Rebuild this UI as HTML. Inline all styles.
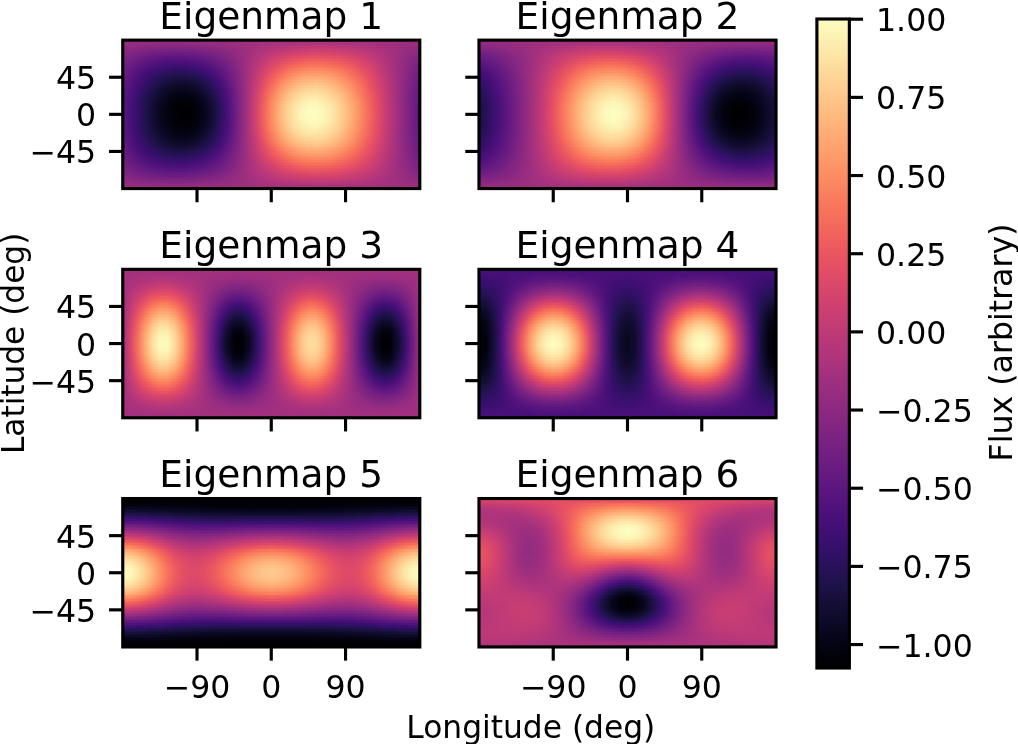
<!DOCTYPE html>
<html><head><meta charset="utf-8"><title>Eigenmaps</title>
<style>
html,body{margin:0;padding:0;background:#fff}
#fig{position:relative;width:1018px;height:744px;overflow:hidden;background:#fff}
.m{position:absolute;background-repeat:no-repeat}
#cb{position:absolute;left:816.9px;top:19px;width:32.45px;height:649px;background:linear-gradient(180deg,#fcfdbf 0.00%,#fcf7b9 1.56%,#fcf0b2 3.12%,#fde9aa 4.69%,#fde2a3 6.25%,#fdda9c 7.81%,#fed395 9.38%,#fecc8f 10.94%,#fec488 12.50%,#febd82 14.06%,#feb67c 15.62%,#feae77 17.19%,#fea772 18.75%,#fe9f6d 20.31%,#fd9869 21.88%,#fc9065 23.44%,#fc8961 25.00%,#fa815f 26.56%,#f9795d 28.12%,#f7725c 29.69%,#f56b5c 31.25%,#f2645c 32.81%,#ef5d5e 34.38%,#eb5760 35.94%,#e75263 37.50%,#e24d66 39.06%,#dc4869 40.62%,#d6456c 42.19%,#d0416f 43.75%,#ca3e72 45.31%,#c43c75 46.88%,#bd3977 48.44%,#b73779 50.00%,#b0357b 51.56%,#aa337d 53.12%,#a3307e 54.69%,#9c2e7f 56.25%,#962c80 57.81%,#902a81 59.38%,#892881 60.94%,#832681 62.50%,#7c2382 64.06%,#762181 65.62%,#701f81 67.19%,#6a1c81 68.75%,#641a80 70.31%,#5d177f 71.88%,#57157e 73.44%,#51127c 75.00%,#4a1079 76.56%,#440f76 78.12%,#3d0f71 79.69%,#36106b 81.25%,#2f1163 82.81%,#29115a 84.38%,#221150 85.94%,#1d1147 87.50%,#180f3d 89.06%,#130d34 90.62%,#0e0b2b 92.19%,#0a0822 93.75%,#06051a 95.31%,#030312 96.88%,#020109 98.44%,#000004 100.00%)}
svg{position:absolute;left:0;top:0}
svg text{font-family:"DejaVu Sans","Liberation Sans",sans-serif;font-size:31.6px;fill:#000}
svg line,svg rect{stroke:#000;stroke-width:3.14}
svg rect{stroke-linejoin:miter;stroke-linecap:square}
#m1{left:122.75px;top:40.15px;width:297.05px;height:148.40px;background-image:linear-gradient(90deg,#9e2f7f,#9c2e7f,#9c2e7f,#9c2e7f,#9c2e7f,#9c2e7f,#9c2e7f,#9c2e7f,#9c2e7f,#9c2e7f,#9c2e7f,#9c2e7f,#9c2e7f,#9e2f7f,#9e2f7f,#9e2f7f,#9e2f7f,#a02f7f,#a02f7f,#a02f7f,#a1307e,#a1307e,#a1307e,#a1307e,#a1307e,#a3307e,#a3307e,#a3307e,#a3307e,#a3307e,#a1307e,#a1307e,#a1307e,#a1307e,#a1307e,#a02f7f,#a02f7f,#a02f7f,#9e2f7f,#9e2f7f,#9e2f7f),
linear-gradient(90deg,#9b2e7f,#992d80,#982d80,#982d80,#962c80,#962c80,#962c80,#962c80,#962c80,#962c80,#982d80,#982d80,#992d80,#992d80,#9b2e7f,#9c2e7f,#9e2f7f,#a02f7f,#a1307e,#a3307e,#a5317e,#a5317e,#a6317d,#a8327d,#a8327d,#a8327d,#aa337d,#aa337d,#a8327d,#a8327d,#a8327d,#a6317d,#a6317d,#a5317e,#a3307e,#a1307e,#a02f7f,#9e2f7f,#9e2f7f,#9c2e7f,#9b2e7f),
linear-gradient(90deg,#982d80,#962c80,#942c80,#932b80,#912b81,#902a81,#902a81,#902a81,#902a81,#912b81,#912b81,#932b80,#942c80,#962c80,#992d80,#9b2e7f,#9e2f7f,#a02f7f,#a3307e,#a5317e,#a8327d,#aa337d,#ab337c,#ad347c,#ae347b,#ae347b,#b0357b,#b0357b,#ae347b,#ae347b,#ad347c,#ab337c,#aa337d,#a8327d,#a6317d,#a3307e,#a1307e,#9e2f7f,#9c2e7f,#992d80,#982d80),
linear-gradient(90deg,#942c80,#912b81,#902a81,#8e2a81,#8c2981,#8b2981,#892881,#892881,#892881,#8b2981,#8c2981,#8e2a81,#902a81,#932b80,#962c80,#992d80,#9c2e7f,#a02f7f,#a5317e,#a8327d,#ab337c,#ad347c,#b0357b,#b2357b,#b3367a,#b5367a,#b73779,#b73779,#b5367a,#b5367a,#b3367a,#b0357b,#ae347b,#ab337c,#a8327d,#a5317e,#a1307e,#9e2f7f,#9b2e7f,#982d80,#942c80),
linear-gradient(90deg,#912b81,#8e2a81,#8b2981,#892881,#862781,#842681,#842681,#832681,#842681,#842681,#862781,#892881,#8c2981,#902a81,#932b80,#982d80,#9c2e7f,#a1307e,#a5317e,#aa337d,#ae347b,#b2357b,#b5367a,#b83779,#ba3878,#bc3978,#bd3977,#bd3977,#bc3978,#ba3878,#b83779,#b5367a,#b2357b,#ae347b,#ab337c,#a6317d,#a3307e,#9e2f7f,#992d80,#962c80,#912b81),
linear-gradient(90deg,#902a81,#8b2981,#882781,#842681,#812581,#802582,#7e2482,#7e2482,#7e2482,#802582,#812581,#842681,#882781,#8c2981,#912b81,#962c80,#9b2e7f,#a1307e,#a6317d,#ad347c,#b2357b,#b73779,#ba3878,#bd3977,#c03a76,#c23b75,#c43c75,#c43c75,#c23b75,#c03a76,#bd3977,#ba3878,#b73779,#b2357b,#ad347c,#a8327d,#a3307e,#9e2f7f,#992d80,#942c80,#902a81),
linear-gradient(90deg,#8c2981,#882781,#832681,#802582,#7c2382,#792282,#782281,#782281,#782281,#792282,#7c2382,#802582,#832681,#882781,#8e2a81,#942c80,#9b2e7f,#a1307e,#a8327d,#ae347b,#b5367a,#ba3878,#bf3a77,#c43c75,#c73d73,#c83e73,#ca3e72,#ca3e72,#c83e73,#c73d73,#c43c75,#bf3a77,#bc3978,#b5367a,#b0357b,#aa337d,#a5317e,#9e2f7f,#982d80,#912b81,#8c2981),
linear-gradient(90deg,#892881,#842681,#802582,#7b2382,#762181,#752181,#732081,#721f81,#732081,#752181,#762181,#7b2382,#802582,#842681,#8b2981,#932b80,#992d80,#a1307e,#aa337d,#b2357b,#b83779,#bf3a77,#c43c75,#c83e73,#cc3f71,#cf4070,#d0416f,#d0416f,#cf4070,#cc3f71,#c83e73,#c43c75,#bf3a77,#ba3878,#b3367a,#ab337c,#a5317e,#9e2f7f,#962c80,#902a81,#892881),
linear-gradient(90deg,#882781,#812581,#7b2382,#762181,#721f81,#6e1e81,#6d1d81,#6d1d81,#6d1d81,#6e1e81,#721f81,#762181,#7b2382,#812581,#892881,#912b81,#992d80,#a1307e,#ab337c,#b3367a,#bc3978,#c43c75,#ca3e72,#cf4070,#d2426f,#d5446d,#d6456c,#d6456c,#d5446d,#d2426f,#cd4071,#c83e73,#c43c75,#bd3977,#b5367a,#ad347c,#a6317d,#9e2f7f,#962c80,#8e2a81,#882781),
linear-gradient(90deg,#842681,#7e2482,#782281,#721f81,#6d1d81,#6a1c81,#681c81,#671b80,#671b80,#6a1c81,#6d1d81,#721f81,#762181,#7e2482,#862781,#902a81,#992d80,#a3307e,#ad347c,#b73779,#bf3a77,#c73d73,#cf4070,#d3436e,#d8456c,#db476a,#dc4869,#dc4869,#d9466b,#d6456c,#d3436e,#cd4071,#c73d73,#c03a76,#b83779,#ae347b,#a6317d,#9e2f7f,#942c80,#8c2981,#842681),
linear-gradient(90deg,#832681,#7b2382,#732081,#6e1e81,#681c81,#651a80,#621980,#621980,#621980,#641a80,#671b80,#6d1d81,#732081,#7b2382,#832681,#8e2a81,#982d80,#a3307e,#ae347b,#b83779,#c43c75,#cc3f71,#d3436e,#d9466b,#de4968,#e04c67,#e24d66,#e04c67,#df4a68,#dc4869,#d8456c,#d2426f,#cc3f71,#c23b75,#ba3878,#b0357b,#a6317d,#9e2f7f,#942c80,#8b2981,#832681),
linear-gradient(90deg,#802582,#782281,#701f81,#6a1c81,#641a80,#601880,#5d177f,#5c167f,#5c167f,#5f187f,#621980,#681c81,#6e1e81,#782281,#812581,#8c2981,#982d80,#a3307e,#b0357b,#bc3978,#c73d73,#d0416f,#d8456c,#df4a68,#e34e65,#e55064,#e75263,#e55064,#e44f64,#e24d66,#dc4869,#d6456c,#cf4070,#c53c74,#bc3978,#b2357b,#a8327d,#9c2e7f,#932b80,#892881,#802582),
linear-gradient(90deg,#7e2482,#752181,#6d1d81,#651a80,#601880,#5c167f,#59157e,#57157e,#57157e,#59157e,#5d177f,#641a80,#6b1d81,#732081,#7e2482,#8b2981,#962c80,#a5317e,#b2357b,#bf3a77,#ca3e72,#d5446d,#dc4869,#e34e65,#e85362,#ea5661,#eb5760,#ea5661,#e95462,#e55064,#e04c67,#db476a,#d2426f,#c83e73,#bf3a77,#b3367a,#a8327d,#9c2e7f,#932b80,#882781,#7e2482),
linear-gradient(90deg,#7c2382,#721f81,#6a1c81,#621980,#5c167f,#57157e,#54137d,#52137c,#52137c,#54137d,#59157e,#5f187f,#671b80,#701f81,#7c2382,#882781,#962c80,#a5317e,#b3367a,#c03a76,#cd4071,#d8456c,#e24d66,#e85362,#eb5760,#ee5b5e,#ef5d5e,#ee5b5e,#ec5860,#ea5661,#e44f64,#de4968,#d6456c,#cc3f71,#c03a76,#b5367a,#aa337d,#9c2e7f,#912b81,#862781,#7c2382),
linear-gradient(90deg,#792282,#701f81,#671b80,#5f187f,#57157e,#52137c,#4e117b,#4c117a,#4c117a,#4f127b,#54137d,#5a167e,#621980,#6d1d81,#792282,#862781,#962c80,#a5317e,#b5367a,#c43c75,#d0416f,#dc4869,#e55064,#eb5760,#ef5d5e,#f2625d,#f2645c,#f2625d,#f05f5e,#ed5a5f,#e85362,#e24d66,#d9466b,#cf4070,#c43c75,#b73779,#aa337d,#9c2e7f,#912b81,#842681,#792282),
linear-gradient(90deg,#782281,#6d1d81,#641a80,#5a167e,#54137d,#4e117b,#491078,#471078,#471078,#4a1079,#4f127b,#56147d,#5f187f,#6a1c81,#762181,#842681,#942c80,#a5317e,#b73779,#c53c74,#d5446d,#e04c67,#e95462,#ef5d5e,#f2645c,#f4695c,#f56b5c,#f4695c,#f3655c,#f05f5e,#ec5860,#e55064,#dc4869,#d2426f,#c53c74,#b83779,#ab337c,#9c2e7f,#902a81,#842681,#782281),
linear-gradient(90deg,#762181,#6b1d81,#601880,#57157e,#4f127b,#491078,#440f76,#420f75,#420f75,#451077,#4a1079,#51127c,#5c167f,#671b80,#752181,#842681,#942c80,#a6317d,#b73779,#c83e73,#d8456c,#e44f64,#ec5860,#f2625d,#f56b5c,#f66e5c,#f7705c,#f7705c,#f56b5c,#f3655c,#ef5d5e,#e85362,#df4a68,#d3436e,#c73d73,#ba3878,#ab337c,#9c2e7f,#902a81,#832681,#762181),
linear-gradient(90deg,#752181,#681c81,#5d177f,#54137d,#4c117a,#451077,#400f74,#3d0f71,#3d0f71,#400f74,#451077,#4e117b,#57157e,#641a80,#721f81,#832681,#942c80,#a6317d,#b83779,#cc3f71,#db476a,#e75263,#ef5d5e,#f4695c,#f7705c,#f8765c,#f9785d,#f8765c,#f7725c,#f56b5c,#f1605d,#eb5760,#e24d66,#d6456c,#ca3e72,#bc3978,#ab337c,#9c2e7f,#902a81,#812581,#752181),
linear-gradient(90deg,#732081,#671b80,#5a167e,#51127c,#471078,#400f74,#3b0f70,#38106c,#38106c,#3b0f70,#400f74,#491078,#54137d,#601880,#701f81,#812581,#932b80,#a6317d,#ba3878,#cd4071,#de4968,#ea5661,#f2625d,#f66e5c,#f9785d,#fa7d5e,#fa7f5e,#fa7d5e,#f9785d,#f7705c,#f3655c,#ed5a5f,#e44f64,#d9466b,#cc3f71,#bc3978,#ad347c,#9c2e7f,#8e2a81,#802582,#732081),
linear-gradient(90deg,#721f81,#641a80,#59157e,#4e117b,#440f76,#3b0f70,#36106b,#331067,#331067,#36106b,#3b0f70,#440f76,#4f127b,#5d177f,#6d1d81,#802582,#932b80,#a8327d,#bc3978,#d0416f,#e04c67,#ed5a5f,#f4675c,#f8765c,#fa7f5e,#fb8560,#fb8761,#fb8560,#fa7f5e,#f8765c,#f56b5c,#f05f5e,#e85362,#db476a,#cd4071,#bd3977,#ad347c,#9c2e7f,#8e2a81,#7e2482,#721f81),
linear-gradient(90deg,#701f81,#621980,#56147d,#4a1079,#400f74,#38106c,#311165,#2d1161,#2d1161,#311165,#36106b,#400f74,#4c117a,#5a167e,#6b1d81,#7e2482,#932b80,#a8327d,#bd3977,#d2426f,#e34e65,#ef5d5e,#f66e5c,#f97b5d,#fb8560,#fc8a62,#fc8c63,#fc8a62,#fb8560,#f97b5d,#f7705c,#f2625d,#ea5661,#de4968,#cf4070,#bf3a77,#ae347b,#9c2e7f,#8c2981,#7e2482,#701f81),
linear-gradient(90deg,#6e1e81,#601880,#52137c,#471078,#3d0f71,#341069,#2d1161,#2a115c,#29115a,#2c115f,#331067,#3b0f70,#491078,#57157e,#681c81,#7c2382,#912b81,#a8327d,#bf3a77,#d5446d,#e55064,#f2625d,#f8745c,#fa815f,#fc8c63,#fd9266,#fd9467,#fd9266,#fc8c63,#fa815f,#f8765c,#f4675c,#eb5760,#e04c67,#d0416f,#c03a76,#ae347b,#9e2f7f,#8c2981,#7c2382,#6e1e81),
linear-gradient(90deg,#6d1d81,#5f187f,#51127c,#440f76,#390f6e,#2f1163,#29115a,#251255,#251255,#271258,#2d1161,#38106c,#451077,#54137d,#671b80,#7b2382,#912b81,#a8327d,#c03a76,#d6456c,#e95462,#f3655c,#f9795d,#fc8961,#fd9266,#fd9a6a,#fd9b6b,#fd9869,#fd9266,#fb8761,#f9795d,#f56b5c,#ed5a5f,#e24d66,#d2426f,#c03a76,#ae347b,#9e2f7f,#8c2981,#7c2382,#6d1d81),
linear-gradient(90deg,#6b1d81,#5c167f,#4f127b,#420f75,#36106b,#2c115f,#251255,#221150,#21114e,#241253,#29115a,#331067,#400f74,#52137c,#651a80,#792282,#912b81,#aa337d,#c23b75,#d9466b,#eb5760,#f56b5c,#fa7d5e,#fc8e64,#fd9a6a,#fe9f6d,#fea16e,#fe9f6d,#fd9869,#fc8c63,#fa7f5e,#f66e5c,#ef5d5e,#e44f64,#d3436e,#c23b75,#b0357b,#9e2f7f,#8c2981,#7b2382,#6b1d81),
linear-gradient(90deg,#6a1c81,#5a167e,#4c117a,#3f0f72,#331067,#29115a,#221150,#1e1149,#1e1149,#20114b,#251255,#2f1163,#3d0f71,#4f127b,#621980,#782281,#902a81,#aa337d,#c43c75,#db476a,#ed5a5f,#f66e5c,#fb835f,#fd9467,#fe9f6d,#fea772,#fea772,#fea571,#fe9d6c,#fd9266,#fb835f,#f7725c,#f1605d,#e55064,#d6456c,#c43c75,#b0357b,#9e2f7f,#8b2981,#792282,#6a1c81),
linear-gradient(90deg,#681c81,#59157e,#4a1079,#3b0f70,#2f1163,#251255,#20114b,#1c1044,#1a1042,#1d1147,#21114e,#2c115f,#390f6e,#4c117a,#601880,#762181,#902a81,#aa337d,#c53c74,#de4968,#ee5b5e,#f8745c,#fc8961,#fd9a6a,#fea571,#feac76,#feae77,#feaa74,#fea36f,#fd9869,#fc8961,#f8765c,#f2645c,#e75263,#d8456c,#c53c74,#b2357b,#9e2f7f,#8b2981,#792282,#681c81),
linear-gradient(90deg,#681c81,#57157e,#491078,#390f6e,#2c115f,#221150,#1c1044,#19103f,#180f3d,#19103f,#1e1149,#271258,#36106b,#491078,#5f187f,#762181,#902a81,#ab337c,#c73d73,#df4a68,#f05f5e,#f9785d,#fc8e64,#fe9f6d,#feaa74,#feb27a,#feb47b,#feb078,#fea973,#fd9b6b,#fc8c63,#f9795d,#f3655c,#e95462,#d8456c,#c53c74,#b2357b,#9e2f7f,#8b2981,#782281,#681c81),
linear-gradient(90deg,#671b80,#56147d,#451077,#38106c,#2a115c,#20114b,#19103f,#150e38,#140e36,#160f3b,#1c1044,#241253,#331067,#471078,#5c167f,#752181,#8e2a81,#ab337c,#c73d73,#e04c67,#f2625d,#f97b5d,#fd9266,#fea571,#feb27a,#feb77e,#feb97f,#feb67c,#feae77,#fea16e,#fc9065,#fa7d5e,#f4695c,#ea5661,#d9466b,#c73d73,#b2357b,#9e2f7f,#8b2981,#782281,#671b80),
linear-gradient(90deg,#651a80,#54137d,#440f76,#341069,#271258,#1d1147,#160f3b,#130d34,#120d31,#140e36,#19103f,#21114e,#2f1163,#440f76,#5a167e,#732081,#8e2a81,#ab337c,#c83e73,#e34e65,#f3655c,#fa815f,#fd9869,#feaa74,#feb77e,#febd82,#febf84,#febb81,#feb27a,#fea571,#fd9467,#fa815f,#f56b5c,#eb5760,#db476a,#c73d73,#b3367a,#9e2f7f,#8b2981,#782281,#651a80),
linear-gradient(90deg,#651a80,#54137d,#420f75,#331067,#251255,#1c1044,#150e38,#110c2f,#100b2d,#110c2f,#150e38,#1e1149,#2d1161,#420f75,#59157e,#721f81,#8e2a81,#ab337c,#ca3e72,#e44f64,#f4695c,#fb8560,#fe9d6c,#feae77,#febb81,#fec287,#fec488,#fec185,#feb77e,#feaa74,#fd9a6a,#fb8560,#f66e5c,#ec5860,#dc4869,#c83e73,#b3367a,#9e2f7f,#892881,#762181,#651a80),
linear-gradient(90deg,#641a80,#52137c,#400f74,#311165,#221150,#19103f,#130d34,#0e0b2b,#0d0a29,#0e0b2b,#130d34,#1c1044,#2a115c,#3f0f72,#57157e,#721f81,#8e2a81,#ad347c,#cc3f71,#e55064,#f66c5c,#fc8961,#fea16e,#feb47b,#fec185,#fec88c,#feca8d,#fec68a,#febb81,#feae77,#fe9d6c,#fb8761,#f7705c,#ed5a5f,#de4968,#ca3e72,#b3367a,#9e2f7f,#892881,#762181,#641a80),
linear-gradient(90deg,#641a80,#51127c,#3f0f72,#2f1163,#21114e,#180f3d,#110c2f,#0c0926,#0b0924,#0c0926,#120d31,#19103f,#271258,#3d0f71,#56147d,#701f81,#8e2a81,#ad347c,#cc3f71,#e75263,#f66e5c,#fc8c63,#fea571,#feb97f,#fec68a,#fecd90,#fecf92,#feca8d,#fec185,#feb27a,#fe9f6d,#fc8a62,#f8745c,#ee5b5e,#df4a68,#ca3e72,#b3367a,#9e2f7f,#892881,#762181,#641a80),
linear-gradient(90deg,#621980,#4f127b,#3f0f72,#2d1161,#20114b,#150e38,#0e0b2b,#0b0924,#090720,#0b0924,#100b2d,#180f3d,#251255,#3b0f70,#54137d,#6e1e81,#8c2981,#ad347c,#cd4071,#e95462,#f7725c,#fc9065,#fea973,#febd82,#fecc8f,#fed395,#fed395,#fecf92,#fec488,#feb67c,#fea36f,#fc8e64,#f8765c,#ef5d5e,#e04c67,#cc3f71,#b5367a,#9e2f7f,#892881,#752181,#621980),
linear-gradient(90deg,#621980,#4f127b,#3d0f71,#2c115f,#1e1149,#140e36,#0d0a29,#090720,#08071e,#090720,#0d0a29,#150e38,#221150,#38106c,#52137c,#6e1e81,#8c2981,#ad347c,#cf4070,#ea5661,#f8745c,#fd9467,#feae77,#fec185,#fecf92,#fed799,#fed89a,#fed395,#fec88c,#feb97f,#fea772,#fc9065,#f9785d,#f05f5e,#e04c67,#cc3f71,#b5367a,#9e2f7f,#892881,#752181,#621980),
linear-gradient(90deg,#601880,#4e117b,#3b0f70,#2a115c,#1c1044,#130d34,#0c0926,#08071e,#06051a,#07061c,#0b0924,#140e36,#21114e,#36106b,#51127c,#6d1d81,#8c2981,#ae347b,#d0416f,#eb5760,#f9785d,#fd9668,#feb27a,#fec68a,#fed395,#fdda9c,#fddc9e,#fed799,#fecc8f,#febd82,#feaa74,#fd9266,#f9795d,#f1605d,#e24d66,#cc3f71,#b5367a,#9e2f7f,#892881,#752181,#601880),
linear-gradient(90deg,#601880,#4e117b,#390f6e,#29115a,#1a1042,#110c2f,#0a0822,#06051a,#050416,#06051a,#0a0822,#120d31,#20114b,#341069,#4f127b,#6d1d81,#8c2981,#ae347b,#d0416f,#ec5860,#f9795d,#fd9a6a,#feb67c,#feca8d,#fed89a,#fde0a1,#fde0a1,#fdda9c,#fecf92,#fec185,#feac76,#fd9668,#f97b5d,#f2625d,#e24d66,#cd4071,#b5367a,#9e2f7f,#892881,#732081,#601880),
linear-gradient(90deg,#5f187f,#4c117a,#390f6e,#271258,#19103f,#100b2d,#090720,#060518,#040414,#050416,#08071e,#110c2f,#1d1147,#331067,#4e117b,#6b1d81,#8c2981,#ae347b,#d2426f,#ed5a5f,#f97b5d,#fe9d6c,#feb77e,#fecd90,#fddc9e,#fde3a5,#fde3a5,#fddea0,#fed395,#fec488,#feb078,#fd9869,#fa7d5e,#f2645c,#e34e65,#cd4071,#b73779,#9e2f7f,#892881,#732081,#5f187f),
linear-gradient(90deg,#5f187f,#4c117a,#38106c,#251255,#19103f,#0e0b2b,#08071e,#050416,#030312,#040414,#07061c,#0e0b2b,#1c1044,#311165,#4e117b,#6b1d81,#8b2981,#ae347b,#d2426f,#ee5b5e,#fa7d5e,#fe9f6d,#febb81,#fed194,#fde0a1,#fde7a9,#fde7a9,#fde2a3,#fed799,#fec68a,#feb27a,#fd9a6a,#fa7f5e,#f3655c,#e44f64,#cf4070,#b73779,#9e2f7f,#882781,#732081,#5f187f),
linear-gradient(90deg,#5f187f,#4a1079,#36106b,#251255,#180f3d,#0d0a29,#07061c,#030312,#02020d,#03030f,#06051a,#0d0a29,#1a1042,#2f1163,#4c117a,#6a1c81,#8b2981,#ae347b,#d3436e,#ee5b5e,#fa815f,#fea36f,#febf84,#fed395,#fde2a3,#fdebac,#fdebac,#fde5a7,#fdda9c,#fec88c,#feb47b,#fd9b6b,#fa815f,#f3655c,#e44f64,#cf4070,#b73779,#9e2f7f,#882781,#732081,#5f187f),
linear-gradient(90deg,#5d177f,#4a1079,#36106b,#241253,#160f3b,#0d0a29,#06051a,#03030f,#02020b,#02020d,#050416,#0c0926,#19103f,#2d1161,#4a1079,#6a1c81,#8b2981,#b0357b,#d3436e,#ef5d5e,#fb835f,#fea571,#fec185,#fed799,#fde5a7,#fcecae,#fceeb0,#fde7a9,#fddc9e,#fecc8f,#feb67c,#fe9d6c,#fb835f,#f4675c,#e55064,#cf4070,#b73779,#a02f7f,#882781,#732081,#5d177f),
linear-gradient(90deg,#5d177f,#4a1079,#36106b,#221150,#150e38,#0c0926,#060518,#02020d,#020109,#02020b,#040414,#0b0924,#180f3d,#2c115f,#4a1079,#681c81,#8b2981,#b0357b,#d5446d,#f05f5e,#fb8560,#fea772,#fec287,#fed89a,#fde9aa,#fcf0b2,#fcf0b2,#fdebac,#fddea0,#fecd90,#feb77e,#fe9f6d,#fb8560,#f4675c,#e55064,#d0416f,#b73779,#a02f7f,#882781,#721f81,#5d177f),
linear-gradient(90deg,#5d177f,#491078,#341069,#221150,#150e38,#0b0924,#050416,#02020b,#010108,#020109,#030312,#0a0822,#160f3b,#2c115f,#491078,#681c81,#8b2981,#b0357b,#d5446d,#f1605d,#fb8560,#fea973,#fec68a,#fddc9e,#fdebac,#fcf2b4,#fcf4b6,#fcecae,#fde2a3,#fecf92,#feb97f,#fea16e,#fb8560,#f4695c,#e55064,#d0416f,#b83779,#a02f7f,#882781,#721f81,#5d177f),
linear-gradient(90deg,#5d177f,#491078,#341069,#21114e,#140e36,#0a0822,#040414,#02020b,#010108,#010108,#030312,#090720,#150e38,#2a115c,#491078,#681c81,#8b2981,#b0357b,#d5446d,#f1605d,#fb8761,#feaa74,#fec88c,#fddea0,#fcecae,#fcf4b6,#fcf6b8,#fceeb0,#fde3a5,#fed194,#febb81,#fea36f,#fb8761,#f4695c,#e75263,#d0416f,#b83779,#a02f7f,#882781,#721f81,#5d177f),
linear-gradient(90deg,#5d177f,#491078,#331067,#21114e,#140e36,#0a0822,#040414,#020109,#010106,#010108,#03030f,#090720,#150e38,#2a115c,#471078,#681c81,#8b2981,#b0357b,#d6456c,#f2625d,#fc8961,#feac76,#feca8d,#fde0a1,#fceeb0,#fcf7b9,#fcf7b9,#fcf0b2,#fde5a7,#fed395,#febd82,#fea36f,#fb8761,#f56b5c,#e75263,#d0416f,#b83779,#a02f7f,#882781,#721f81,#5d177f),
linear-gradient(90deg,#5c167f,#471078,#331067,#21114e,#130d34,#090720,#030312,#010108,#010005,#010106,#02020d,#08071e,#140e36,#29115a,#471078,#671b80,#8b2981,#b0357b,#d6456c,#f2625d,#fc8961,#feae77,#feca8d,#fde2a3,#fcf0b2,#fcf9bb,#fcf9bb,#fcf2b4,#fde5a7,#fed597,#febf84,#fea571,#fc8961,#f56b5c,#e75263,#d0416f,#b83779,#a02f7f,#882781,#721f81,#5c167f),
linear-gradient(90deg,#5c167f,#471078,#331067,#20114b,#130d34,#090720,#030312,#010108,#010005,#010005,#02020d,#07061c,#140e36,#29115a,#471078,#671b80,#8b2981,#b0357b,#d6456c,#f2625d,#fc8a62,#feae77,#fecc8f,#fde3a5,#fcf2b4,#fcf9bb,#fcfbbd,#fcf4b6,#fde7a9,#fed597,#febf84,#fea571,#fc8961,#f56b5c,#e75263,#d2426f,#b83779,#a02f7f,#882781,#721f81,#5c167f),
linear-gradient(90deg,#5c167f,#471078,#331067,#20114b,#130d34,#090720,#03030f,#010108,#000004,#010005,#02020b,#07061c,#130d34,#271258,#451077,#671b80,#8b2981,#b0357b,#d6456c,#f2645c,#fc8a62,#feb078,#fecd90,#fde3a5,#fcf4b6,#fcfbbd,#fcfbbd,#fcf6b8,#fde9aa,#fed799,#fec185,#fea772,#fc8961,#f66c5c,#e85362,#d2426f,#b83779,#a02f7f,#882781,#721f81,#5c167f),
linear-gradient(90deg,#5c167f,#471078,#331067,#20114b,#130d34,#08071e,#03030f,#010106,#000004,#010005,#02020b,#07061c,#130d34,#271258,#451077,#671b80,#8b2981,#b0357b,#d6456c,#f2645c,#fc8c63,#feb078,#fecd90,#fde5a7,#fcf4b6,#fcfbbd,#fcfdbf,#fcf6b8,#fde9aa,#fed799,#fec185,#fea772,#fc8a62,#f66c5c,#e85362,#d2426f,#b83779,#a02f7f,#882781,#721f81,#5c167f),
linear-gradient(90deg,#5c167f,#471078,#331067,#20114b,#120d31,#08071e,#03030f,#010106,#000004,#000004,#02020b,#07061c,#130d34,#271258,#451077,#671b80,#8b2981,#b0357b,#d8456c,#f2645c,#fc8c63,#feb078,#fecd90,#fde5a7,#fcf4b6,#fcfdbf,#fcfdbf,#fcf6b8,#fde9aa,#fed799,#fec185,#fea772,#fc8a62,#f66c5c,#e85362,#d2426f,#b83779,#a02f7f,#882781,#721f81,#5c167f),
linear-gradient(90deg,#5c167f,#471078,#331067,#20114b,#120d31,#08071e,#03030f,#010106,#000004,#000004,#02020b,#06051a,#130d34,#271258,#451077,#671b80,#8b2981,#b0357b,#d8456c,#f2645c,#fc8c63,#feb078,#fecf92,#fde5a7,#fcf6b8,#fcfdbf,#fcfdbf,#fcf7b9,#fde9aa,#fed799,#fec185,#fea772,#fc8a62,#f66c5c,#e85362,#d2426f,#b83779,#a02f7f,#882781,#721f81,#5c167f),
linear-gradient(90deg,#5c167f,#471078,#331067,#20114b,#120d31,#08071e,#03030f,#010106,#000004,#000004,#02020b,#06051a,#130d34,#271258,#451077,#671b80,#8b2981,#b0357b,#d8456c,#f2645c,#fc8c63,#feb078,#fecf92,#fde5a7,#fcf6b8,#fcfdbf,#fcfdbf,#fcf7b9,#fde9aa,#fed799,#fec185,#fea772,#fc8a62,#f66c5c,#e85362,#d2426f,#b83779,#a02f7f,#882781,#721f81,#5c167f),
linear-gradient(90deg,#5c167f,#471078,#331067,#20114b,#120d31,#08071e,#03030f,#010106,#000004,#000004,#02020b,#07061c,#130d34,#271258,#451077,#671b80,#8b2981,#b0357b,#d8456c,#f2645c,#fc8c63,#feb078,#fecd90,#fde5a7,#fcf4b6,#fcfdbf,#fcfdbf,#fcf6b8,#fde9aa,#fed799,#fec185,#fea772,#fc8a62,#f66c5c,#e85362,#d2426f,#b83779,#a02f7f,#882781,#721f81,#5c167f),
linear-gradient(90deg,#5c167f,#471078,#331067,#20114b,#130d34,#08071e,#03030f,#010106,#000004,#010005,#02020b,#07061c,#130d34,#271258,#451077,#671b80,#8b2981,#b0357b,#d6456c,#f2645c,#fc8c63,#feb078,#fecd90,#fde5a7,#fcf4b6,#fcfbbd,#fcfdbf,#fcf6b8,#fde9aa,#fed799,#fec185,#fea772,#fc8a62,#f66c5c,#e85362,#d2426f,#b83779,#a02f7f,#882781,#721f81,#5c167f),
linear-gradient(90deg,#5c167f,#471078,#331067,#20114b,#130d34,#090720,#03030f,#010108,#000004,#010005,#02020b,#07061c,#130d34,#271258,#451077,#671b80,#8b2981,#b0357b,#d6456c,#f2645c,#fc8a62,#feb078,#fecd90,#fde3a5,#fcf4b6,#fcfbbd,#fcfbbd,#fcf6b8,#fde9aa,#fed799,#fec185,#fea772,#fc8961,#f66c5c,#e85362,#d2426f,#b83779,#a02f7f,#882781,#721f81,#5c167f),
linear-gradient(90deg,#5c167f,#471078,#331067,#20114b,#130d34,#090720,#030312,#010108,#010005,#010005,#02020d,#07061c,#140e36,#29115a,#471078,#671b80,#8b2981,#b0357b,#d6456c,#f2625d,#fc8a62,#feae77,#fecc8f,#fde3a5,#fcf2b4,#fcf9bb,#fcfbbd,#fcf4b6,#fde7a9,#fed597,#febf84,#fea571,#fc8961,#f56b5c,#e75263,#d2426f,#b83779,#a02f7f,#882781,#721f81,#5c167f),
linear-gradient(90deg,#5c167f,#471078,#331067,#21114e,#130d34,#090720,#030312,#010108,#010005,#010106,#02020d,#08071e,#140e36,#29115a,#471078,#671b80,#8b2981,#b0357b,#d6456c,#f2625d,#fc8961,#feae77,#feca8d,#fde2a3,#fcf0b2,#fcf9bb,#fcf9bb,#fcf2b4,#fde5a7,#fed597,#febf84,#fea571,#fc8961,#f56b5c,#e75263,#d0416f,#b83779,#a02f7f,#882781,#721f81,#5c167f),
linear-gradient(90deg,#5d177f,#491078,#331067,#21114e,#140e36,#0a0822,#040414,#020109,#010106,#010108,#03030f,#090720,#150e38,#2a115c,#471078,#681c81,#8b2981,#b0357b,#d6456c,#f2625d,#fc8961,#feac76,#feca8d,#fde0a1,#fceeb0,#fcf7b9,#fcf7b9,#fcf0b2,#fde5a7,#fed395,#febd82,#fea36f,#fb8761,#f56b5c,#e75263,#d0416f,#b83779,#a02f7f,#882781,#721f81,#5d177f),
linear-gradient(90deg,#5d177f,#491078,#341069,#21114e,#140e36,#0a0822,#040414,#02020b,#010108,#010108,#030312,#090720,#150e38,#2a115c,#491078,#681c81,#8b2981,#b0357b,#d5446d,#f1605d,#fb8761,#feaa74,#fec88c,#fddea0,#fcecae,#fcf4b6,#fcf6b8,#fceeb0,#fde3a5,#fed194,#febb81,#fea36f,#fb8761,#f4695c,#e75263,#d0416f,#b83779,#a02f7f,#882781,#721f81,#5d177f),
linear-gradient(90deg,#5d177f,#491078,#341069,#221150,#150e38,#0b0924,#050416,#02020b,#010108,#020109,#030312,#0a0822,#160f3b,#2c115f,#491078,#681c81,#8b2981,#b0357b,#d5446d,#f1605d,#fb8560,#fea973,#fec68a,#fddc9e,#fdebac,#fcf2b4,#fcf4b6,#fcecae,#fde2a3,#fecf92,#feb97f,#fea16e,#fb8560,#f4695c,#e55064,#d0416f,#b83779,#a02f7f,#882781,#721f81,#5d177f),
linear-gradient(90deg,#5d177f,#4a1079,#36106b,#221150,#150e38,#0c0926,#060518,#02020d,#020109,#02020b,#040414,#0b0924,#180f3d,#2c115f,#4a1079,#681c81,#8b2981,#b0357b,#d5446d,#f05f5e,#fb8560,#fea772,#fec287,#fed89a,#fde9aa,#fcf0b2,#fcf0b2,#fdebac,#fddea0,#fecd90,#feb77e,#fe9f6d,#fb8560,#f4675c,#e55064,#d0416f,#b73779,#a02f7f,#882781,#721f81,#5d177f),
linear-gradient(90deg,#5d177f,#4a1079,#36106b,#241253,#160f3b,#0d0a29,#06051a,#03030f,#02020b,#02020d,#050416,#0c0926,#19103f,#2d1161,#4a1079,#6a1c81,#8b2981,#b0357b,#d3436e,#ef5d5e,#fb835f,#fea571,#fec185,#fed799,#fde5a7,#fcecae,#fceeb0,#fde7a9,#fddc9e,#fecc8f,#feb67c,#fe9d6c,#fb835f,#f4675c,#e55064,#cf4070,#b73779,#a02f7f,#882781,#732081,#5d177f),
linear-gradient(90deg,#5f187f,#4a1079,#36106b,#251255,#180f3d,#0d0a29,#07061c,#030312,#02020d,#03030f,#06051a,#0d0a29,#1a1042,#2f1163,#4c117a,#6a1c81,#8b2981,#ae347b,#d3436e,#ee5b5e,#fa815f,#fea36f,#febf84,#fed395,#fde2a3,#fdebac,#fdebac,#fde5a7,#fdda9c,#fec88c,#feb47b,#fd9b6b,#fa815f,#f3655c,#e44f64,#cf4070,#b73779,#9e2f7f,#882781,#732081,#5f187f),
linear-gradient(90deg,#5f187f,#4c117a,#38106c,#251255,#19103f,#0e0b2b,#08071e,#050416,#030312,#040414,#07061c,#0e0b2b,#1c1044,#311165,#4e117b,#6b1d81,#8b2981,#ae347b,#d2426f,#ee5b5e,#fa7d5e,#fe9f6d,#febb81,#fed194,#fde0a1,#fde7a9,#fde7a9,#fde2a3,#fed799,#fec68a,#feb27a,#fd9a6a,#fa7f5e,#f3655c,#e44f64,#cf4070,#b73779,#9e2f7f,#882781,#732081,#5f187f),
linear-gradient(90deg,#5f187f,#4c117a,#390f6e,#271258,#19103f,#100b2d,#090720,#060518,#040414,#050416,#08071e,#110c2f,#1d1147,#331067,#4e117b,#6b1d81,#8c2981,#ae347b,#d2426f,#ed5a5f,#f97b5d,#fe9d6c,#feb77e,#fecd90,#fddc9e,#fde3a5,#fde3a5,#fddea0,#fed395,#fec488,#feb078,#fd9869,#fa7d5e,#f2645c,#e34e65,#cd4071,#b73779,#9e2f7f,#892881,#732081,#5f187f),
linear-gradient(90deg,#601880,#4e117b,#390f6e,#29115a,#1a1042,#110c2f,#0a0822,#06051a,#050416,#06051a,#0a0822,#120d31,#20114b,#341069,#4f127b,#6d1d81,#8c2981,#ae347b,#d0416f,#ec5860,#f9795d,#fd9a6a,#feb67c,#feca8d,#fed89a,#fde0a1,#fde0a1,#fdda9c,#fecf92,#fec185,#feac76,#fd9668,#f97b5d,#f2625d,#e24d66,#cd4071,#b5367a,#9e2f7f,#892881,#732081,#601880),
linear-gradient(90deg,#601880,#4e117b,#3b0f70,#2a115c,#1c1044,#130d34,#0c0926,#08071e,#06051a,#07061c,#0b0924,#140e36,#21114e,#36106b,#51127c,#6d1d81,#8c2981,#ae347b,#d0416f,#eb5760,#f9785d,#fd9668,#feb27a,#fec68a,#fed395,#fdda9c,#fddc9e,#fed799,#fecc8f,#febd82,#feaa74,#fd9266,#f9795d,#f1605d,#e24d66,#cc3f71,#b5367a,#9e2f7f,#892881,#752181,#601880),
linear-gradient(90deg,#621980,#4f127b,#3d0f71,#2c115f,#1e1149,#140e36,#0d0a29,#090720,#08071e,#090720,#0d0a29,#150e38,#221150,#38106c,#52137c,#6e1e81,#8c2981,#ad347c,#cf4070,#ea5661,#f8745c,#fd9467,#feae77,#fec185,#fecf92,#fed799,#fed89a,#fed395,#fec88c,#feb97f,#fea772,#fc9065,#f9785d,#f05f5e,#e04c67,#cc3f71,#b5367a,#9e2f7f,#892881,#752181,#621980),
linear-gradient(90deg,#621980,#4f127b,#3f0f72,#2d1161,#20114b,#150e38,#0e0b2b,#0b0924,#090720,#0b0924,#100b2d,#180f3d,#251255,#3b0f70,#54137d,#6e1e81,#8c2981,#ad347c,#cd4071,#e95462,#f7725c,#fc9065,#fea973,#febd82,#fecc8f,#fed395,#fed395,#fecf92,#fec488,#feb67c,#fea36f,#fc8e64,#f8765c,#ef5d5e,#e04c67,#cc3f71,#b5367a,#9e2f7f,#892881,#752181,#621980),
linear-gradient(90deg,#641a80,#51127c,#3f0f72,#2f1163,#21114e,#180f3d,#110c2f,#0c0926,#0b0924,#0c0926,#120d31,#19103f,#271258,#3d0f71,#56147d,#701f81,#8e2a81,#ad347c,#cc3f71,#e75263,#f66e5c,#fc8c63,#fea571,#feb97f,#fec68a,#fecd90,#fecf92,#feca8d,#fec185,#feb27a,#fe9f6d,#fc8a62,#f8745c,#ee5b5e,#df4a68,#ca3e72,#b3367a,#9e2f7f,#892881,#762181,#641a80),
linear-gradient(90deg,#641a80,#52137c,#400f74,#311165,#221150,#19103f,#130d34,#0e0b2b,#0d0a29,#0e0b2b,#130d34,#1c1044,#2a115c,#3f0f72,#57157e,#721f81,#8e2a81,#ad347c,#cc3f71,#e55064,#f66c5c,#fc8961,#fea16e,#feb47b,#fec185,#fec88c,#feca8d,#fec68a,#febb81,#feae77,#fe9d6c,#fb8761,#f7705c,#ed5a5f,#de4968,#ca3e72,#b3367a,#9e2f7f,#892881,#762181,#641a80),
linear-gradient(90deg,#651a80,#54137d,#420f75,#331067,#251255,#1c1044,#150e38,#110c2f,#100b2d,#110c2f,#150e38,#1e1149,#2d1161,#420f75,#59157e,#721f81,#8e2a81,#ab337c,#ca3e72,#e44f64,#f4695c,#fb8560,#fe9d6c,#feae77,#febb81,#fec287,#fec488,#fec185,#feb77e,#feaa74,#fd9a6a,#fb8560,#f66e5c,#ec5860,#dc4869,#c83e73,#b3367a,#9e2f7f,#892881,#762181,#651a80),
linear-gradient(90deg,#651a80,#54137d,#440f76,#341069,#271258,#1d1147,#160f3b,#130d34,#120d31,#140e36,#19103f,#21114e,#2f1163,#440f76,#5a167e,#732081,#8e2a81,#ab337c,#c83e73,#e34e65,#f3655c,#fa815f,#fd9869,#feaa74,#feb77e,#febd82,#febf84,#febb81,#feb27a,#fea571,#fd9467,#fa815f,#f56b5c,#eb5760,#db476a,#c73d73,#b3367a,#9e2f7f,#8b2981,#782281,#651a80),
linear-gradient(90deg,#671b80,#56147d,#451077,#38106c,#2a115c,#20114b,#19103f,#150e38,#140e36,#160f3b,#1c1044,#241253,#331067,#471078,#5c167f,#752181,#8e2a81,#ab337c,#c73d73,#e04c67,#f2625d,#f97b5d,#fd9266,#fea571,#feb27a,#feb77e,#feb97f,#feb67c,#feae77,#fea16e,#fc9065,#fa7d5e,#f4695c,#ea5661,#d9466b,#c73d73,#b2357b,#9e2f7f,#8b2981,#782281,#671b80),
linear-gradient(90deg,#681c81,#57157e,#491078,#390f6e,#2c115f,#221150,#1c1044,#19103f,#180f3d,#19103f,#1e1149,#271258,#36106b,#491078,#5f187f,#762181,#902a81,#ab337c,#c73d73,#df4a68,#f05f5e,#f9785d,#fc8e64,#fe9f6d,#feaa74,#feb27a,#feb47b,#feb078,#fea973,#fd9b6b,#fc8c63,#f9795d,#f3655c,#e95462,#d8456c,#c53c74,#b2357b,#9e2f7f,#8b2981,#782281,#681c81),
linear-gradient(90deg,#681c81,#59157e,#4a1079,#3b0f70,#2f1163,#251255,#20114b,#1c1044,#1a1042,#1d1147,#21114e,#2c115f,#390f6e,#4c117a,#601880,#762181,#902a81,#aa337d,#c53c74,#de4968,#ee5b5e,#f8745c,#fc8961,#fd9a6a,#fea571,#feac76,#feae77,#feaa74,#fea36f,#fd9869,#fc8961,#f8765c,#f2645c,#e75263,#d8456c,#c53c74,#b2357b,#9e2f7f,#8b2981,#792282,#681c81),
linear-gradient(90deg,#6a1c81,#5a167e,#4c117a,#3f0f72,#331067,#29115a,#221150,#1e1149,#1e1149,#20114b,#251255,#2f1163,#3d0f71,#4f127b,#621980,#782281,#902a81,#aa337d,#c43c75,#db476a,#ed5a5f,#f66e5c,#fb835f,#fd9467,#fe9f6d,#fea772,#fea772,#fea571,#fe9d6c,#fd9266,#fb835f,#f7725c,#f1605d,#e55064,#d6456c,#c43c75,#b0357b,#9e2f7f,#8b2981,#792282,#6a1c81),
linear-gradient(90deg,#6b1d81,#5c167f,#4f127b,#420f75,#36106b,#2c115f,#251255,#221150,#21114e,#241253,#29115a,#331067,#400f74,#52137c,#651a80,#792282,#912b81,#aa337d,#c23b75,#d9466b,#eb5760,#f56b5c,#fa7d5e,#fc8e64,#fd9a6a,#fe9f6d,#fea16e,#fe9f6d,#fd9869,#fc8c63,#fa7f5e,#f66e5c,#ef5d5e,#e44f64,#d3436e,#c23b75,#b0357b,#9e2f7f,#8c2981,#7b2382,#6b1d81),
linear-gradient(90deg,#6d1d81,#5f187f,#51127c,#440f76,#390f6e,#2f1163,#29115a,#251255,#251255,#271258,#2d1161,#38106c,#451077,#54137d,#671b80,#7b2382,#912b81,#a8327d,#c03a76,#d6456c,#e95462,#f3655c,#f9795d,#fc8961,#fd9266,#fd9a6a,#fd9b6b,#fd9869,#fd9266,#fb8761,#f9795d,#f56b5c,#ed5a5f,#e24d66,#d2426f,#c03a76,#ae347b,#9e2f7f,#8c2981,#7c2382,#6d1d81),
linear-gradient(90deg,#6e1e81,#601880,#52137c,#471078,#3d0f71,#341069,#2d1161,#2a115c,#29115a,#2c115f,#331067,#3b0f70,#491078,#57157e,#681c81,#7c2382,#912b81,#a8327d,#bf3a77,#d5446d,#e55064,#f2625d,#f8745c,#fa815f,#fc8c63,#fd9266,#fd9467,#fd9266,#fc8c63,#fa815f,#f8765c,#f4675c,#eb5760,#e04c67,#d0416f,#c03a76,#ae347b,#9e2f7f,#8c2981,#7c2382,#6e1e81),
linear-gradient(90deg,#701f81,#621980,#56147d,#4a1079,#400f74,#38106c,#311165,#2d1161,#2d1161,#311165,#36106b,#400f74,#4c117a,#5a167e,#6b1d81,#7e2482,#932b80,#a8327d,#bd3977,#d2426f,#e34e65,#ef5d5e,#f66e5c,#f97b5d,#fb8560,#fc8a62,#fc8c63,#fc8a62,#fb8560,#f97b5d,#f7705c,#f2625d,#ea5661,#de4968,#cf4070,#bf3a77,#ae347b,#9c2e7f,#8c2981,#7e2482,#701f81),
linear-gradient(90deg,#721f81,#641a80,#59157e,#4e117b,#440f76,#3b0f70,#36106b,#331067,#331067,#36106b,#3b0f70,#440f76,#4f127b,#5d177f,#6d1d81,#802582,#932b80,#a8327d,#bc3978,#d0416f,#e04c67,#ed5a5f,#f4675c,#f8765c,#fa7f5e,#fb8560,#fb8761,#fb8560,#fa7f5e,#f8765c,#f56b5c,#f05f5e,#e85362,#db476a,#cd4071,#bd3977,#ad347c,#9c2e7f,#8e2a81,#7e2482,#721f81),
linear-gradient(90deg,#732081,#671b80,#5a167e,#51127c,#471078,#400f74,#3b0f70,#38106c,#38106c,#3b0f70,#400f74,#491078,#54137d,#601880,#701f81,#812581,#932b80,#a6317d,#ba3878,#cd4071,#de4968,#ea5661,#f2625d,#f66e5c,#f9785d,#fa7d5e,#fa7f5e,#fa7d5e,#f9785d,#f7705c,#f3655c,#ed5a5f,#e44f64,#d9466b,#cc3f71,#bc3978,#ad347c,#9c2e7f,#8e2a81,#802582,#732081),
linear-gradient(90deg,#752181,#681c81,#5d177f,#54137d,#4c117a,#451077,#400f74,#3d0f71,#3d0f71,#400f74,#451077,#4e117b,#57157e,#641a80,#721f81,#832681,#942c80,#a6317d,#b83779,#cc3f71,#db476a,#e75263,#ef5d5e,#f4695c,#f7705c,#f8765c,#f9785d,#f8765c,#f7725c,#f56b5c,#f1605d,#eb5760,#e24d66,#d6456c,#ca3e72,#bc3978,#ab337c,#9c2e7f,#902a81,#812581,#752181),
linear-gradient(90deg,#762181,#6b1d81,#601880,#57157e,#4f127b,#491078,#440f76,#420f75,#420f75,#451077,#4a1079,#51127c,#5c167f,#671b80,#752181,#842681,#942c80,#a6317d,#b73779,#c83e73,#d8456c,#e44f64,#ec5860,#f2625d,#f56b5c,#f66e5c,#f7705c,#f7705c,#f56b5c,#f3655c,#ef5d5e,#e85362,#df4a68,#d3436e,#c73d73,#ba3878,#ab337c,#9c2e7f,#902a81,#832681,#762181),
linear-gradient(90deg,#782281,#6d1d81,#641a80,#5a167e,#54137d,#4e117b,#491078,#471078,#471078,#4a1079,#4f127b,#56147d,#5f187f,#6a1c81,#762181,#842681,#942c80,#a5317e,#b73779,#c53c74,#d5446d,#e04c67,#e95462,#ef5d5e,#f2645c,#f4695c,#f56b5c,#f4695c,#f3655c,#f05f5e,#ec5860,#e55064,#dc4869,#d2426f,#c53c74,#b83779,#ab337c,#9c2e7f,#902a81,#842681,#782281),
linear-gradient(90deg,#792282,#701f81,#671b80,#5f187f,#57157e,#52137c,#4e117b,#4c117a,#4c117a,#4f127b,#54137d,#5a167e,#621980,#6d1d81,#792282,#862781,#962c80,#a5317e,#b5367a,#c43c75,#d0416f,#dc4869,#e55064,#eb5760,#ef5d5e,#f2625d,#f2645c,#f2625d,#f05f5e,#ed5a5f,#e85362,#e24d66,#d9466b,#cf4070,#c43c75,#b73779,#aa337d,#9c2e7f,#912b81,#842681,#792282),
linear-gradient(90deg,#7c2382,#721f81,#6a1c81,#621980,#5c167f,#57157e,#54137d,#52137c,#52137c,#54137d,#59157e,#5f187f,#671b80,#701f81,#7c2382,#882781,#962c80,#a5317e,#b3367a,#c03a76,#cd4071,#d8456c,#e24d66,#e85362,#eb5760,#ee5b5e,#ef5d5e,#ee5b5e,#ec5860,#ea5661,#e44f64,#de4968,#d6456c,#cc3f71,#c03a76,#b5367a,#aa337d,#9c2e7f,#912b81,#862781,#7c2382),
linear-gradient(90deg,#7e2482,#752181,#6d1d81,#651a80,#601880,#5c167f,#59157e,#57157e,#57157e,#59157e,#5d177f,#641a80,#6b1d81,#732081,#7e2482,#8b2981,#962c80,#a5317e,#b2357b,#bf3a77,#ca3e72,#d5446d,#dc4869,#e34e65,#e85362,#ea5661,#eb5760,#ea5661,#e95462,#e55064,#e04c67,#db476a,#d2426f,#c83e73,#bf3a77,#b3367a,#a8327d,#9c2e7f,#932b80,#882781,#7e2482),
linear-gradient(90deg,#802582,#782281,#701f81,#6a1c81,#641a80,#601880,#5d177f,#5c167f,#5c167f,#5f187f,#621980,#681c81,#6e1e81,#782281,#812581,#8c2981,#982d80,#a3307e,#b0357b,#bc3978,#c73d73,#d0416f,#d8456c,#df4a68,#e34e65,#e55064,#e75263,#e55064,#e44f64,#e24d66,#dc4869,#d6456c,#cf4070,#c53c74,#bc3978,#b2357b,#a8327d,#9c2e7f,#932b80,#892881,#802582),
linear-gradient(90deg,#832681,#7b2382,#732081,#6e1e81,#681c81,#651a80,#621980,#621980,#621980,#641a80,#671b80,#6d1d81,#732081,#7b2382,#832681,#8e2a81,#982d80,#a3307e,#ae347b,#b83779,#c43c75,#cc3f71,#d3436e,#d9466b,#de4968,#e04c67,#e24d66,#e04c67,#df4a68,#dc4869,#d8456c,#d2426f,#cc3f71,#c23b75,#ba3878,#b0357b,#a6317d,#9e2f7f,#942c80,#8b2981,#832681),
linear-gradient(90deg,#842681,#7e2482,#782281,#721f81,#6d1d81,#6a1c81,#681c81,#671b80,#671b80,#6a1c81,#6d1d81,#721f81,#762181,#7e2482,#862781,#902a81,#992d80,#a3307e,#ad347c,#b73779,#bf3a77,#c73d73,#cf4070,#d3436e,#d8456c,#db476a,#dc4869,#dc4869,#d9466b,#d6456c,#d3436e,#cd4071,#c73d73,#c03a76,#b83779,#ae347b,#a6317d,#9e2f7f,#942c80,#8c2981,#842681),
linear-gradient(90deg,#882781,#812581,#7b2382,#762181,#721f81,#6e1e81,#6d1d81,#6d1d81,#6d1d81,#6e1e81,#721f81,#762181,#7b2382,#812581,#892881,#912b81,#992d80,#a1307e,#ab337c,#b3367a,#bc3978,#c43c75,#ca3e72,#cf4070,#d2426f,#d5446d,#d6456c,#d6456c,#d5446d,#d2426f,#cd4071,#c83e73,#c43c75,#bd3977,#b5367a,#ad347c,#a6317d,#9e2f7f,#962c80,#8e2a81,#882781),
linear-gradient(90deg,#892881,#842681,#802582,#7b2382,#762181,#752181,#732081,#721f81,#732081,#752181,#762181,#7b2382,#802582,#842681,#8b2981,#932b80,#992d80,#a1307e,#aa337d,#b2357b,#b83779,#bf3a77,#c43c75,#c83e73,#cc3f71,#cf4070,#d0416f,#d0416f,#cf4070,#cc3f71,#c83e73,#c43c75,#bf3a77,#ba3878,#b3367a,#ab337c,#a5317e,#9e2f7f,#962c80,#902a81,#892881),
linear-gradient(90deg,#8c2981,#882781,#832681,#802582,#7c2382,#792282,#782281,#782281,#782281,#792282,#7c2382,#802582,#832681,#882781,#8e2a81,#942c80,#9b2e7f,#a1307e,#a8327d,#ae347b,#b5367a,#ba3878,#bf3a77,#c43c75,#c73d73,#c83e73,#ca3e72,#ca3e72,#c83e73,#c73d73,#c43c75,#bf3a77,#bc3978,#b5367a,#b0357b,#aa337d,#a5317e,#9e2f7f,#982d80,#912b81,#8c2981),
linear-gradient(90deg,#902a81,#8b2981,#882781,#842681,#812581,#802582,#7e2482,#7e2482,#7e2482,#802582,#812581,#842681,#882781,#8c2981,#912b81,#962c80,#9b2e7f,#a1307e,#a6317d,#ad347c,#b2357b,#b73779,#ba3878,#bd3977,#c03a76,#c23b75,#c43c75,#c43c75,#c23b75,#c03a76,#bd3977,#ba3878,#b73779,#b2357b,#ad347c,#a8327d,#a3307e,#9e2f7f,#992d80,#942c80,#902a81),
linear-gradient(90deg,#912b81,#8e2a81,#8b2981,#892881,#862781,#842681,#842681,#832681,#842681,#842681,#862781,#892881,#8c2981,#902a81,#932b80,#982d80,#9c2e7f,#a1307e,#a5317e,#aa337d,#ae347b,#b2357b,#b5367a,#b83779,#ba3878,#bc3978,#bd3977,#bd3977,#bc3978,#ba3878,#b83779,#b5367a,#b2357b,#ae347b,#ab337c,#a6317d,#a3307e,#9e2f7f,#992d80,#962c80,#912b81),
linear-gradient(90deg,#942c80,#912b81,#902a81,#8e2a81,#8c2981,#8b2981,#892881,#892881,#892881,#8b2981,#8c2981,#8e2a81,#902a81,#932b80,#962c80,#992d80,#9c2e7f,#a02f7f,#a5317e,#a8327d,#ab337c,#ad347c,#b0357b,#b2357b,#b3367a,#b5367a,#b73779,#b73779,#b5367a,#b5367a,#b3367a,#b0357b,#ae347b,#ab337c,#a8327d,#a5317e,#a1307e,#9e2f7f,#9b2e7f,#982d80,#942c80),
linear-gradient(90deg,#982d80,#962c80,#942c80,#932b80,#912b81,#902a81,#902a81,#902a81,#902a81,#912b81,#912b81,#932b80,#942c80,#962c80,#992d80,#9b2e7f,#9e2f7f,#a02f7f,#a3307e,#a5317e,#a8327d,#aa337d,#ab337c,#ad347c,#ae347b,#ae347b,#b0357b,#b0357b,#ae347b,#ae347b,#ad347c,#ab337c,#aa337d,#a8327d,#a6317d,#a3307e,#a1307e,#9e2f7f,#9c2e7f,#992d80,#982d80),
linear-gradient(90deg,#9b2e7f,#992d80,#982d80,#982d80,#962c80,#962c80,#962c80,#962c80,#962c80,#962c80,#982d80,#982d80,#992d80,#992d80,#9b2e7f,#9c2e7f,#9e2f7f,#a02f7f,#a1307e,#a3307e,#a5317e,#a5317e,#a6317d,#a8327d,#a8327d,#a8327d,#aa337d,#aa337d,#a8327d,#a8327d,#a8327d,#a6317d,#a6317d,#a5317e,#a3307e,#a1307e,#a02f7f,#9e2f7f,#9e2f7f,#9c2e7f,#9b2e7f),
linear-gradient(90deg,#9e2f7f,#9c2e7f,#9c2e7f,#9c2e7f,#9c2e7f,#9c2e7f,#9c2e7f,#9c2e7f,#9c2e7f,#9c2e7f,#9c2e7f,#9c2e7f,#9c2e7f,#9e2f7f,#9e2f7f,#9e2f7f,#9e2f7f,#a02f7f,#a02f7f,#a02f7f,#a1307e,#a1307e,#a1307e,#a1307e,#a1307e,#a3307e,#a3307e,#a3307e,#a3307e,#a3307e,#a1307e,#a1307e,#a1307e,#a1307e,#a1307e,#a02f7f,#a02f7f,#a02f7f,#9e2f7f,#9e2f7f,#9e2f7f);background-size:100% 3.48px;background-position:0 146.92px,0 145.43px,0 143.95px,0 142.46px,0 140.98px,0 139.50px,0 138.01px,0 136.53px,0 135.04px,0 133.56px,0 132.08px,0 130.59px,0 129.11px,0 127.62px,0 126.14px,0 124.66px,0 123.17px,0 121.69px,0 120.20px,0 118.72px,0 117.24px,0 115.75px,0 114.27px,0 112.78px,0 111.30px,0 109.82px,0 108.33px,0 106.85px,0 105.36px,0 103.88px,0 102.40px,0 100.91px,0 99.43px,0 97.94px,0 96.46px,0 94.98px,0 93.49px,0 92.01px,0 90.52px,0 89.04px,0 87.56px,0 86.07px,0 84.59px,0 83.10px,0 81.62px,0 80.14px,0 78.65px,0 77.17px,0 75.68px,0 74.20px,0 72.72px,0 71.23px,0 69.75px,0 68.26px,0 66.78px,0 65.30px,0 63.81px,0 62.33px,0 60.84px,0 59.36px,0 57.88px,0 56.39px,0 54.91px,0 53.42px,0 51.94px,0 50.46px,0 48.97px,0 47.49px,0 46.00px,0 44.52px,0 43.04px,0 41.55px,0 40.07px,0 38.58px,0 37.10px,0 35.62px,0 34.13px,0 32.65px,0 31.16px,0 29.68px,0 28.20px,0 26.71px,0 25.23px,0 23.74px,0 22.26px,0 20.78px,0 19.29px,0 17.81px,0 16.32px,0 14.84px,0 13.36px,0 11.87px,0 10.39px,0 8.90px,0 7.42px,0 5.94px,0 4.45px,0 2.97px,0 1.48px,0 0.00px}
#m2{left:478.97px;top:40.15px;width:297.06px;height:148.40px;background-image:linear-gradient(90deg,#9b2e7f,#9b2e7f,#9b2e7f,#9b2e7f,#9c2e7f,#9c2e7f,#9c2e7f,#9e2f7f,#9e2f7f,#9e2f7f,#a02f7f,#a02f7f,#a02f7f,#a02f7f,#a02f7f,#a02f7f,#a1307e,#a1307e,#a1307e,#a02f7f,#a02f7f,#a02f7f,#a02f7f,#a02f7f,#9e2f7f,#9e2f7f,#9e2f7f,#9e2f7f,#9c2e7f,#9c2e7f,#9c2e7f,#9b2e7f,#9b2e7f,#9b2e7f,#9b2e7f,#9b2e7f,#9b2e7f,#9b2e7f,#9b2e7f,#9b2e7f,#9b2e7f),
linear-gradient(90deg,#962c80,#962c80,#982d80,#982d80,#992d80,#9b2e7f,#9c2e7f,#9e2f7f,#a02f7f,#a02f7f,#a1307e,#a3307e,#a5317e,#a5317e,#a6317d,#a6317d,#a6317d,#a6317d,#a6317d,#a6317d,#a6317d,#a5317e,#a5317e,#a3307e,#a1307e,#a02f7f,#9e2f7f,#9c2e7f,#9c2e7f,#9b2e7f,#992d80,#982d80,#962c80,#962c80,#942c80,#942c80,#942c80,#942c80,#942c80,#942c80,#962c80),
linear-gradient(90deg,#902a81,#912b81,#932b80,#942c80,#962c80,#992d80,#9b2e7f,#9e2f7f,#a02f7f,#a3307e,#a5317e,#a6317d,#aa337d,#ab337c,#ab337c,#ad347c,#ad347c,#ad347c,#ad347c,#ad347c,#ab337c,#ab337c,#a8327d,#a6317d,#a5317e,#a1307e,#a02f7f,#9c2e7f,#9b2e7f,#982d80,#962c80,#942c80,#932b80,#912b81,#902a81,#8e2a81,#8e2a81,#8e2a81,#8e2a81,#902a81,#902a81),
linear-gradient(90deg,#8b2981,#8c2981,#8e2a81,#912b81,#942c80,#982d80,#9b2e7f,#9e2f7f,#a1307e,#a5317e,#a8327d,#ab337c,#ad347c,#b0357b,#b2357b,#b3367a,#b3367a,#b3367a,#b3367a,#b3367a,#b2357b,#b0357b,#ad347c,#ab337c,#a8327d,#a5317e,#a1307e,#9c2e7f,#992d80,#962c80,#932b80,#902a81,#8e2a81,#8b2981,#892881,#892881,#882781,#882781,#882781,#892881,#8b2981),
linear-gradient(90deg,#862781,#882781,#8b2981,#8e2a81,#912b81,#962c80,#992d80,#9e2f7f,#a3307e,#a6317d,#ab337c,#ae347b,#b2357b,#b5367a,#b73779,#b83779,#ba3878,#ba3878,#ba3878,#ba3878,#b73779,#b5367a,#b2357b,#ae347b,#ab337c,#a6317d,#a1307e,#9c2e7f,#982d80,#942c80,#902a81,#8c2981,#892881,#862781,#842681,#832681,#832681,#812581,#832681,#842681,#862781),
linear-gradient(90deg,#812581,#832681,#882781,#8b2981,#902a81,#942c80,#992d80,#9e2f7f,#a3307e,#a8327d,#ad347c,#b2357b,#b73779,#ba3878,#bd3977,#bf3a77,#c03a76,#c03a76,#c03a76,#bf3a77,#bd3977,#ba3878,#b73779,#b2357b,#ad347c,#a8327d,#a3307e,#9c2e7f,#982d80,#912b81,#8c2981,#882781,#842681,#812581,#7e2482,#7c2382,#7c2382,#7c2382,#7c2382,#7e2482,#812581),
linear-gradient(90deg,#7c2382,#802582,#832681,#882781,#8c2981,#932b80,#982d80,#9e2f7f,#a5317e,#aa337d,#b0357b,#b5367a,#ba3878,#bf3a77,#c23b75,#c53c74,#c73d73,#c73d73,#c73d73,#c53c74,#c43c75,#c03a76,#bc3978,#b73779,#b0357b,#aa337d,#a3307e,#9c2e7f,#962c80,#902a81,#892881,#842681,#802582,#7c2382,#792282,#782281,#762181,#762181,#782281,#792282,#7c2382),
linear-gradient(90deg,#782281,#7b2382,#802582,#842681,#8b2981,#912b81,#982d80,#9e2f7f,#a5317e,#ad347c,#b3367a,#b83779,#bf3a77,#c43c75,#c83e73,#cc3f71,#cd4071,#cd4071,#cd4071,#cc3f71,#c83e73,#c53c74,#c03a76,#ba3878,#b3367a,#ad347c,#a5317e,#9c2e7f,#942c80,#8e2a81,#862781,#812581,#7b2382,#782281,#752181,#721f81,#721f81,#721f81,#721f81,#752181,#782281),
linear-gradient(90deg,#732081,#762181,#7c2382,#812581,#882781,#902a81,#962c80,#9e2f7f,#a6317d,#ae347b,#b5367a,#bd3977,#c43c75,#c83e73,#cd4071,#d0416f,#d3436e,#d3436e,#d3436e,#d2426f,#cf4070,#ca3e72,#c53c74,#bf3a77,#b73779,#ae347b,#a5317e,#9c2e7f,#932b80,#8b2981,#832681,#7c2382,#762181,#721f81,#6e1e81,#6d1d81,#6b1d81,#6b1d81,#6d1d81,#6e1e81,#732081),
linear-gradient(90deg,#6e1e81,#732081,#782281,#802582,#862781,#8e2a81,#962c80,#9e2f7f,#a6317d,#b0357b,#b83779,#c03a76,#c73d73,#cd4071,#d2426f,#d6456c,#d9466b,#d9466b,#d9466b,#d8456c,#d5446d,#d0416f,#ca3e72,#c23b75,#ba3878,#b0357b,#a6317d,#9c2e7f,#932b80,#892881,#812581,#792282,#732081,#6d1d81,#6a1c81,#671b80,#671b80,#671b80,#681c81,#6a1c81,#6e1e81),
linear-gradient(90deg,#6a1c81,#6e1e81,#752181,#7c2382,#842681,#8c2981,#942c80,#9e2f7f,#a8327d,#b2357b,#ba3878,#c43c75,#cc3f71,#d2426f,#d8456c,#db476a,#de4968,#df4a68,#df4a68,#de4968,#db476a,#d5446d,#cf4070,#c73d73,#bd3977,#b2357b,#a8327d,#9c2e7f,#912b81,#882781,#7e2482,#752181,#6e1e81,#681c81,#651a80,#621980,#601880,#601880,#621980,#651a80,#6a1c81),
linear-gradient(90deg,#651a80,#6b1d81,#721f81,#792282,#812581,#8b2981,#942c80,#9e2f7f,#a8327d,#b3367a,#bd3977,#c73d73,#cf4070,#d6456c,#dc4869,#e04c67,#e34e65,#e44f64,#e44f64,#e34e65,#df4a68,#db476a,#d3436e,#ca3e72,#c03a76,#b5367a,#a8327d,#9c2e7f,#902a81,#842681,#7b2382,#721f81,#6a1c81,#641a80,#5f187f,#5c167f,#5c167f,#5c167f,#5d177f,#601880,#651a80),
linear-gradient(90deg,#621980,#681c81,#6e1e81,#762181,#802582,#892881,#942c80,#9e2f7f,#aa337d,#b5367a,#bf3a77,#ca3e72,#d2426f,#db476a,#e04c67,#e55064,#e85362,#e95462,#e95462,#e85362,#e44f64,#df4a68,#d8456c,#cf4070,#c43c75,#b73779,#aa337d,#9c2e7f,#8e2a81,#832681,#782281,#6e1e81,#651a80,#5f187f,#5a167e,#57157e,#56147d,#57157e,#59157e,#5c167f,#621980),
linear-gradient(90deg,#5d177f,#641a80,#6b1d81,#752181,#7e2482,#882781,#932b80,#9e2f7f,#aa337d,#b73779,#c23b75,#cc3f71,#d6456c,#de4968,#e44f64,#e95462,#ec5860,#ed5a5f,#ed5a5f,#ec5860,#e95462,#e44f64,#dc4869,#d2426f,#c53c74,#b83779,#aa337d,#9b2e7f,#8e2a81,#802582,#752181,#6a1c81,#601880,#5a167e,#56147d,#52137c,#51127c,#51127c,#54137d,#59157e,#5d177f),
linear-gradient(90deg,#5a167e,#601880,#681c81,#721f81,#7c2382,#882781,#932b80,#9e2f7f,#ab337c,#b83779,#c43c75,#cf4070,#d9466b,#e24d66,#e85362,#ed5a5f,#f05f5e,#f1605d,#f1605d,#f05f5e,#ed5a5f,#e85362,#e04c67,#d6456c,#c83e73,#ba3878,#ab337c,#9b2e7f,#8c2981,#7e2482,#721f81,#671b80,#5d177f,#56147d,#51127c,#4e117b,#4c117a,#4c117a,#4f127b,#54137d,#5a167e),
linear-gradient(90deg,#56147d,#5d177f,#671b80,#701f81,#7b2382,#862781,#912b81,#9e2f7f,#ab337c,#b83779,#c53c74,#d2426f,#dc4869,#e55064,#ec5860,#f05f5e,#f2645c,#f4675c,#f4675c,#f3655c,#f05f5e,#eb5760,#e44f64,#d9466b,#cc3f71,#bd3977,#ab337c,#9b2e7f,#8b2981,#7c2382,#6e1e81,#621980,#59157e,#51127c,#4a1079,#471078,#471078,#471078,#4a1079,#4f127b,#56147d),
linear-gradient(90deg,#52137c,#5a167e,#641a80,#6d1d81,#792282,#842681,#912b81,#9e2f7f,#ad347c,#ba3878,#c83e73,#d5446d,#e04c67,#e95462,#ef5d5e,#f3655c,#f56b5c,#f66e5c,#f66e5c,#f66c5c,#f3655c,#ef5d5e,#e85362,#de4968,#cf4070,#bf3a77,#ad347c,#9b2e7f,#892881,#792282,#6b1d81,#5f187f,#54137d,#4c117a,#451077,#420f75,#420f75,#420f75,#451077,#4c117a,#52137c),
linear-gradient(90deg,#4f127b,#57157e,#601880,#6b1d81,#782281,#832681,#912b81,#9e2f7f,#ad347c,#bc3978,#ca3e72,#d8456c,#e34e65,#eb5760,#f2625d,#f56b5c,#f7725c,#f8765c,#f8765c,#f7725c,#f66c5c,#f2625d,#eb5760,#e04c67,#d2426f,#c03a76,#ae347b,#9b2e7f,#892881,#782281,#681c81,#5c167f,#51127c,#471078,#400f74,#3d0f71,#3d0f71,#3d0f71,#420f75,#471078,#4f127b),
linear-gradient(90deg,#4a1079,#54137d,#5f187f,#6a1c81,#762181,#832681,#902a81,#9e2f7f,#ae347b,#bd3977,#cc3f71,#d9466b,#e55064,#ee5b5e,#f4675c,#f7705c,#f9785d,#f97b5d,#fa7d5e,#f9795d,#f7725c,#f4695c,#ee5b5e,#e44f64,#d5446d,#c23b75,#ae347b,#9b2e7f,#882781,#762181,#651a80,#57157e,#4c117a,#420f75,#3b0f70,#38106c,#38106c,#390f6e,#3d0f71,#440f76,#4a1079),
linear-gradient(90deg,#471078,#51127c,#5c167f,#681c81,#752181,#812581,#902a81,#9e2f7f,#ae347b,#bf3a77,#cd4071,#dc4869,#e85362,#f05f5e,#f56b5c,#f8765c,#fa7f5e,#fb835f,#fb8560,#fa815f,#f9795d,#f66e5c,#f1605d,#e75263,#d8456c,#c53c74,#b0357b,#9b2e7f,#862781,#732081,#641a80,#54137d,#491078,#3f0f72,#38106c,#331067,#331067,#341069,#390f6e,#3f0f72,#471078),
linear-gradient(90deg,#440f76,#4f127b,#5a167e,#651a80,#732081,#812581,#902a81,#9e2f7f,#ae347b,#c03a76,#d0416f,#df4a68,#ea5661,#f2645c,#f7705c,#fa7d5e,#fb8560,#fc8a62,#fc8a62,#fc8961,#fa815f,#f8745c,#f3655c,#e95462,#db476a,#c73d73,#b0357b,#9b2e7f,#842681,#721f81,#601880,#51127c,#440f76,#390f6e,#331067,#2d1161,#2d1161,#2f1163,#341069,#3b0f70,#440f76),
linear-gradient(90deg,#400f74,#4c117a,#57157e,#641a80,#721f81,#802582,#902a81,#9e2f7f,#b0357b,#c03a76,#d2426f,#e04c67,#ec5860,#f4675c,#f8765c,#fb835f,#fc8c63,#fc9065,#fd9266,#fc8e64,#fb8761,#f9795d,#f56b5c,#ec5860,#dc4869,#c83e73,#b2357b,#9b2e7f,#842681,#701f81,#5d177f,#4e117b,#400f74,#341069,#2d1161,#2a115c,#29115a,#2c115f,#311165,#38106c,#400f74),
linear-gradient(90deg,#3f0f72,#491078,#56147d,#621980,#701f81,#7e2482,#8e2a81,#a02f7f,#b0357b,#c23b75,#d3436e,#e34e65,#ee5b5e,#f56b5c,#f97b5d,#fc8961,#fd9266,#fd9869,#fd9a6a,#fd9668,#fc8c63,#fa815f,#f66e5c,#ee5b5e,#df4a68,#ca3e72,#b2357b,#9b2e7f,#832681,#6d1d81,#5a167e,#4a1079,#3b0f70,#311165,#29115a,#251255,#251255,#271258,#2c115f,#341069,#3f0f72),
linear-gradient(90deg,#3b0f70,#471078,#54137d,#601880,#6e1e81,#7e2482,#8e2a81,#a02f7f,#b0357b,#c43c75,#d5446d,#e44f64,#f05f5e,#f7705c,#fa7f5e,#fc8e64,#fd9869,#fe9d6c,#fe9f6d,#fd9b6b,#fd9467,#fb8761,#f8745c,#f05f5e,#e24d66,#cc3f71,#b3367a,#992d80,#812581,#6b1d81,#59157e,#471078,#38106c,#2c115f,#251255,#21114e,#21114e,#241253,#29115a,#311165,#3b0f70),
linear-gradient(90deg,#38106c,#440f76,#51127c,#5f187f,#6d1d81,#7c2382,#8e2a81,#a02f7f,#b2357b,#c43c75,#d6456c,#e55064,#f1605d,#f8745c,#fb8560,#fd9467,#fe9d6c,#fea571,#fea772,#fea36f,#fd9a6a,#fc8c63,#f9795d,#f2645c,#e44f64,#cd4071,#b3367a,#992d80,#812581,#6a1c81,#56147d,#440f76,#331067,#29115a,#21114e,#1e1149,#1e1149,#20114b,#251255,#2d1161,#38106c),
linear-gradient(90deg,#36106b,#420f75,#4f127b,#5d177f,#6d1d81,#7c2382,#8c2981,#a02f7f,#b2357b,#c53c74,#d8456c,#e85362,#f2645c,#f9785d,#fc8961,#fd9869,#fea36f,#feaa74,#feac76,#fea973,#fe9f6d,#fd9266,#fa7f5e,#f4675c,#e55064,#d0416f,#b5367a,#992d80,#802582,#681c81,#52137c,#400f74,#2f1163,#241253,#1e1149,#1a1042,#1a1042,#1d1147,#221150,#2a115c,#36106b),
linear-gradient(90deg,#331067,#400f74,#4e117b,#5c167f,#6b1d81,#7b2382,#8c2981,#a02f7f,#b2357b,#c53c74,#d9466b,#e95462,#f4675c,#f97b5d,#fc8e64,#fe9d6c,#fea973,#feb078,#feb27a,#feae77,#fea772,#fd9869,#fb835f,#f56b5c,#e85362,#d2426f,#b5367a,#992d80,#7e2482,#671b80,#51127c,#3d0f71,#2c115f,#21114e,#1a1042,#180f3d,#180f3d,#1a1042,#20114b,#271258,#331067),
linear-gradient(90deg,#311165,#3d0f71,#4c117a,#5a167e,#6a1c81,#7b2382,#8c2981,#a02f7f,#b3367a,#c73d73,#db476a,#ea5661,#f4695c,#fa7f5e,#fd9266,#fea36f,#feae77,#feb67c,#feb77e,#feb67c,#feac76,#fe9d6c,#fc8961,#f66e5c,#ea5661,#d3436e,#b73779,#992d80,#7e2482,#651a80,#4e117b,#390f6e,#29115a,#1e1149,#180f3d,#150e38,#150e38,#180f3d,#1d1147,#251255,#311165),
linear-gradient(90deg,#2d1161,#3b0f70,#4a1079,#5a167e,#6a1c81,#792282,#8c2981,#a02f7f,#b3367a,#c83e73,#db476a,#eb5760,#f66c5c,#fb835f,#fd9668,#fea772,#feb47b,#febb81,#febf84,#febb81,#feb27a,#fea16e,#fc8c63,#f7725c,#eb5760,#d5446d,#b73779,#992d80,#7c2382,#621980,#4c117a,#36106b,#251255,#1a1042,#150e38,#120d31,#130d34,#150e38,#1a1042,#221150,#2d1161),
linear-gradient(90deg,#2c115f,#390f6e,#491078,#59157e,#681c81,#792282,#8c2981,#a02f7f,#b3367a,#c83e73,#dc4869,#ec5860,#f66e5c,#fb8560,#fd9a6a,#feac76,#feb97f,#fec185,#fec287,#fec185,#feb67c,#fea772,#fc9065,#f8765c,#ed5a5f,#d6456c,#b83779,#992d80,#7c2382,#601880,#491078,#331067,#221150,#180f3d,#120d31,#100b2d,#110c2f,#130d34,#19103f,#21114e,#2c115f),
linear-gradient(90deg,#2a115c,#38106c,#471078,#57157e,#681c81,#792282,#8b2981,#a02f7f,#b3367a,#c83e73,#de4968,#ed5a5f,#f7725c,#fc8961,#fe9d6c,#feb078,#febd82,#fec68a,#fec88c,#fec68a,#febb81,#feac76,#fd9668,#f9795d,#ee5b5e,#d8456c,#b83779,#992d80,#7b2382,#5f187f,#471078,#2f1163,#20114b,#150e38,#100b2d,#0d0a29,#0e0b2b,#110c2f,#160f3b,#1e1149,#2a115c),
linear-gradient(90deg,#271258,#36106b,#451077,#57157e,#671b80,#782281,#8b2981,#a02f7f,#b5367a,#ca3e72,#df4a68,#ee5b5e,#f8745c,#fc8c63,#fea16e,#feb47b,#fec287,#fecc8f,#fecd90,#feca8d,#fec185,#feb078,#fd9a6a,#fa7d5e,#f05f5e,#d9466b,#ba3878,#992d80,#792282,#5d177f,#440f76,#2d1161,#1d1147,#130d34,#0d0a29,#0b0924,#0c0926,#100b2d,#140e36,#1d1147,#271258),
linear-gradient(90deg,#251255,#341069,#451077,#56147d,#671b80,#782281,#8b2981,#a02f7f,#b5367a,#ca3e72,#df4a68,#ef5d5e,#f8765c,#fc8e64,#fea571,#feb77e,#fec68a,#fecf92,#fed395,#fecf92,#fec68a,#feb67c,#fe9d6c,#fa815f,#f1605d,#db476a,#ba3878,#992d80,#792282,#5c167f,#420f75,#2a115c,#1a1042,#110c2f,#0b0924,#090720,#0a0822,#0d0a29,#130d34,#1c1044,#251255),
linear-gradient(90deg,#241253,#331067,#440f76,#54137d,#651a80,#782281,#8b2981,#a02f7f,#b5367a,#cc3f71,#e04c67,#f05f5e,#f9785d,#fd9266,#fea973,#febb81,#feca8d,#fed395,#fed799,#fed597,#feca8d,#feb97f,#fea16e,#fb835f,#f2625d,#db476a,#bc3978,#992d80,#782281,#5c167f,#400f74,#29115a,#19103f,#100b2d,#0a0822,#08071e,#08071e,#0c0926,#120d31,#19103f,#241253),
linear-gradient(90deg,#221150,#311165,#420f75,#54137d,#651a80,#762181,#8b2981,#a02f7f,#b5367a,#cc3f71,#e24d66,#f1605d,#f97b5d,#fd9467,#feac76,#febf84,#fecf92,#fed89a,#fddc9e,#fed89a,#fecd90,#febd82,#fea571,#fb8761,#f2645c,#dc4869,#bc3978,#982d80,#782281,#5a167e,#3f0f72,#251255,#160f3b,#0d0a29,#08071e,#06051a,#07061c,#0a0822,#100b2d,#180f3d,#221150),
linear-gradient(90deg,#21114e,#311165,#420f75,#52137c,#641a80,#762181,#8b2981,#a02f7f,#b5367a,#cc3f71,#e24d66,#f2625d,#fa7d5e,#fd9869,#feae77,#fec287,#fed395,#fddc9e,#fde0a1,#fddc9e,#fed395,#fec185,#fea973,#fc8a62,#f4675c,#de4968,#bc3978,#982d80,#762181,#59157e,#3d0f71,#241253,#150e38,#0b0924,#06051a,#060518,#060518,#090720,#0e0b2b,#160f3b,#21114e),
linear-gradient(90deg,#21114e,#2f1163,#400f74,#52137c,#641a80,#762181,#892881,#a02f7f,#b5367a,#cd4071,#e34e65,#f2645c,#fa7f5e,#fd9a6a,#feb27a,#fec68a,#fed597,#fde0a1,#fde3a5,#fde0a1,#fed799,#fec488,#feac76,#fc8c63,#f4695c,#df4a68,#bd3977,#982d80,#762181,#57157e,#3b0f70,#221150,#130d34,#0a0822,#060518,#040414,#050416,#08071e,#0d0a29,#150e38,#21114e),
linear-gradient(90deg,#20114b,#2d1161,#400f74,#51127c,#641a80,#762181,#892881,#a02f7f,#b5367a,#cd4071,#e34e65,#f2645c,#fa815f,#fd9b6b,#feb47b,#fec88c,#fed89a,#fde3a5,#fde7a9,#fde3a5,#fdda9c,#fec88c,#feae77,#fc8e64,#f56b5c,#df4a68,#bd3977,#982d80,#762181,#56147d,#390f6e,#21114e,#120d31,#090720,#050416,#030312,#040414,#06051a,#0c0926,#140e36,#20114b),
linear-gradient(90deg,#1e1149,#2d1161,#3f0f72,#51127c,#621980,#762181,#892881,#a02f7f,#b73779,#cd4071,#e44f64,#f3655c,#fa815f,#fe9d6c,#feb67c,#fecc8f,#fddc9e,#fde7a9,#fdebac,#fde7a9,#fddc9e,#feca8d,#feb27a,#fd9266,#f66c5c,#e04c67,#bd3977,#982d80,#752181,#56147d,#38106c,#20114b,#110c2f,#07061c,#030312,#02020d,#030312,#060518,#0b0924,#130d34,#1e1149),
linear-gradient(90deg,#1e1149,#2c115f,#3f0f72,#51127c,#621980,#752181,#892881,#a02f7f,#b73779,#cf4070,#e44f64,#f4675c,#fb835f,#fe9f6d,#feb97f,#fecd90,#fddea0,#fde9aa,#fceeb0,#fdebac,#fde0a1,#fecd90,#feb47b,#fd9467,#f66e5c,#e24d66,#bd3977,#982d80,#752181,#54137d,#36106b,#1e1149,#100b2d,#06051a,#03030f,#02020b,#03030f,#050416,#0a0822,#130d34,#1e1149),
linear-gradient(90deg,#1d1147,#2c115f,#3d0f71,#4f127b,#621980,#752181,#892881,#a02f7f,#b73779,#cf4070,#e44f64,#f4675c,#fb8560,#fea16e,#febb81,#fed194,#fde2a3,#fcecae,#fcf0b2,#fceeb0,#fde3a5,#fecf92,#feb67c,#fd9668,#f66e5c,#e24d66,#bf3a77,#982d80,#752181,#54137d,#341069,#1d1147,#0e0b2b,#060518,#02020d,#020109,#02020d,#040414,#090720,#120d31,#1d1147),
linear-gradient(90deg,#1c1044,#2a115c,#3d0f71,#4f127b,#621980,#752181,#892881,#a02f7f,#b73779,#cf4070,#e55064,#f4695c,#fb8560,#fea36f,#febd82,#fed395,#fde3a5,#fceeb0,#fcf4b6,#fcf0b2,#fde5a7,#fed395,#feb97f,#fd9869,#f7705c,#e34e65,#bf3a77,#982d80,#732081,#52137c,#331067,#1c1044,#0d0a29,#050416,#02020b,#010108,#02020b,#040414,#090720,#110c2f,#1c1044),
linear-gradient(90deg,#1c1044,#2a115c,#3d0f71,#4f127b,#621980,#752181,#892881,#a02f7f,#b73779,#cf4070,#e55064,#f4695c,#fb8761,#fea36f,#febd82,#fed597,#fde5a7,#fcf0b2,#fcf6b8,#fcf2b4,#fde7a9,#fed597,#febb81,#fd9a6a,#f7725c,#e34e65,#bf3a77,#982d80,#732081,#52137c,#331067,#1a1042,#0c0926,#040414,#020109,#010106,#020109,#030312,#08071e,#110c2f,#1c1044),
linear-gradient(90deg,#1c1044,#2a115c,#3b0f70,#4f127b,#601880,#752181,#892881,#a02f7f,#b73779,#cf4070,#e55064,#f4695c,#fc8961,#fea571,#febf84,#fed799,#fde7a9,#fcf4b6,#fcf7b9,#fcf4b6,#fde9aa,#fed799,#febb81,#fd9a6a,#f7725c,#e34e65,#bf3a77,#982d80,#732081,#51127c,#311165,#19103f,#0b0924,#030312,#010108,#010106,#010108,#03030f,#08071e,#100b2d,#1c1044),
linear-gradient(90deg,#1a1042,#29115a,#3b0f70,#4e117b,#601880,#752181,#892881,#a02f7f,#b73779,#cf4070,#e55064,#f56b5c,#fc8961,#fea772,#fec185,#fed799,#fde9aa,#fcf4b6,#fcf9bb,#fcf6b8,#fdebac,#fed89a,#febd82,#fd9b6b,#f8745c,#e44f64,#bf3a77,#982d80,#732081,#51127c,#311165,#19103f,#0a0822,#030312,#010108,#010005,#010108,#03030f,#07061c,#100b2d,#1a1042),
linear-gradient(90deg,#1a1042,#29115a,#3b0f70,#4e117b,#601880,#752181,#892881,#a02f7f,#b73779,#d0416f,#e75263,#f56b5c,#fc8961,#fea772,#fec185,#fed89a,#fdebac,#fcf6b8,#fcfbbd,#fcf7b9,#fcecae,#fdda9c,#febf84,#fe9d6c,#f8745c,#e44f64,#c03a76,#982d80,#721f81,#51127c,#2f1163,#180f3d,#0a0822,#03030f,#010106,#010005,#010106,#02020d,#07061c,#100b2d,#1a1042),
linear-gradient(90deg,#1a1042,#29115a,#3b0f70,#4e117b,#601880,#752181,#892881,#a02f7f,#b73779,#d0416f,#e75263,#f56b5c,#fc8a62,#fea772,#fec287,#fed89a,#fdebac,#fcf7b9,#fcfdbf,#fcf9bb,#fceeb0,#fdda9c,#febf84,#fe9d6c,#f8765c,#e44f64,#c03a76,#982d80,#721f81,#4f127b,#2f1163,#180f3d,#090720,#03030f,#010106,#000004,#010106,#02020d,#06051a,#0e0b2b,#1a1042),
linear-gradient(90deg,#1a1042,#29115a,#3b0f70,#4e117b,#601880,#732081,#892881,#a02f7f,#b73779,#d0416f,#e75263,#f56b5c,#fc8a62,#fea973,#fec287,#fdda9c,#fcecae,#fcf7b9,#fcfdbf,#fcf9bb,#fceeb0,#fddc9e,#fec185,#fe9d6c,#f8765c,#e44f64,#c03a76,#982d80,#721f81,#4f127b,#2f1163,#180f3d,#090720,#02020d,#010005,#000004,#010005,#02020d,#06051a,#0e0b2b,#1a1042),
linear-gradient(90deg,#19103f,#29115a,#3b0f70,#4e117b,#601880,#732081,#892881,#a02f7f,#b73779,#d0416f,#e75263,#f56b5c,#fc8a62,#fea973,#fec287,#fdda9c,#fcecae,#fcf9bb,#fcfdbf,#fcfbbd,#fcf0b2,#fddc9e,#fec185,#fe9f6d,#f8765c,#e44f64,#c03a76,#982d80,#721f81,#4f127b,#2f1163,#180f3d,#090720,#02020d,#010005,#000004,#010005,#02020b,#06051a,#0e0b2b,#19103f),
linear-gradient(90deg,#19103f,#29115a,#3b0f70,#4e117b,#601880,#732081,#892881,#a02f7f,#b73779,#d0416f,#e75263,#f66c5c,#fc8a62,#fea973,#fec488,#fdda9c,#fcecae,#fcf9bb,#fcfdbf,#fcfbbd,#fcf0b2,#fddc9e,#fec185,#fe9f6d,#f8765c,#e55064,#c03a76,#982d80,#721f81,#4f127b,#2f1163,#160f3b,#090720,#02020d,#010005,#000004,#010005,#02020b,#06051a,#0e0b2b,#19103f),
linear-gradient(90deg,#19103f,#29115a,#3b0f70,#4e117b,#601880,#732081,#892881,#a02f7f,#b73779,#d0416f,#e75263,#f66c5c,#fc8a62,#fea973,#fec488,#fdda9c,#fcecae,#fcf9bb,#fcfdbf,#fcfbbd,#fcf0b2,#fddc9e,#fec185,#fe9f6d,#f8765c,#e55064,#c03a76,#982d80,#721f81,#4f127b,#2f1163,#160f3b,#090720,#02020d,#010005,#000004,#010005,#02020b,#06051a,#0e0b2b,#19103f),
linear-gradient(90deg,#19103f,#29115a,#3b0f70,#4e117b,#601880,#732081,#892881,#a02f7f,#b73779,#d0416f,#e75263,#f56b5c,#fc8a62,#fea973,#fec287,#fdda9c,#fcecae,#fcf9bb,#fcfdbf,#fcfbbd,#fcf0b2,#fddc9e,#fec185,#fe9f6d,#f8765c,#e44f64,#c03a76,#982d80,#721f81,#4f127b,#2f1163,#180f3d,#090720,#02020d,#010005,#000004,#010005,#02020b,#06051a,#0e0b2b,#19103f),
linear-gradient(90deg,#1a1042,#29115a,#3b0f70,#4e117b,#601880,#732081,#892881,#a02f7f,#b73779,#d0416f,#e75263,#f56b5c,#fc8a62,#fea973,#fec287,#fdda9c,#fcecae,#fcf7b9,#fcfdbf,#fcf9bb,#fceeb0,#fddc9e,#fec185,#fe9d6c,#f8765c,#e44f64,#c03a76,#982d80,#721f81,#4f127b,#2f1163,#180f3d,#090720,#02020d,#010005,#000004,#010005,#02020d,#06051a,#0e0b2b,#1a1042),
linear-gradient(90deg,#1a1042,#29115a,#3b0f70,#4e117b,#601880,#752181,#892881,#a02f7f,#b73779,#d0416f,#e75263,#f56b5c,#fc8a62,#fea772,#fec287,#fed89a,#fdebac,#fcf7b9,#fcfdbf,#fcf9bb,#fceeb0,#fdda9c,#febf84,#fe9d6c,#f8765c,#e44f64,#c03a76,#982d80,#721f81,#4f127b,#2f1163,#180f3d,#090720,#03030f,#010106,#000004,#010106,#02020d,#06051a,#0e0b2b,#1a1042),
linear-gradient(90deg,#1a1042,#29115a,#3b0f70,#4e117b,#601880,#752181,#892881,#a02f7f,#b73779,#d0416f,#e75263,#f56b5c,#fc8961,#fea772,#fec185,#fed89a,#fdebac,#fcf6b8,#fcfbbd,#fcf7b9,#fcecae,#fdda9c,#febf84,#fe9d6c,#f8745c,#e44f64,#c03a76,#982d80,#721f81,#51127c,#2f1163,#180f3d,#0a0822,#03030f,#010106,#010005,#010106,#02020d,#07061c,#100b2d,#1a1042),
linear-gradient(90deg,#1a1042,#29115a,#3b0f70,#4e117b,#601880,#752181,#892881,#a02f7f,#b73779,#cf4070,#e55064,#f56b5c,#fc8961,#fea772,#fec185,#fed799,#fde9aa,#fcf4b6,#fcf9bb,#fcf6b8,#fdebac,#fed89a,#febd82,#fd9b6b,#f8745c,#e44f64,#bf3a77,#982d80,#732081,#51127c,#311165,#19103f,#0a0822,#030312,#010108,#010005,#010108,#03030f,#07061c,#100b2d,#1a1042),
linear-gradient(90deg,#1c1044,#2a115c,#3b0f70,#4f127b,#601880,#752181,#892881,#a02f7f,#b73779,#cf4070,#e55064,#f4695c,#fc8961,#fea571,#febf84,#fed799,#fde7a9,#fcf4b6,#fcf7b9,#fcf4b6,#fde9aa,#fed799,#febb81,#fd9a6a,#f7725c,#e34e65,#bf3a77,#982d80,#732081,#51127c,#311165,#19103f,#0b0924,#030312,#010108,#010106,#010108,#03030f,#08071e,#100b2d,#1c1044),
linear-gradient(90deg,#1c1044,#2a115c,#3d0f71,#4f127b,#621980,#752181,#892881,#a02f7f,#b73779,#cf4070,#e55064,#f4695c,#fb8761,#fea36f,#febd82,#fed597,#fde5a7,#fcf0b2,#fcf6b8,#fcf2b4,#fde7a9,#fed597,#febb81,#fd9a6a,#f7725c,#e34e65,#bf3a77,#982d80,#732081,#52137c,#331067,#1a1042,#0c0926,#040414,#020109,#010106,#020109,#030312,#08071e,#110c2f,#1c1044),
linear-gradient(90deg,#1c1044,#2a115c,#3d0f71,#4f127b,#621980,#752181,#892881,#a02f7f,#b73779,#cf4070,#e55064,#f4695c,#fb8560,#fea36f,#febd82,#fed395,#fde3a5,#fceeb0,#fcf4b6,#fcf0b2,#fde5a7,#fed395,#feb97f,#fd9869,#f7705c,#e34e65,#bf3a77,#982d80,#732081,#52137c,#331067,#1c1044,#0d0a29,#050416,#02020b,#010108,#02020b,#040414,#090720,#110c2f,#1c1044),
linear-gradient(90deg,#1d1147,#2c115f,#3d0f71,#4f127b,#621980,#752181,#892881,#a02f7f,#b73779,#cf4070,#e44f64,#f4675c,#fb8560,#fea16e,#febb81,#fed194,#fde2a3,#fcecae,#fcf0b2,#fceeb0,#fde3a5,#fecf92,#feb67c,#fd9668,#f66e5c,#e24d66,#bf3a77,#982d80,#752181,#54137d,#341069,#1d1147,#0e0b2b,#060518,#02020d,#020109,#02020d,#040414,#090720,#120d31,#1d1147),
linear-gradient(90deg,#1e1149,#2c115f,#3f0f72,#51127c,#621980,#752181,#892881,#a02f7f,#b73779,#cf4070,#e44f64,#f4675c,#fb835f,#fe9f6d,#feb97f,#fecd90,#fddea0,#fde9aa,#fceeb0,#fdebac,#fde0a1,#fecd90,#feb47b,#fd9467,#f66e5c,#e24d66,#bd3977,#982d80,#752181,#54137d,#36106b,#1e1149,#100b2d,#06051a,#03030f,#02020b,#03030f,#050416,#0a0822,#130d34,#1e1149),
linear-gradient(90deg,#1e1149,#2d1161,#3f0f72,#51127c,#621980,#762181,#892881,#a02f7f,#b73779,#cd4071,#e44f64,#f3655c,#fa815f,#fe9d6c,#feb67c,#fecc8f,#fddc9e,#fde7a9,#fdebac,#fde7a9,#fddc9e,#feca8d,#feb27a,#fd9266,#f66c5c,#e04c67,#bd3977,#982d80,#752181,#56147d,#38106c,#20114b,#110c2f,#07061c,#030312,#02020d,#030312,#060518,#0b0924,#130d34,#1e1149),
linear-gradient(90deg,#20114b,#2d1161,#400f74,#51127c,#641a80,#762181,#892881,#a02f7f,#b5367a,#cd4071,#e34e65,#f2645c,#fa815f,#fd9b6b,#feb47b,#fec88c,#fed89a,#fde3a5,#fde7a9,#fde3a5,#fdda9c,#fec88c,#feae77,#fc8e64,#f56b5c,#df4a68,#bd3977,#982d80,#762181,#56147d,#390f6e,#21114e,#120d31,#090720,#050416,#030312,#040414,#06051a,#0c0926,#140e36,#20114b),
linear-gradient(90deg,#21114e,#2f1163,#400f74,#52137c,#641a80,#762181,#892881,#a02f7f,#b5367a,#cd4071,#e34e65,#f2645c,#fa7f5e,#fd9a6a,#feb27a,#fec68a,#fed597,#fde0a1,#fde3a5,#fde0a1,#fed799,#fec488,#feac76,#fc8c63,#f4695c,#df4a68,#bd3977,#982d80,#762181,#57157e,#3b0f70,#221150,#130d34,#0a0822,#060518,#040414,#050416,#08071e,#0d0a29,#150e38,#21114e),
linear-gradient(90deg,#21114e,#311165,#420f75,#52137c,#641a80,#762181,#8b2981,#a02f7f,#b5367a,#cc3f71,#e24d66,#f2625d,#fa7d5e,#fd9869,#feae77,#fec287,#fed395,#fddc9e,#fde0a1,#fddc9e,#fed395,#fec185,#fea973,#fc8a62,#f4675c,#de4968,#bc3978,#982d80,#762181,#59157e,#3d0f71,#241253,#150e38,#0b0924,#06051a,#060518,#060518,#090720,#0e0b2b,#160f3b,#21114e),
linear-gradient(90deg,#221150,#311165,#420f75,#54137d,#651a80,#762181,#8b2981,#a02f7f,#b5367a,#cc3f71,#e24d66,#f1605d,#f97b5d,#fd9467,#feac76,#febf84,#fecf92,#fed89a,#fddc9e,#fed89a,#fecd90,#febd82,#fea571,#fb8761,#f2645c,#dc4869,#bc3978,#982d80,#782281,#5a167e,#3f0f72,#251255,#160f3b,#0d0a29,#08071e,#06051a,#07061c,#0a0822,#100b2d,#180f3d,#221150),
linear-gradient(90deg,#241253,#331067,#440f76,#54137d,#651a80,#782281,#8b2981,#a02f7f,#b5367a,#cc3f71,#e04c67,#f05f5e,#f9785d,#fd9266,#fea973,#febb81,#feca8d,#fed395,#fed799,#fed597,#feca8d,#feb97f,#fea16e,#fb835f,#f2625d,#db476a,#bc3978,#992d80,#782281,#5c167f,#400f74,#29115a,#19103f,#100b2d,#0a0822,#08071e,#08071e,#0c0926,#120d31,#19103f,#241253),
linear-gradient(90deg,#251255,#341069,#451077,#56147d,#671b80,#782281,#8b2981,#a02f7f,#b5367a,#ca3e72,#df4a68,#ef5d5e,#f8765c,#fc8e64,#fea571,#feb77e,#fec68a,#fecf92,#fed395,#fecf92,#fec68a,#feb67c,#fe9d6c,#fa815f,#f1605d,#db476a,#ba3878,#992d80,#792282,#5c167f,#420f75,#2a115c,#1a1042,#110c2f,#0b0924,#090720,#0a0822,#0d0a29,#130d34,#1c1044,#251255),
linear-gradient(90deg,#271258,#36106b,#451077,#57157e,#671b80,#782281,#8b2981,#a02f7f,#b5367a,#ca3e72,#df4a68,#ee5b5e,#f8745c,#fc8c63,#fea16e,#feb47b,#fec287,#fecc8f,#fecd90,#feca8d,#fec185,#feb078,#fd9a6a,#fa7d5e,#f05f5e,#d9466b,#ba3878,#992d80,#792282,#5d177f,#440f76,#2d1161,#1d1147,#130d34,#0d0a29,#0b0924,#0c0926,#100b2d,#140e36,#1d1147,#271258),
linear-gradient(90deg,#2a115c,#38106c,#471078,#57157e,#681c81,#792282,#8b2981,#a02f7f,#b3367a,#c83e73,#de4968,#ed5a5f,#f7725c,#fc8961,#fe9d6c,#feb078,#febd82,#fec68a,#fec88c,#fec68a,#febb81,#feac76,#fd9668,#f9795d,#ee5b5e,#d8456c,#b83779,#992d80,#7b2382,#5f187f,#471078,#2f1163,#20114b,#150e38,#100b2d,#0d0a29,#0e0b2b,#110c2f,#160f3b,#1e1149,#2a115c),
linear-gradient(90deg,#2c115f,#390f6e,#491078,#59157e,#681c81,#792282,#8c2981,#a02f7f,#b3367a,#c83e73,#dc4869,#ec5860,#f66e5c,#fb8560,#fd9a6a,#feac76,#feb97f,#fec185,#fec287,#fec185,#feb67c,#fea772,#fc9065,#f8765c,#ed5a5f,#d6456c,#b83779,#992d80,#7c2382,#601880,#491078,#331067,#221150,#180f3d,#120d31,#100b2d,#110c2f,#130d34,#19103f,#21114e,#2c115f),
linear-gradient(90deg,#2d1161,#3b0f70,#4a1079,#5a167e,#6a1c81,#792282,#8c2981,#a02f7f,#b3367a,#c83e73,#db476a,#eb5760,#f66c5c,#fb835f,#fd9668,#fea772,#feb47b,#febb81,#febf84,#febb81,#feb27a,#fea16e,#fc8c63,#f7725c,#eb5760,#d5446d,#b73779,#992d80,#7c2382,#621980,#4c117a,#36106b,#251255,#1a1042,#150e38,#120d31,#130d34,#150e38,#1a1042,#221150,#2d1161),
linear-gradient(90deg,#311165,#3d0f71,#4c117a,#5a167e,#6a1c81,#7b2382,#8c2981,#a02f7f,#b3367a,#c73d73,#db476a,#ea5661,#f4695c,#fa7f5e,#fd9266,#fea36f,#feae77,#feb67c,#feb77e,#feb67c,#feac76,#fe9d6c,#fc8961,#f66e5c,#ea5661,#d3436e,#b73779,#992d80,#7e2482,#651a80,#4e117b,#390f6e,#29115a,#1e1149,#180f3d,#150e38,#150e38,#180f3d,#1d1147,#251255,#311165),
linear-gradient(90deg,#331067,#400f74,#4e117b,#5c167f,#6b1d81,#7b2382,#8c2981,#a02f7f,#b2357b,#c53c74,#d9466b,#e95462,#f4675c,#f97b5d,#fc8e64,#fe9d6c,#fea973,#feb078,#feb27a,#feae77,#fea772,#fd9869,#fb835f,#f56b5c,#e85362,#d2426f,#b5367a,#992d80,#7e2482,#671b80,#51127c,#3d0f71,#2c115f,#21114e,#1a1042,#180f3d,#180f3d,#1a1042,#20114b,#271258,#331067),
linear-gradient(90deg,#36106b,#420f75,#4f127b,#5d177f,#6d1d81,#7c2382,#8c2981,#a02f7f,#b2357b,#c53c74,#d8456c,#e85362,#f2645c,#f9785d,#fc8961,#fd9869,#fea36f,#feaa74,#feac76,#fea973,#fe9f6d,#fd9266,#fa7f5e,#f4675c,#e55064,#d0416f,#b5367a,#992d80,#802582,#681c81,#52137c,#400f74,#2f1163,#241253,#1e1149,#1a1042,#1a1042,#1d1147,#221150,#2a115c,#36106b),
linear-gradient(90deg,#38106c,#440f76,#51127c,#5f187f,#6d1d81,#7c2382,#8e2a81,#a02f7f,#b2357b,#c43c75,#d6456c,#e55064,#f1605d,#f8745c,#fb8560,#fd9467,#fe9d6c,#fea571,#fea772,#fea36f,#fd9a6a,#fc8c63,#f9795d,#f2645c,#e44f64,#cd4071,#b3367a,#992d80,#812581,#6a1c81,#56147d,#440f76,#331067,#29115a,#21114e,#1e1149,#1e1149,#20114b,#251255,#2d1161,#38106c),
linear-gradient(90deg,#3b0f70,#471078,#54137d,#601880,#6e1e81,#7e2482,#8e2a81,#a02f7f,#b0357b,#c43c75,#d5446d,#e44f64,#f05f5e,#f7705c,#fa7f5e,#fc8e64,#fd9869,#fe9d6c,#fe9f6d,#fd9b6b,#fd9467,#fb8761,#f8745c,#f05f5e,#e24d66,#cc3f71,#b3367a,#992d80,#812581,#6b1d81,#59157e,#471078,#38106c,#2c115f,#251255,#21114e,#21114e,#241253,#29115a,#311165,#3b0f70),
linear-gradient(90deg,#3f0f72,#491078,#56147d,#621980,#701f81,#7e2482,#8e2a81,#a02f7f,#b0357b,#c23b75,#d3436e,#e34e65,#ee5b5e,#f56b5c,#f97b5d,#fc8961,#fd9266,#fd9869,#fd9a6a,#fd9668,#fc8c63,#fa815f,#f66e5c,#ee5b5e,#df4a68,#ca3e72,#b2357b,#9b2e7f,#832681,#6d1d81,#5a167e,#4a1079,#3b0f70,#311165,#29115a,#251255,#251255,#271258,#2c115f,#341069,#3f0f72),
linear-gradient(90deg,#400f74,#4c117a,#57157e,#641a80,#721f81,#802582,#902a81,#9e2f7f,#b0357b,#c03a76,#d2426f,#e04c67,#ec5860,#f4675c,#f8765c,#fb835f,#fc8c63,#fc9065,#fd9266,#fc8e64,#fb8761,#f9795d,#f56b5c,#ec5860,#dc4869,#c83e73,#b2357b,#9b2e7f,#842681,#701f81,#5d177f,#4e117b,#400f74,#341069,#2d1161,#2a115c,#29115a,#2c115f,#311165,#38106c,#400f74),
linear-gradient(90deg,#440f76,#4f127b,#5a167e,#651a80,#732081,#812581,#902a81,#9e2f7f,#ae347b,#c03a76,#d0416f,#df4a68,#ea5661,#f2645c,#f7705c,#fa7d5e,#fb8560,#fc8a62,#fc8a62,#fc8961,#fa815f,#f8745c,#f3655c,#e95462,#db476a,#c73d73,#b0357b,#9b2e7f,#842681,#721f81,#601880,#51127c,#440f76,#390f6e,#331067,#2d1161,#2d1161,#2f1163,#341069,#3b0f70,#440f76),
linear-gradient(90deg,#471078,#51127c,#5c167f,#681c81,#752181,#812581,#902a81,#9e2f7f,#ae347b,#bf3a77,#cd4071,#dc4869,#e85362,#f05f5e,#f56b5c,#f8765c,#fa7f5e,#fb835f,#fb8560,#fa815f,#f9795d,#f66e5c,#f1605d,#e75263,#d8456c,#c53c74,#b0357b,#9b2e7f,#862781,#732081,#641a80,#54137d,#491078,#3f0f72,#38106c,#331067,#331067,#341069,#390f6e,#3f0f72,#471078),
linear-gradient(90deg,#4a1079,#54137d,#5f187f,#6a1c81,#762181,#832681,#902a81,#9e2f7f,#ae347b,#bd3977,#cc3f71,#d9466b,#e55064,#ee5b5e,#f4675c,#f7705c,#f9785d,#f97b5d,#fa7d5e,#f9795d,#f7725c,#f4695c,#ee5b5e,#e44f64,#d5446d,#c23b75,#ae347b,#9b2e7f,#882781,#762181,#651a80,#57157e,#4c117a,#420f75,#3b0f70,#38106c,#38106c,#390f6e,#3d0f71,#440f76,#4a1079),
linear-gradient(90deg,#4f127b,#57157e,#601880,#6b1d81,#782281,#832681,#912b81,#9e2f7f,#ad347c,#bc3978,#ca3e72,#d8456c,#e34e65,#eb5760,#f2625d,#f56b5c,#f7725c,#f8765c,#f8765c,#f7725c,#f66c5c,#f2625d,#eb5760,#e04c67,#d2426f,#c03a76,#ae347b,#9b2e7f,#892881,#782281,#681c81,#5c167f,#51127c,#471078,#400f74,#3d0f71,#3d0f71,#3d0f71,#420f75,#471078,#4f127b),
linear-gradient(90deg,#52137c,#5a167e,#641a80,#6d1d81,#792282,#842681,#912b81,#9e2f7f,#ad347c,#ba3878,#c83e73,#d5446d,#e04c67,#e95462,#ef5d5e,#f3655c,#f56b5c,#f66e5c,#f66e5c,#f66c5c,#f3655c,#ef5d5e,#e85362,#de4968,#cf4070,#bf3a77,#ad347c,#9b2e7f,#892881,#792282,#6b1d81,#5f187f,#54137d,#4c117a,#451077,#420f75,#420f75,#420f75,#451077,#4c117a,#52137c),
linear-gradient(90deg,#56147d,#5d177f,#671b80,#701f81,#7b2382,#862781,#912b81,#9e2f7f,#ab337c,#b83779,#c53c74,#d2426f,#dc4869,#e55064,#ec5860,#f05f5e,#f2645c,#f4675c,#f4675c,#f3655c,#f05f5e,#eb5760,#e44f64,#d9466b,#cc3f71,#bd3977,#ab337c,#9b2e7f,#8b2981,#7c2382,#6e1e81,#621980,#59157e,#51127c,#4a1079,#471078,#471078,#471078,#4a1079,#4f127b,#56147d),
linear-gradient(90deg,#5a167e,#601880,#681c81,#721f81,#7c2382,#882781,#932b80,#9e2f7f,#ab337c,#b83779,#c43c75,#cf4070,#d9466b,#e24d66,#e85362,#ed5a5f,#f05f5e,#f1605d,#f1605d,#f05f5e,#ed5a5f,#e85362,#e04c67,#d6456c,#c83e73,#ba3878,#ab337c,#9b2e7f,#8c2981,#7e2482,#721f81,#671b80,#5d177f,#56147d,#51127c,#4e117b,#4c117a,#4c117a,#4f127b,#54137d,#5a167e),
linear-gradient(90deg,#5d177f,#641a80,#6b1d81,#752181,#7e2482,#882781,#932b80,#9e2f7f,#aa337d,#b73779,#c23b75,#cc3f71,#d6456c,#de4968,#e44f64,#e95462,#ec5860,#ed5a5f,#ed5a5f,#ec5860,#e95462,#e44f64,#dc4869,#d2426f,#c53c74,#b83779,#aa337d,#9b2e7f,#8e2a81,#802582,#752181,#6a1c81,#601880,#5a167e,#56147d,#52137c,#51127c,#51127c,#54137d,#59157e,#5d177f),
linear-gradient(90deg,#621980,#681c81,#6e1e81,#762181,#802582,#892881,#942c80,#9e2f7f,#aa337d,#b5367a,#bf3a77,#ca3e72,#d2426f,#db476a,#e04c67,#e55064,#e85362,#e95462,#e95462,#e85362,#e44f64,#df4a68,#d8456c,#cf4070,#c43c75,#b73779,#aa337d,#9c2e7f,#8e2a81,#832681,#782281,#6e1e81,#651a80,#5f187f,#5a167e,#57157e,#56147d,#57157e,#59157e,#5c167f,#621980),
linear-gradient(90deg,#651a80,#6b1d81,#721f81,#792282,#812581,#8b2981,#942c80,#9e2f7f,#a8327d,#b3367a,#bd3977,#c73d73,#cf4070,#d6456c,#dc4869,#e04c67,#e34e65,#e44f64,#e44f64,#e34e65,#df4a68,#db476a,#d3436e,#ca3e72,#c03a76,#b5367a,#a8327d,#9c2e7f,#902a81,#842681,#7b2382,#721f81,#6a1c81,#641a80,#5f187f,#5c167f,#5c167f,#5c167f,#5d177f,#601880,#651a80),
linear-gradient(90deg,#6a1c81,#6e1e81,#752181,#7c2382,#842681,#8c2981,#942c80,#9e2f7f,#a8327d,#b2357b,#ba3878,#c43c75,#cc3f71,#d2426f,#d8456c,#db476a,#de4968,#df4a68,#df4a68,#de4968,#db476a,#d5446d,#cf4070,#c73d73,#bd3977,#b2357b,#a8327d,#9c2e7f,#912b81,#882781,#7e2482,#752181,#6e1e81,#681c81,#651a80,#621980,#601880,#601880,#621980,#651a80,#6a1c81),
linear-gradient(90deg,#6e1e81,#732081,#782281,#802582,#862781,#8e2a81,#962c80,#9e2f7f,#a6317d,#b0357b,#b83779,#c03a76,#c73d73,#cd4071,#d2426f,#d6456c,#d9466b,#d9466b,#d9466b,#d8456c,#d5446d,#d0416f,#ca3e72,#c23b75,#ba3878,#b0357b,#a6317d,#9c2e7f,#932b80,#892881,#812581,#792282,#732081,#6d1d81,#6a1c81,#671b80,#671b80,#671b80,#681c81,#6a1c81,#6e1e81),
linear-gradient(90deg,#732081,#762181,#7c2382,#812581,#882781,#902a81,#962c80,#9e2f7f,#a6317d,#ae347b,#b5367a,#bd3977,#c43c75,#c83e73,#cd4071,#d0416f,#d3436e,#d3436e,#d3436e,#d2426f,#cf4070,#ca3e72,#c53c74,#bf3a77,#b73779,#ae347b,#a5317e,#9c2e7f,#932b80,#8b2981,#832681,#7c2382,#762181,#721f81,#6e1e81,#6d1d81,#6b1d81,#6b1d81,#6d1d81,#6e1e81,#732081),
linear-gradient(90deg,#782281,#7b2382,#802582,#842681,#8b2981,#912b81,#982d80,#9e2f7f,#a5317e,#ad347c,#b3367a,#b83779,#bf3a77,#c43c75,#c83e73,#cc3f71,#cd4071,#cd4071,#cd4071,#cc3f71,#c83e73,#c53c74,#c03a76,#ba3878,#b3367a,#ad347c,#a5317e,#9c2e7f,#942c80,#8e2a81,#862781,#812581,#7b2382,#782281,#752181,#721f81,#721f81,#721f81,#721f81,#752181,#782281),
linear-gradient(90deg,#7c2382,#802582,#832681,#882781,#8c2981,#932b80,#982d80,#9e2f7f,#a5317e,#aa337d,#b0357b,#b5367a,#ba3878,#bf3a77,#c23b75,#c53c74,#c73d73,#c73d73,#c73d73,#c53c74,#c43c75,#c03a76,#bc3978,#b73779,#b0357b,#aa337d,#a3307e,#9c2e7f,#962c80,#902a81,#892881,#842681,#802582,#7c2382,#792282,#782281,#762181,#762181,#782281,#792282,#7c2382),
linear-gradient(90deg,#812581,#832681,#882781,#8b2981,#902a81,#942c80,#992d80,#9e2f7f,#a3307e,#a8327d,#ad347c,#b2357b,#b73779,#ba3878,#bd3977,#bf3a77,#c03a76,#c03a76,#c03a76,#bf3a77,#bd3977,#ba3878,#b73779,#b2357b,#ad347c,#a8327d,#a3307e,#9c2e7f,#982d80,#912b81,#8c2981,#882781,#842681,#812581,#7e2482,#7c2382,#7c2382,#7c2382,#7c2382,#7e2482,#812581),
linear-gradient(90deg,#862781,#882781,#8b2981,#8e2a81,#912b81,#962c80,#992d80,#9e2f7f,#a3307e,#a6317d,#ab337c,#ae347b,#b2357b,#b5367a,#b73779,#b83779,#ba3878,#ba3878,#ba3878,#ba3878,#b73779,#b5367a,#b2357b,#ae347b,#ab337c,#a6317d,#a1307e,#9c2e7f,#982d80,#942c80,#902a81,#8c2981,#892881,#862781,#842681,#832681,#832681,#812581,#832681,#842681,#862781),
linear-gradient(90deg,#8b2981,#8c2981,#8e2a81,#912b81,#942c80,#982d80,#9b2e7f,#9e2f7f,#a1307e,#a5317e,#a8327d,#ab337c,#ad347c,#b0357b,#b2357b,#b3367a,#b3367a,#b3367a,#b3367a,#b3367a,#b2357b,#b0357b,#ad347c,#ab337c,#a8327d,#a5317e,#a1307e,#9c2e7f,#992d80,#962c80,#932b80,#902a81,#8e2a81,#8b2981,#892881,#892881,#882781,#882781,#882781,#892881,#8b2981),
linear-gradient(90deg,#902a81,#912b81,#932b80,#942c80,#962c80,#992d80,#9b2e7f,#9e2f7f,#a02f7f,#a3307e,#a5317e,#a6317d,#aa337d,#ab337c,#ab337c,#ad347c,#ad347c,#ad347c,#ad347c,#ad347c,#ab337c,#ab337c,#a8327d,#a6317d,#a5317e,#a1307e,#a02f7f,#9c2e7f,#9b2e7f,#982d80,#962c80,#942c80,#932b80,#912b81,#902a81,#8e2a81,#8e2a81,#8e2a81,#8e2a81,#902a81,#902a81),
linear-gradient(90deg,#962c80,#962c80,#982d80,#982d80,#992d80,#9b2e7f,#9c2e7f,#9e2f7f,#a02f7f,#a02f7f,#a1307e,#a3307e,#a5317e,#a5317e,#a6317d,#a6317d,#a6317d,#a6317d,#a6317d,#a6317d,#a6317d,#a5317e,#a5317e,#a3307e,#a1307e,#a02f7f,#9e2f7f,#9c2e7f,#9c2e7f,#9b2e7f,#992d80,#982d80,#962c80,#962c80,#942c80,#942c80,#942c80,#942c80,#942c80,#942c80,#962c80),
linear-gradient(90deg,#9b2e7f,#9b2e7f,#9b2e7f,#9b2e7f,#9c2e7f,#9c2e7f,#9c2e7f,#9e2f7f,#9e2f7f,#9e2f7f,#a02f7f,#a02f7f,#a02f7f,#a02f7f,#a02f7f,#a02f7f,#a1307e,#a1307e,#a1307e,#a02f7f,#a02f7f,#a02f7f,#a02f7f,#a02f7f,#9e2f7f,#9e2f7f,#9e2f7f,#9e2f7f,#9c2e7f,#9c2e7f,#9c2e7f,#9b2e7f,#9b2e7f,#9b2e7f,#9b2e7f,#9b2e7f,#9b2e7f,#9b2e7f,#9b2e7f,#9b2e7f,#9b2e7f);background-size:100% 3.48px;background-position:0 146.92px,0 145.43px,0 143.95px,0 142.46px,0 140.98px,0 139.50px,0 138.01px,0 136.53px,0 135.04px,0 133.56px,0 132.08px,0 130.59px,0 129.11px,0 127.62px,0 126.14px,0 124.66px,0 123.17px,0 121.69px,0 120.20px,0 118.72px,0 117.24px,0 115.75px,0 114.27px,0 112.78px,0 111.30px,0 109.82px,0 108.33px,0 106.85px,0 105.36px,0 103.88px,0 102.40px,0 100.91px,0 99.43px,0 97.94px,0 96.46px,0 94.98px,0 93.49px,0 92.01px,0 90.52px,0 89.04px,0 87.56px,0 86.07px,0 84.59px,0 83.10px,0 81.62px,0 80.14px,0 78.65px,0 77.17px,0 75.68px,0 74.20px,0 72.72px,0 71.23px,0 69.75px,0 68.26px,0 66.78px,0 65.30px,0 63.81px,0 62.33px,0 60.84px,0 59.36px,0 57.88px,0 56.39px,0 54.91px,0 53.42px,0 51.94px,0 50.46px,0 48.97px,0 47.49px,0 46.00px,0 44.52px,0 43.04px,0 41.55px,0 40.07px,0 38.58px,0 37.10px,0 35.62px,0 34.13px,0 32.65px,0 31.16px,0 29.68px,0 28.20px,0 26.71px,0 25.23px,0 23.74px,0 22.26px,0 20.78px,0 19.29px,0 17.81px,0 16.32px,0 14.84px,0 13.36px,0 11.87px,0 10.39px,0 8.90px,0 7.42px,0 5.94px,0 4.45px,0 2.97px,0 1.48px,0 0.00px}
#m3{left:122.75px;top:269.35px;width:297.05px;height:148.40px;background-image:linear-gradient(90deg,#a1307e,#a1307e,#a1307e,#a1307e,#a1307e,#a1307e,#a1307e,#a1307e,#a1307e,#a1307e,#a1307e,#a1307e,#a1307e,#a1307e,#a1307e,#a1307e,#a1307e,#a1307e,#a1307e,#a1307e,#a1307e,#a1307e,#a1307e,#a1307e,#a1307e,#a1307e,#a1307e,#a1307e,#a1307e,#a1307e,#a1307e,#a1307e,#a1307e,#a1307e,#a1307e,#a1307e,#a1307e,#a1307e,#a1307e,#a1307e,#a1307e),
linear-gradient(90deg,#a1307e,#a3307e,#a3307e,#a3307e,#a3307e,#a3307e,#a3307e,#a3307e,#a3307e,#a3307e,#a3307e,#a1307e,#a1307e,#a1307e,#a1307e,#a1307e,#a02f7f,#a02f7f,#a1307e,#a1307e,#a1307e,#a1307e,#a1307e,#a1307e,#a1307e,#a1307e,#a1307e,#a1307e,#a1307e,#a1307e,#a1307e,#a1307e,#a1307e,#a1307e,#a02f7f,#a02f7f,#a1307e,#a1307e,#a1307e,#a1307e,#a1307e),
linear-gradient(90deg,#a1307e,#a3307e,#a3307e,#a5317e,#a5317e,#a5317e,#a5317e,#a5317e,#a5317e,#a3307e,#a3307e,#a1307e,#a1307e,#a02f7f,#a02f7f,#a02f7f,#a02f7f,#a02f7f,#a02f7f,#a02f7f,#a1307e,#a1307e,#a1307e,#a3307e,#a3307e,#a3307e,#a3307e,#a3307e,#a3307e,#a1307e,#a1307e,#a1307e,#a02f7f,#a02f7f,#a02f7f,#a02f7f,#a02f7f,#a02f7f,#a02f7f,#a1307e,#a1307e),
linear-gradient(90deg,#a3307e,#a3307e,#a5317e,#a6317d,#a8327d,#a8327d,#a8327d,#a8327d,#a6317d,#a5317e,#a3307e,#a1307e,#a1307e,#a02f7f,#9e2f7f,#9c2e7f,#9c2e7f,#9e2f7f,#9e2f7f,#a02f7f,#a02f7f,#a1307e,#a3307e,#a3307e,#a5317e,#a5317e,#a5317e,#a5317e,#a3307e,#a3307e,#a1307e,#a02f7f,#a02f7f,#9e2f7f,#9e2f7f,#9c2e7f,#9c2e7f,#9e2f7f,#a02f7f,#a1307e,#a3307e),
linear-gradient(90deg,#a3307e,#a5317e,#a6317d,#a8327d,#aa337d,#ab337c,#ab337c,#aa337d,#a8327d,#a6317d,#a5317e,#a1307e,#a02f7f,#9e2f7f,#9c2e7f,#9b2e7f,#9b2e7f,#9b2e7f,#9c2e7f,#9e2f7f,#a02f7f,#a1307e,#a3307e,#a5317e,#a6317d,#a8327d,#a6317d,#a6317d,#a5317e,#a3307e,#a1307e,#a02f7f,#9e2f7f,#9c2e7f,#9b2e7f,#9b2e7f,#9b2e7f,#9c2e7f,#9e2f7f,#a02f7f,#a3307e),
linear-gradient(90deg,#a3307e,#a5317e,#a8327d,#ab337c,#ad347c,#ae347b,#ae347b,#ad347c,#ab337c,#a8327d,#a5317e,#a1307e,#a02f7f,#9c2e7f,#992d80,#982d80,#982d80,#992d80,#9b2e7f,#9c2e7f,#a02f7f,#a1307e,#a5317e,#a6317d,#a8327d,#aa337d,#aa337d,#a8327d,#a6317d,#a3307e,#a1307e,#a02f7f,#9c2e7f,#9b2e7f,#992d80,#982d80,#982d80,#992d80,#9c2e7f,#a02f7f,#a3307e),
linear-gradient(90deg,#a3307e,#a6317d,#aa337d,#ad347c,#b0357b,#b2357b,#b2357b,#b0357b,#ad347c,#aa337d,#a6317d,#a1307e,#9e2f7f,#9b2e7f,#982d80,#942c80,#942c80,#962c80,#992d80,#9c2e7f,#9e2f7f,#a1307e,#a5317e,#a8327d,#ab337c,#ad347c,#ad347c,#ab337c,#a8327d,#a5317e,#a1307e,#9e2f7f,#9b2e7f,#982d80,#962c80,#942c80,#962c80,#982d80,#9b2e7f,#9e2f7f,#a3307e),
linear-gradient(90deg,#a3307e,#a8327d,#ab337c,#b0357b,#b5367a,#b73779,#b73779,#b3367a,#b0357b,#ab337c,#a6317d,#a1307e,#9c2e7f,#982d80,#942c80,#912b81,#912b81,#932b80,#962c80,#9b2e7f,#9e2f7f,#a3307e,#a6317d,#ab337c,#ae347b,#b0357b,#b0357b,#ae347b,#aa337d,#a6317d,#a1307e,#9e2f7f,#992d80,#962c80,#932b80,#912b81,#932b80,#942c80,#992d80,#9e2f7f,#a3307e),
linear-gradient(90deg,#a3307e,#a8327d,#ae347b,#b3367a,#b83779,#bc3978,#ba3878,#b83779,#b3367a,#ad347c,#a8327d,#a1307e,#9c2e7f,#962c80,#912b81,#8e2a81,#8e2a81,#902a81,#942c80,#992d80,#9e2f7f,#a3307e,#a8327d,#ad347c,#b2357b,#b3367a,#b3367a,#b0357b,#ad347c,#a8327d,#a3307e,#9c2e7f,#982d80,#932b80,#902a81,#8e2a81,#8e2a81,#912b81,#982d80,#9c2e7f,#a3307e),
linear-gradient(90deg,#a3307e,#aa337d,#b0357b,#b73779,#bd3977,#c03a76,#bf3a77,#bc3978,#b73779,#b0357b,#a8327d,#a1307e,#9b2e7f,#942c80,#8e2a81,#8b2981,#8b2981,#8c2981,#912b81,#982d80,#9e2f7f,#a3307e,#aa337d,#b0357b,#b5367a,#b83779,#b83779,#b5367a,#ae347b,#aa337d,#a3307e,#9c2e7f,#962c80,#912b81,#8c2981,#892881,#8b2981,#8e2a81,#942c80,#9b2e7f,#a3307e),
linear-gradient(90deg,#a3307e,#ab337c,#b3367a,#ba3878,#c03a76,#c53c74,#c53c74,#c03a76,#ba3878,#b2357b,#aa337d,#a1307e,#992d80,#912b81,#8b2981,#862781,#862781,#892881,#902a81,#962c80,#9c2e7f,#a5317e,#ab337c,#b2357b,#b83779,#bc3978,#bc3978,#b83779,#b2357b,#ab337c,#a3307e,#9c2e7f,#942c80,#8e2a81,#892881,#862781,#862781,#8b2981,#932b80,#9b2e7f,#a3307e),
linear-gradient(90deg,#a3307e,#ab337c,#b5367a,#bf3a77,#c53c74,#ca3e72,#ca3e72,#c53c74,#bd3977,#b3367a,#ab337c,#a1307e,#982d80,#8e2a81,#882781,#832681,#812581,#862781,#8c2981,#942c80,#9c2e7f,#a5317e,#ad347c,#b5367a,#bd3977,#c03a76,#c03a76,#bc3978,#b5367a,#ad347c,#a3307e,#9b2e7f,#932b80,#8b2981,#842681,#812581,#832681,#882781,#902a81,#992d80,#a3307e),
linear-gradient(90deg,#a3307e,#ad347c,#b83779,#c23b75,#ca3e72,#cf4070,#cf4070,#ca3e72,#c03a76,#b73779,#ab337c,#a1307e,#962c80,#8c2981,#832681,#7e2482,#7c2382,#812581,#892881,#932b80,#9c2e7f,#a5317e,#ae347b,#b83779,#c03a76,#c53c74,#c53c74,#c03a76,#b83779,#ae347b,#a5317e,#9b2e7f,#912b81,#882781,#812581,#7c2382,#7e2482,#842681,#8c2981,#982d80,#a3307e),
linear-gradient(90deg,#a3307e,#ae347b,#ba3878,#c73d73,#d0416f,#d5446d,#d5446d,#cf4070,#c53c74,#ba3878,#ad347c,#a1307e,#942c80,#892881,#802582,#792282,#782281,#7e2482,#862781,#912b81,#9b2e7f,#a6317d,#b2357b,#bc3978,#c53c74,#ca3e72,#ca3e72,#c43c75,#bc3978,#b0357b,#a5317e,#992d80,#902a81,#842681,#7c2382,#782281,#792282,#802582,#8b2981,#962c80,#a3307e),
linear-gradient(90deg,#a3307e,#b0357b,#bd3977,#ca3e72,#d5446d,#db476a,#d9466b,#d3436e,#c83e73,#bc3978,#ae347b,#a1307e,#932b80,#862781,#7b2382,#752181,#732081,#792282,#832681,#8e2a81,#9b2e7f,#a6317d,#b3367a,#bf3a77,#ca3e72,#cf4070,#cf4070,#c83e73,#bf3a77,#b2357b,#a5317e,#992d80,#8e2a81,#812581,#782281,#732081,#752181,#7c2382,#882781,#942c80,#a3307e),
linear-gradient(90deg,#a3307e,#b2357b,#c03a76,#cf4070,#d9466b,#df4a68,#df4a68,#d9466b,#cd4071,#bf3a77,#b0357b,#a1307e,#912b81,#832681,#762181,#701f81,#6e1e81,#752181,#802582,#8c2981,#9b2e7f,#a8327d,#b5367a,#c43c75,#cf4070,#d5446d,#d3436e,#cd4071,#c23b75,#b3367a,#a6317d,#992d80,#8b2981,#7e2482,#752181,#6e1e81,#701f81,#782281,#842681,#932b80,#a3307e),
linear-gradient(90deg,#a3307e,#b3367a,#c43c75,#d2426f,#df4a68,#e44f64,#e44f64,#de4968,#d0416f,#c23b75,#b2357b,#a02f7f,#902a81,#802582,#732081,#6a1c81,#6a1c81,#701f81,#7c2382,#8b2981,#992d80,#a8327d,#b83779,#c73d73,#d3436e,#d9466b,#d9466b,#d2426f,#c53c74,#b73779,#a6317d,#982d80,#892881,#7b2382,#701f81,#6a1c81,#6b1d81,#732081,#812581,#912b81,#a3307e),
linear-gradient(90deg,#a3307e,#b5367a,#c73d73,#d6456c,#e34e65,#e95462,#e95462,#e24d66,#d5446d,#c43c75,#b2357b,#a02f7f,#8e2a81,#7c2382,#6e1e81,#651a80,#651a80,#6d1d81,#792282,#892881,#992d80,#aa337d,#ba3878,#ca3e72,#d8456c,#df4a68,#de4968,#d6456c,#c83e73,#b83779,#a8327d,#982d80,#882781,#782281,#6b1d81,#651a80,#671b80,#701f81,#7e2482,#902a81,#a3307e),
linear-gradient(90deg,#a3307e,#b5367a,#c83e73,#db476a,#e85362,#ed5a5f,#ed5a5f,#e75263,#d9466b,#c73d73,#b3367a,#a02f7f,#8c2981,#792282,#6a1c81,#601880,#5f187f,#681c81,#762181,#882781,#992d80,#aa337d,#bd3977,#cf4070,#dc4869,#e34e65,#e34e65,#db476a,#cc3f71,#ba3878,#a8327d,#962c80,#842681,#752181,#671b80,#5f187f,#601880,#6b1d81,#7b2382,#8e2a81,#a3307e),
linear-gradient(90deg,#a3307e,#b73779,#cc3f71,#df4a68,#eb5760,#f1605d,#f1605d,#ea5661,#de4968,#ca3e72,#b5367a,#a02f7f,#8b2981,#762181,#651a80,#5a167e,#5a167e,#641a80,#732081,#842681,#982d80,#ab337c,#bf3a77,#d2426f,#e04c67,#e85362,#e75263,#df4a68,#d0416f,#bd3977,#aa337d,#962c80,#832681,#721f81,#621980,#5a167e,#5c167f,#671b80,#782281,#8c2981,#a3307e),
linear-gradient(90deg,#a1307e,#b83779,#cf4070,#e34e65,#ef5d5e,#f4675c,#f4675c,#ee5b5e,#e04c67,#cd4071,#b73779,#a02f7f,#892881,#732081,#601880,#56147d,#56147d,#5f187f,#701f81,#832681,#982d80,#ad347c,#c23b75,#d6456c,#e44f64,#ec5860,#eb5760,#e34e65,#d3436e,#bf3a77,#aa337d,#962c80,#812581,#6d1d81,#5d177f,#54137d,#57157e,#621980,#752181,#8b2981,#a1307e),
linear-gradient(90deg,#a1307e,#ba3878,#d2426f,#e75263,#f2645c,#f7705c,#f66e5c,#f2625d,#e44f64,#cf4070,#b83779,#a02f7f,#882781,#701f81,#5c167f,#51127c,#4f127b,#5a167e,#6b1d81,#812581,#982d80,#ad347c,#c43c75,#d9466b,#e95462,#ef5d5e,#ef5d5e,#e85362,#d8456c,#c23b75,#ab337c,#942c80,#7e2482,#6a1c81,#59157e,#4f127b,#51127c,#5d177f,#721f81,#892881,#a1307e),
linear-gradient(90deg,#a1307e,#bc3978,#d5446d,#e95462,#f4695c,#f9785d,#f8765c,#f4675c,#e85362,#d2426f,#b83779,#a02f7f,#862781,#6d1d81,#57157e,#4a1079,#4a1079,#56147d,#681c81,#802582,#962c80,#ae347b,#c73d73,#de4968,#ec5860,#f2645c,#f2645c,#eb5760,#db476a,#c43c75,#ab337c,#942c80,#7c2382,#671b80,#54137d,#4a1079,#4c117a,#5a167e,#6e1e81,#882781,#a1307e),
linear-gradient(90deg,#a1307e,#bd3977,#d8456c,#ec5860,#f7705c,#fa7f5e,#fa7d5e,#f66e5c,#eb5760,#d5446d,#ba3878,#a02f7f,#832681,#6a1c81,#52137c,#451077,#451077,#51127c,#651a80,#7c2382,#962c80,#b0357b,#c83e73,#e04c67,#ef5d5e,#f56b5c,#f4695c,#ee5b5e,#de4968,#c73d73,#ad347c,#932b80,#7b2382,#641a80,#4f127b,#440f76,#451077,#56147d,#6b1d81,#862781,#a1307e),
linear-gradient(90deg,#a1307e,#bf3a77,#db476a,#ef5d5e,#f9785d,#fb8761,#fb8560,#f8745c,#ed5a5f,#d8456c,#bc3978,#9e2f7f,#812581,#671b80,#4f127b,#400f74,#3f0f72,#4c117a,#621980,#7b2382,#962c80,#b0357b,#cc3f71,#e44f64,#f2625d,#f7705c,#f7705c,#f1605d,#e24d66,#c83e73,#ad347c,#932b80,#782281,#5f187f,#4a1079,#3f0f72,#400f74,#51127c,#6a1c81,#842681,#a1307e),
linear-gradient(90deg,#a1307e,#c03a76,#de4968,#f2625d,#fa7d5e,#fc8e64,#fc8c63,#f97b5d,#f05f5e,#db476a,#bd3977,#9e2f7f,#802582,#641a80,#4a1079,#390f6e,#390f6e,#471078,#5f187f,#792282,#962c80,#b2357b,#cf4070,#e75263,#f4695c,#f9785d,#f9785d,#f3655c,#e44f64,#cc3f71,#ae347b,#932b80,#762181,#5c167f,#451077,#38106c,#3b0f70,#4c117a,#671b80,#832681,#a1307e),
linear-gradient(90deg,#a1307e,#c23b75,#e04c67,#f4675c,#fb8560,#fd9668,#fd9467,#fa815f,#f2645c,#dc4869,#bf3a77,#9e2f7f,#7e2482,#5f187f,#451077,#341069,#331067,#420f75,#5c167f,#782281,#942c80,#b2357b,#d0416f,#e95462,#f66e5c,#fa7f5e,#fa7d5e,#f56b5c,#e75263,#cd4071,#ae347b,#912b81,#752181,#59157e,#400f74,#331067,#36106b,#471078,#641a80,#812581,#a1307e),
linear-gradient(90deg,#a1307e,#c43c75,#e24d66,#f66c5c,#fc8a62,#fe9d6c,#fd9b6b,#fc8961,#f4675c,#df4a68,#bf3a77,#9e2f7f,#7c2382,#5c167f,#400f74,#2f1163,#2d1161,#3f0f72,#59157e,#762181,#942c80,#b3367a,#d3436e,#ec5860,#f8745c,#fb8560,#fb8560,#f7725c,#ea5661,#cf4070,#b0357b,#912b81,#732081,#56147d,#3b0f70,#2d1161,#2f1163,#440f76,#601880,#802582,#a1307e),
linear-gradient(90deg,#a1307e,#c53c74,#e44f64,#f7705c,#fd9266,#fea571,#fea36f,#fc8e64,#f66c5c,#e24d66,#c03a76,#9e2f7f,#7b2382,#59157e,#3b0f70,#29115a,#29115a,#390f6e,#56147d,#752181,#942c80,#b5367a,#d5446d,#ee5b5e,#f9795d,#fc8c63,#fc8a62,#f9785d,#ec5860,#d2426f,#b2357b,#912b81,#701f81,#52137c,#36106b,#29115a,#2a115c,#3f0f72,#5d177f,#7e2482,#a1307e),
linear-gradient(90deg,#a1307e,#c53c74,#e75263,#f8765c,#fd9869,#feac76,#feaa74,#fd9467,#f7725c,#e34e65,#c23b75,#9e2f7f,#792282,#57157e,#38106c,#241253,#241253,#341069,#52137c,#732081,#942c80,#b5367a,#d8456c,#f1605d,#fa7f5e,#fd9266,#fd9266,#fa7d5e,#ee5b5e,#d3436e,#b2357b,#902a81,#6e1e81,#4f127b,#331067,#221150,#251255,#390f6e,#5a167e,#7e2482,#a1307e),
linear-gradient(90deg,#a1307e,#c73d73,#e95462,#f9795d,#fe9f6d,#feb27a,#feb27a,#fd9b6b,#f8765c,#e55064,#c43c75,#9e2f7f,#782281,#54137d,#331067,#20114b,#20114b,#311165,#4f127b,#701f81,#932b80,#b73779,#d9466b,#f2645c,#fb8560,#fd9a6a,#fd9869,#fb835f,#f1605d,#d6456c,#b3367a,#902a81,#6d1d81,#4c117a,#2d1161,#1e1149,#21114e,#36106b,#57157e,#7c2382,#a1307e),
linear-gradient(90deg,#a1307e,#c83e73,#ea5661,#fa7f5e,#fea571,#feb97f,#feb77e,#fea16e,#f9795d,#e85362,#c43c75,#9c2e7f,#762181,#51127c,#2d1161,#1c1044,#1c1044,#2c115f,#4c117a,#6e1e81,#932b80,#b83779,#dc4869,#f4675c,#fc8a62,#fe9f6d,#fe9d6c,#fb8761,#f2645c,#d8456c,#b3367a,#902a81,#6b1d81,#491078,#29115a,#1a1042,#1d1147,#311165,#54137d,#7b2382,#a1307e),
linear-gradient(90deg,#a1307e,#ca3e72,#ec5860,#fb835f,#feaa74,#febf84,#febf84,#fea772,#fa7f5e,#e95462,#c53c74,#9c2e7f,#752181,#4e117b,#2a115c,#180f3d,#180f3d,#29115a,#491078,#6d1d81,#932b80,#b83779,#de4968,#f56b5c,#fc9065,#fea571,#fea571,#fc8c63,#f4675c,#d9466b,#b5367a,#8e2a81,#6a1c81,#451077,#251255,#160f3b,#19103f,#2d1161,#52137c,#792282,#a1307e),
linear-gradient(90deg,#a1307e,#cc3f71,#ee5b5e,#fc8961,#feb078,#fec68a,#fec488,#feac76,#fb835f,#eb5760,#c73d73,#9c2e7f,#732081,#4a1079,#271258,#150e38,#140e36,#241253,#471078,#6b1d81,#932b80,#ba3878,#df4a68,#f66e5c,#fd9668,#feaa74,#feaa74,#fd9266,#f56b5c,#db476a,#b5367a,#8e2a81,#681c81,#420f75,#21114e,#140e36,#160f3b,#2a115c,#4f127b,#782281,#a1307e),
linear-gradient(90deg,#a1307e,#cc3f71,#ef5d5e,#fc8c63,#feb67c,#fecc8f,#feca8d,#feb27a,#fb8761,#ec5860,#c73d73,#9c2e7f,#721f81,#491078,#221150,#120d31,#120d31,#21114e,#440f76,#6a1c81,#912b81,#ba3878,#e04c67,#f7725c,#fd9a6a,#feb078,#feb078,#fd9668,#f66e5c,#de4968,#b5367a,#8e2a81,#671b80,#3f0f72,#1e1149,#110c2f,#130d34,#251255,#4e117b,#762181,#a1307e),
linear-gradient(90deg,#a1307e,#cd4071,#f05f5e,#fc9065,#feb97f,#fed194,#fecf92,#feb67c,#fc8a62,#ed5a5f,#c83e73,#9c2e7f,#701f81,#451077,#20114b,#100b2d,#0e0b2b,#1e1149,#400f74,#6a1c81,#912b81,#bc3978,#e34e65,#f8765c,#fe9f6d,#feb67c,#feb47b,#fd9b6b,#f7725c,#df4a68,#b73779,#8c2981,#651a80,#3d0f71,#1c1044,#0d0a29,#100b2d,#221150,#4a1079,#752181,#a1307e),
linear-gradient(90deg,#a1307e,#cf4070,#f2625d,#fd9467,#febf84,#fed799,#fed597,#febb81,#fc8e64,#ef5d5e,#ca3e72,#9c2e7f,#701f81,#440f76,#1d1147,#0c0926,#0c0926,#1c1044,#3f0f72,#681c81,#912b81,#bc3978,#e44f64,#f9795d,#fea36f,#febb81,#feb97f,#fe9f6d,#f8745c,#e04c67,#b73779,#8c2981,#641a80,#390f6e,#19103f,#0b0924,#0d0a29,#20114b,#491078,#752181,#a1307e),
linear-gradient(90deg,#a1307e,#cf4070,#f2645c,#fd9869,#fec287,#fddc9e,#fdda9c,#febf84,#fd9266,#f05f5e,#ca3e72,#9c2e7f,#6e1e81,#400f74,#1a1042,#0a0822,#0a0822,#19103f,#3b0f70,#671b80,#912b81,#bd3977,#e55064,#fa7d5e,#fea973,#febf84,#febf84,#fea36f,#f9785d,#e24d66,#b83779,#8c2981,#621980,#38106c,#160f3b,#090720,#0b0924,#1d1147,#451077,#732081,#a1307e),
linear-gradient(90deg,#a1307e,#d0416f,#f3655c,#fd9b6b,#fec88c,#fde0a1,#fddea0,#fec287,#fd9668,#f1605d,#cc3f71,#9c2e7f,#6d1d81,#3f0f72,#180f3d,#08071e,#07061c,#160f3b,#390f6e,#651a80,#912b81,#bd3977,#e75263,#fa7f5e,#feac76,#fec488,#fec287,#fea772,#f97b5d,#e34e65,#b83779,#8c2981,#601880,#341069,#140e36,#07061c,#090720,#1c1044,#440f76,#721f81,#a1307e),
linear-gradient(90deg,#a1307e,#d0416f,#f4675c,#fe9d6c,#fecc8f,#fde5a7,#fde3a5,#fec68a,#fd9869,#f2625d,#cc3f71,#9c2e7f,#6b1d81,#3d0f71,#160f3b,#06051a,#060518,#140e36,#38106c,#651a80,#912b81,#bf3a77,#e85362,#fb835f,#feb078,#fec88c,#fec68a,#feaa74,#fa7d5e,#e44f64,#b83779,#8c2981,#5f187f,#331067,#120d31,#060518,#07061c,#19103f,#420f75,#721f81,#a1307e),
linear-gradient(90deg,#a1307e,#d2426f,#f4695c,#fea16e,#fecf92,#fde9aa,#fde7a9,#feca8d,#fd9b6b,#f2645c,#cd4071,#9c2e7f,#6b1d81,#3b0f70,#140e36,#050416,#050416,#130d34,#36106b,#641a80,#912b81,#bf3a77,#e95462,#fb8560,#feb27a,#fecc8f,#feca8d,#feae77,#fa7f5e,#e55064,#ba3878,#8b2981,#5f187f,#311165,#110c2f,#040414,#060518,#180f3d,#400f74,#701f81,#a1307e),
linear-gradient(90deg,#a1307e,#d2426f,#f56b5c,#fea36f,#fed194,#fcecae,#fdebac,#fecd90,#fe9d6c,#f3655c,#cd4071,#9b2e7f,#6a1c81,#390f6e,#130d34,#030312,#030312,#110c2f,#341069,#621980,#902a81,#bf3a77,#ea5661,#fc8961,#feb67c,#fecf92,#fecd90,#feb27a,#fa815f,#e55064,#ba3878,#8b2981,#5d177f,#2f1163,#0e0b2b,#03030f,#040414,#150e38,#3f0f72,#701f81,#a1307e),
linear-gradient(90deg,#a1307e,#d3436e,#f66c5c,#fea772,#fed597,#fcf0b2,#fceeb0,#fed194,#fe9f6d,#f4675c,#cd4071,#9b2e7f,#6a1c81,#38106c,#110c2f,#03030f,#03030f,#100b2d,#331067,#621980,#902a81,#c03a76,#ea5661,#fc8a62,#feb77e,#fed194,#fed194,#feb47b,#fb8560,#e75263,#ba3878,#8b2981,#5d177f,#2d1161,#0d0a29,#02020d,#030312,#140e36,#3d0f71,#6e1e81,#a1307e),
linear-gradient(90deg,#a1307e,#d3436e,#f66e5c,#fea973,#fed799,#fcf2b4,#fcf0b2,#fed395,#fea16e,#f4675c,#cf4070,#9b2e7f,#681c81,#36106b,#100b2d,#02020d,#02020b,#0e0b2b,#311165,#601880,#902a81,#c03a76,#eb5760,#fc8c63,#febb81,#fed597,#fed395,#feb67c,#fb8560,#e85362,#ba3878,#8b2981,#5c167f,#2c115f,#0c0926,#02020b,#03030f,#130d34,#3b0f70,#6e1e81,#a1307e),
linear-gradient(90deg,#a1307e,#d3436e,#f66e5c,#feaa74,#fdda9c,#fcf4b6,#fcf4b6,#fed597,#fea36f,#f4695c,#cf4070,#9b2e7f,#681c81,#341069,#0e0b2b,#02020b,#020109,#0d0a29,#2f1163,#601880,#902a81,#c03a76,#eb5760,#fc8e64,#febd82,#fed799,#fed597,#feb77e,#fb8761,#e85362,#bc3978,#8b2981,#5c167f,#2a115c,#0b0924,#010108,#02020d,#120d31,#3b0f70,#6e1e81,#a1307e),
linear-gradient(90deg,#a1307e,#d5446d,#f7705c,#feaa74,#fddc9e,#fcf7b9,#fcf6b8,#fed799,#fea571,#f4695c,#cf4070,#9b2e7f,#681c81,#341069,#0e0b2b,#020109,#010108,#0c0926,#2f1163,#601880,#902a81,#c03a76,#ec5860,#fc8e64,#febf84,#fed89a,#fed799,#feb97f,#fc8961,#e85362,#bc3978,#8b2981,#5a167e,#2a115c,#0a0822,#010108,#02020b,#110c2f,#390f6e,#6d1d81,#a1307e),
linear-gradient(90deg,#a1307e,#d5446d,#f7705c,#feac76,#fddc9e,#fcf7b9,#fcf7b9,#fed89a,#fea772,#f56b5c,#cf4070,#9b2e7f,#681c81,#331067,#0d0a29,#010108,#010108,#0c0926,#2d1161,#5f187f,#902a81,#c03a76,#ec5860,#fc9065,#febf84,#fdda9c,#fed89a,#febb81,#fc8a62,#e95462,#bc3978,#8b2981,#5a167e,#29115a,#090720,#010106,#020109,#110c2f,#390f6e,#6d1d81,#a1307e),
linear-gradient(90deg,#a1307e,#d5446d,#f7725c,#feac76,#fddea0,#fcf9bb,#fcf7b9,#fdda9c,#fea772,#f56b5c,#d0416f,#9b2e7f,#671b80,#331067,#0c0926,#010106,#010106,#0b0924,#2d1161,#5f187f,#902a81,#c03a76,#ed5a5f,#fc9065,#fec185,#fddc9e,#fdda9c,#febd82,#fc8a62,#e95462,#bc3978,#8b2981,#5a167e,#29115a,#090720,#010005,#010108,#100b2d,#38106c,#6d1d81,#a1307e),
linear-gradient(90deg,#a1307e,#d5446d,#f7725c,#feae77,#fddea0,#fcfbbd,#fcf9bb,#fdda9c,#fea772,#f56b5c,#d0416f,#9b2e7f,#671b80,#331067,#0c0926,#010106,#010106,#0b0924,#2d1161,#5f187f,#902a81,#c23b75,#ed5a5f,#fd9266,#fec185,#fddc9e,#fdda9c,#febd82,#fc8a62,#e95462,#bc3978,#8b2981,#5a167e,#29115a,#08071e,#010005,#010108,#100b2d,#38106c,#6d1d81,#a1307e),
linear-gradient(90deg,#a1307e,#d5446d,#f7725c,#feae77,#fde0a1,#fcfbbd,#fcf9bb,#fdda9c,#fea973,#f56b5c,#d0416f,#9b2e7f,#671b80,#331067,#0c0926,#010106,#010005,#0b0924,#2d1161,#5f187f,#902a81,#c23b75,#ed5a5f,#fd9266,#fec287,#fddc9e,#fdda9c,#febd82,#fc8a62,#e95462,#bc3978,#8b2981,#5a167e,#271258,#08071e,#010005,#010108,#100b2d,#38106c,#6d1d81,#a1307e),
linear-gradient(90deg,#a1307e,#d5446d,#f7725c,#feae77,#fde0a1,#fcfbbd,#fcf9bb,#fdda9c,#fea973,#f56b5c,#d0416f,#9b2e7f,#671b80,#331067,#0c0926,#010106,#010005,#0b0924,#2d1161,#5f187f,#902a81,#c23b75,#ed5a5f,#fd9266,#fec287,#fddc9e,#fdda9c,#febd82,#fc8a62,#e95462,#bc3978,#8b2981,#5a167e,#271258,#08071e,#010005,#010108,#100b2d,#38106c,#6d1d81,#a1307e),
linear-gradient(90deg,#a1307e,#d5446d,#f7725c,#feae77,#fddea0,#fcfbbd,#fcf9bb,#fdda9c,#fea772,#f56b5c,#d0416f,#9b2e7f,#671b80,#331067,#0c0926,#010106,#010106,#0b0924,#2d1161,#5f187f,#902a81,#c23b75,#ed5a5f,#fd9266,#fec185,#fddc9e,#fdda9c,#febd82,#fc8a62,#e95462,#bc3978,#8b2981,#5a167e,#29115a,#08071e,#010005,#010108,#100b2d,#38106c,#6d1d81,#a1307e),
linear-gradient(90deg,#a1307e,#d5446d,#f7725c,#feac76,#fddea0,#fcf9bb,#fcf7b9,#fdda9c,#fea772,#f56b5c,#d0416f,#9b2e7f,#671b80,#331067,#0c0926,#010106,#010106,#0b0924,#2d1161,#5f187f,#902a81,#c03a76,#ed5a5f,#fc9065,#fec185,#fddc9e,#fdda9c,#febd82,#fc8a62,#e95462,#bc3978,#8b2981,#5a167e,#29115a,#090720,#010005,#010108,#100b2d,#38106c,#6d1d81,#a1307e),
linear-gradient(90deg,#a1307e,#d5446d,#f7705c,#feac76,#fddc9e,#fcf7b9,#fcf7b9,#fed89a,#fea772,#f56b5c,#cf4070,#9b2e7f,#681c81,#331067,#0d0a29,#010108,#010108,#0c0926,#2d1161,#5f187f,#902a81,#c03a76,#ec5860,#fc9065,#febf84,#fdda9c,#fed89a,#febb81,#fc8a62,#e95462,#bc3978,#8b2981,#5a167e,#29115a,#090720,#010106,#020109,#110c2f,#390f6e,#6d1d81,#a1307e),
linear-gradient(90deg,#a1307e,#d5446d,#f7705c,#feaa74,#fddc9e,#fcf7b9,#fcf6b8,#fed799,#fea571,#f4695c,#cf4070,#9b2e7f,#681c81,#341069,#0e0b2b,#020109,#010108,#0c0926,#2f1163,#601880,#902a81,#c03a76,#ec5860,#fc8e64,#febf84,#fed89a,#fed799,#feb97f,#fc8961,#e85362,#bc3978,#8b2981,#5a167e,#2a115c,#0a0822,#010108,#02020b,#110c2f,#390f6e,#6d1d81,#a1307e),
linear-gradient(90deg,#a1307e,#d3436e,#f66e5c,#feaa74,#fdda9c,#fcf4b6,#fcf4b6,#fed597,#fea36f,#f4695c,#cf4070,#9b2e7f,#681c81,#341069,#0e0b2b,#02020b,#020109,#0d0a29,#2f1163,#601880,#902a81,#c03a76,#eb5760,#fc8e64,#febd82,#fed799,#fed597,#feb77e,#fb8761,#e85362,#bc3978,#8b2981,#5c167f,#2a115c,#0b0924,#010108,#02020d,#120d31,#3b0f70,#6e1e81,#a1307e),
linear-gradient(90deg,#a1307e,#d3436e,#f66e5c,#fea973,#fed799,#fcf2b4,#fcf0b2,#fed395,#fea16e,#f4675c,#cf4070,#9b2e7f,#681c81,#36106b,#100b2d,#02020d,#02020b,#0e0b2b,#311165,#601880,#902a81,#c03a76,#eb5760,#fc8c63,#febb81,#fed597,#fed395,#feb67c,#fb8560,#e85362,#ba3878,#8b2981,#5c167f,#2c115f,#0c0926,#02020b,#03030f,#130d34,#3b0f70,#6e1e81,#a1307e),
linear-gradient(90deg,#a1307e,#d3436e,#f66c5c,#fea772,#fed597,#fcf0b2,#fceeb0,#fed194,#fe9f6d,#f4675c,#cd4071,#9b2e7f,#6a1c81,#38106c,#110c2f,#03030f,#03030f,#100b2d,#331067,#621980,#902a81,#c03a76,#ea5661,#fc8a62,#feb77e,#fed194,#fed194,#feb47b,#fb8560,#e75263,#ba3878,#8b2981,#5d177f,#2d1161,#0d0a29,#02020d,#030312,#140e36,#3d0f71,#6e1e81,#a1307e),
linear-gradient(90deg,#a1307e,#d2426f,#f56b5c,#fea36f,#fed194,#fcecae,#fdebac,#fecd90,#fe9d6c,#f3655c,#cd4071,#9b2e7f,#6a1c81,#390f6e,#130d34,#030312,#030312,#110c2f,#341069,#621980,#902a81,#bf3a77,#ea5661,#fc8961,#feb67c,#fecf92,#fecd90,#feb27a,#fa815f,#e55064,#ba3878,#8b2981,#5d177f,#2f1163,#0e0b2b,#03030f,#040414,#150e38,#3f0f72,#701f81,#a1307e),
linear-gradient(90deg,#a1307e,#d2426f,#f4695c,#fea16e,#fecf92,#fde9aa,#fde7a9,#feca8d,#fd9b6b,#f2645c,#cd4071,#9c2e7f,#6b1d81,#3b0f70,#140e36,#050416,#050416,#130d34,#36106b,#641a80,#912b81,#bf3a77,#e95462,#fb8560,#feb27a,#fecc8f,#feca8d,#feae77,#fa7f5e,#e55064,#ba3878,#8b2981,#5f187f,#311165,#110c2f,#040414,#060518,#180f3d,#400f74,#701f81,#a1307e),
linear-gradient(90deg,#a1307e,#d0416f,#f4675c,#fe9d6c,#fecc8f,#fde5a7,#fde3a5,#fec68a,#fd9869,#f2625d,#cc3f71,#9c2e7f,#6b1d81,#3d0f71,#160f3b,#06051a,#060518,#140e36,#38106c,#651a80,#912b81,#bf3a77,#e85362,#fb835f,#feb078,#fec88c,#fec68a,#feaa74,#fa7d5e,#e44f64,#b83779,#8c2981,#5f187f,#331067,#120d31,#060518,#07061c,#19103f,#420f75,#721f81,#a1307e),
linear-gradient(90deg,#a1307e,#d0416f,#f3655c,#fd9b6b,#fec88c,#fde0a1,#fddea0,#fec287,#fd9668,#f1605d,#cc3f71,#9c2e7f,#6d1d81,#3f0f72,#180f3d,#08071e,#07061c,#160f3b,#390f6e,#651a80,#912b81,#bd3977,#e75263,#fa7f5e,#feac76,#fec488,#fec287,#fea772,#f97b5d,#e34e65,#b83779,#8c2981,#601880,#341069,#140e36,#07061c,#090720,#1c1044,#440f76,#721f81,#a1307e),
linear-gradient(90deg,#a1307e,#cf4070,#f2645c,#fd9869,#fec287,#fddc9e,#fdda9c,#febf84,#fd9266,#f05f5e,#ca3e72,#9c2e7f,#6e1e81,#400f74,#1a1042,#0a0822,#0a0822,#19103f,#3b0f70,#671b80,#912b81,#bd3977,#e55064,#fa7d5e,#fea973,#febf84,#febf84,#fea36f,#f9785d,#e24d66,#b83779,#8c2981,#621980,#38106c,#160f3b,#090720,#0b0924,#1d1147,#451077,#732081,#a1307e),
linear-gradient(90deg,#a1307e,#cf4070,#f2625d,#fd9467,#febf84,#fed799,#fed597,#febb81,#fc8e64,#ef5d5e,#ca3e72,#9c2e7f,#701f81,#440f76,#1d1147,#0c0926,#0c0926,#1c1044,#3f0f72,#681c81,#912b81,#bc3978,#e44f64,#f9795d,#fea36f,#febb81,#feb97f,#fe9f6d,#f8745c,#e04c67,#b73779,#8c2981,#641a80,#390f6e,#19103f,#0b0924,#0d0a29,#20114b,#491078,#752181,#a1307e),
linear-gradient(90deg,#a1307e,#cd4071,#f05f5e,#fc9065,#feb97f,#fed194,#fecf92,#feb67c,#fc8a62,#ed5a5f,#c83e73,#9c2e7f,#701f81,#451077,#20114b,#100b2d,#0e0b2b,#1e1149,#400f74,#6a1c81,#912b81,#bc3978,#e34e65,#f8765c,#fe9f6d,#feb67c,#feb47b,#fd9b6b,#f7725c,#df4a68,#b73779,#8c2981,#651a80,#3d0f71,#1c1044,#0d0a29,#100b2d,#221150,#4a1079,#752181,#a1307e),
linear-gradient(90deg,#a1307e,#cc3f71,#ef5d5e,#fc8c63,#feb67c,#fecc8f,#feca8d,#feb27a,#fb8761,#ec5860,#c73d73,#9c2e7f,#721f81,#491078,#221150,#120d31,#120d31,#21114e,#440f76,#6a1c81,#912b81,#ba3878,#e04c67,#f7725c,#fd9a6a,#feb078,#feb078,#fd9668,#f66e5c,#de4968,#b5367a,#8e2a81,#671b80,#3f0f72,#1e1149,#110c2f,#130d34,#251255,#4e117b,#762181,#a1307e),
linear-gradient(90deg,#a1307e,#cc3f71,#ee5b5e,#fc8961,#feb078,#fec68a,#fec488,#feac76,#fb835f,#eb5760,#c73d73,#9c2e7f,#732081,#4a1079,#271258,#150e38,#140e36,#241253,#471078,#6b1d81,#932b80,#ba3878,#df4a68,#f66e5c,#fd9668,#feaa74,#feaa74,#fd9266,#f56b5c,#db476a,#b5367a,#8e2a81,#681c81,#420f75,#21114e,#140e36,#160f3b,#2a115c,#4f127b,#782281,#a1307e),
linear-gradient(90deg,#a1307e,#ca3e72,#ec5860,#fb835f,#feaa74,#febf84,#febf84,#fea772,#fa7f5e,#e95462,#c53c74,#9c2e7f,#752181,#4e117b,#2a115c,#180f3d,#180f3d,#29115a,#491078,#6d1d81,#932b80,#b83779,#de4968,#f56b5c,#fc9065,#fea571,#fea571,#fc8c63,#f4675c,#d9466b,#b5367a,#8e2a81,#6a1c81,#451077,#251255,#160f3b,#19103f,#2d1161,#52137c,#792282,#a1307e),
linear-gradient(90deg,#a1307e,#c83e73,#ea5661,#fa7f5e,#fea571,#feb97f,#feb77e,#fea16e,#f9795d,#e85362,#c43c75,#9c2e7f,#762181,#51127c,#2d1161,#1c1044,#1c1044,#2c115f,#4c117a,#6e1e81,#932b80,#b83779,#dc4869,#f4675c,#fc8a62,#fe9f6d,#fe9d6c,#fb8761,#f2645c,#d8456c,#b3367a,#902a81,#6b1d81,#491078,#29115a,#1a1042,#1d1147,#311165,#54137d,#7b2382,#a1307e),
linear-gradient(90deg,#a1307e,#c73d73,#e95462,#f9795d,#fe9f6d,#feb27a,#feb27a,#fd9b6b,#f8765c,#e55064,#c43c75,#9e2f7f,#782281,#54137d,#331067,#20114b,#20114b,#311165,#4f127b,#701f81,#932b80,#b73779,#d9466b,#f2645c,#fb8560,#fd9a6a,#fd9869,#fb835f,#f1605d,#d6456c,#b3367a,#902a81,#6d1d81,#4c117a,#2d1161,#1e1149,#21114e,#36106b,#57157e,#7c2382,#a1307e),
linear-gradient(90deg,#a1307e,#c53c74,#e75263,#f8765c,#fd9869,#feac76,#feaa74,#fd9467,#f7725c,#e34e65,#c23b75,#9e2f7f,#792282,#57157e,#38106c,#241253,#241253,#341069,#52137c,#732081,#942c80,#b5367a,#d8456c,#f1605d,#fa7f5e,#fd9266,#fd9266,#fa7d5e,#ee5b5e,#d3436e,#b2357b,#902a81,#6e1e81,#4f127b,#331067,#221150,#251255,#390f6e,#5a167e,#7e2482,#a1307e),
linear-gradient(90deg,#a1307e,#c53c74,#e44f64,#f7705c,#fd9266,#fea571,#fea36f,#fc8e64,#f66c5c,#e24d66,#c03a76,#9e2f7f,#7b2382,#59157e,#3b0f70,#29115a,#29115a,#390f6e,#56147d,#752181,#942c80,#b5367a,#d5446d,#ee5b5e,#f9795d,#fc8c63,#fc8a62,#f9785d,#ec5860,#d2426f,#b2357b,#912b81,#701f81,#52137c,#36106b,#29115a,#2a115c,#3f0f72,#5d177f,#7e2482,#a1307e),
linear-gradient(90deg,#a1307e,#c43c75,#e24d66,#f66c5c,#fc8a62,#fe9d6c,#fd9b6b,#fc8961,#f4675c,#df4a68,#bf3a77,#9e2f7f,#7c2382,#5c167f,#400f74,#2f1163,#2d1161,#3f0f72,#59157e,#762181,#942c80,#b3367a,#d3436e,#ec5860,#f8745c,#fb8560,#fb8560,#f7725c,#ea5661,#cf4070,#b0357b,#912b81,#732081,#56147d,#3b0f70,#2d1161,#2f1163,#440f76,#601880,#802582,#a1307e),
linear-gradient(90deg,#a1307e,#c23b75,#e04c67,#f4675c,#fb8560,#fd9668,#fd9467,#fa815f,#f2645c,#dc4869,#bf3a77,#9e2f7f,#7e2482,#5f187f,#451077,#341069,#331067,#420f75,#5c167f,#782281,#942c80,#b2357b,#d0416f,#e95462,#f66e5c,#fa7f5e,#fa7d5e,#f56b5c,#e75263,#cd4071,#ae347b,#912b81,#752181,#59157e,#400f74,#331067,#36106b,#471078,#641a80,#812581,#a1307e),
linear-gradient(90deg,#a1307e,#c03a76,#de4968,#f2625d,#fa7d5e,#fc8e64,#fc8c63,#f97b5d,#f05f5e,#db476a,#bd3977,#9e2f7f,#802582,#641a80,#4a1079,#390f6e,#390f6e,#471078,#5f187f,#792282,#962c80,#b2357b,#cf4070,#e75263,#f4695c,#f9785d,#f9785d,#f3655c,#e44f64,#cc3f71,#ae347b,#932b80,#762181,#5c167f,#451077,#38106c,#3b0f70,#4c117a,#671b80,#832681,#a1307e),
linear-gradient(90deg,#a1307e,#bf3a77,#db476a,#ef5d5e,#f9785d,#fb8761,#fb8560,#f8745c,#ed5a5f,#d8456c,#bc3978,#9e2f7f,#812581,#671b80,#4f127b,#400f74,#3f0f72,#4c117a,#621980,#7b2382,#962c80,#b0357b,#cc3f71,#e44f64,#f2625d,#f7705c,#f7705c,#f1605d,#e24d66,#c83e73,#ad347c,#932b80,#782281,#5f187f,#4a1079,#3f0f72,#400f74,#51127c,#6a1c81,#842681,#a1307e),
linear-gradient(90deg,#a1307e,#bd3977,#d8456c,#ec5860,#f7705c,#fa7f5e,#fa7d5e,#f66e5c,#eb5760,#d5446d,#ba3878,#a02f7f,#832681,#6a1c81,#52137c,#451077,#451077,#51127c,#651a80,#7c2382,#962c80,#b0357b,#c83e73,#e04c67,#ef5d5e,#f56b5c,#f4695c,#ee5b5e,#de4968,#c73d73,#ad347c,#932b80,#7b2382,#641a80,#4f127b,#440f76,#451077,#56147d,#6b1d81,#862781,#a1307e),
linear-gradient(90deg,#a1307e,#bc3978,#d5446d,#e95462,#f4695c,#f9785d,#f8765c,#f4675c,#e85362,#d2426f,#b83779,#a02f7f,#862781,#6d1d81,#57157e,#4a1079,#4a1079,#56147d,#681c81,#802582,#962c80,#ae347b,#c73d73,#de4968,#ec5860,#f2645c,#f2645c,#eb5760,#db476a,#c43c75,#ab337c,#942c80,#7c2382,#671b80,#54137d,#4a1079,#4c117a,#5a167e,#6e1e81,#882781,#a1307e),
linear-gradient(90deg,#a1307e,#ba3878,#d2426f,#e75263,#f2645c,#f7705c,#f66e5c,#f2625d,#e44f64,#cf4070,#b83779,#a02f7f,#882781,#701f81,#5c167f,#51127c,#4f127b,#5a167e,#6b1d81,#812581,#982d80,#ad347c,#c43c75,#d9466b,#e95462,#ef5d5e,#ef5d5e,#e85362,#d8456c,#c23b75,#ab337c,#942c80,#7e2482,#6a1c81,#59157e,#4f127b,#51127c,#5d177f,#721f81,#892881,#a1307e),
linear-gradient(90deg,#a1307e,#b83779,#cf4070,#e34e65,#ef5d5e,#f4675c,#f4675c,#ee5b5e,#e04c67,#cd4071,#b73779,#a02f7f,#892881,#732081,#601880,#56147d,#56147d,#5f187f,#701f81,#832681,#982d80,#ad347c,#c23b75,#d6456c,#e44f64,#ec5860,#eb5760,#e34e65,#d3436e,#bf3a77,#aa337d,#962c80,#812581,#6d1d81,#5d177f,#54137d,#57157e,#621980,#752181,#8b2981,#a1307e),
linear-gradient(90deg,#a3307e,#b73779,#cc3f71,#df4a68,#eb5760,#f1605d,#f1605d,#ea5661,#de4968,#ca3e72,#b5367a,#a02f7f,#8b2981,#762181,#651a80,#5a167e,#5a167e,#641a80,#732081,#842681,#982d80,#ab337c,#bf3a77,#d2426f,#e04c67,#e85362,#e75263,#df4a68,#d0416f,#bd3977,#aa337d,#962c80,#832681,#721f81,#621980,#5a167e,#5c167f,#671b80,#782281,#8c2981,#a3307e),
linear-gradient(90deg,#a3307e,#b5367a,#c83e73,#db476a,#e85362,#ed5a5f,#ed5a5f,#e75263,#d9466b,#c73d73,#b3367a,#a02f7f,#8c2981,#792282,#6a1c81,#601880,#5f187f,#681c81,#762181,#882781,#992d80,#aa337d,#bd3977,#cf4070,#dc4869,#e34e65,#e34e65,#db476a,#cc3f71,#ba3878,#a8327d,#962c80,#842681,#752181,#671b80,#5f187f,#601880,#6b1d81,#7b2382,#8e2a81,#a3307e),
linear-gradient(90deg,#a3307e,#b5367a,#c73d73,#d6456c,#e34e65,#e95462,#e95462,#e24d66,#d5446d,#c43c75,#b2357b,#a02f7f,#8e2a81,#7c2382,#6e1e81,#651a80,#651a80,#6d1d81,#792282,#892881,#992d80,#aa337d,#ba3878,#ca3e72,#d8456c,#df4a68,#de4968,#d6456c,#c83e73,#b83779,#a8327d,#982d80,#882781,#782281,#6b1d81,#651a80,#671b80,#701f81,#7e2482,#902a81,#a3307e),
linear-gradient(90deg,#a3307e,#b3367a,#c43c75,#d2426f,#df4a68,#e44f64,#e44f64,#de4968,#d0416f,#c23b75,#b2357b,#a02f7f,#902a81,#802582,#732081,#6a1c81,#6a1c81,#701f81,#7c2382,#8b2981,#992d80,#a8327d,#b83779,#c73d73,#d3436e,#d9466b,#d9466b,#d2426f,#c53c74,#b73779,#a6317d,#982d80,#892881,#7b2382,#701f81,#6a1c81,#6b1d81,#732081,#812581,#912b81,#a3307e),
linear-gradient(90deg,#a3307e,#b2357b,#c03a76,#cf4070,#d9466b,#df4a68,#df4a68,#d9466b,#cd4071,#bf3a77,#b0357b,#a1307e,#912b81,#832681,#762181,#701f81,#6e1e81,#752181,#802582,#8c2981,#9b2e7f,#a8327d,#b5367a,#c43c75,#cf4070,#d5446d,#d3436e,#cd4071,#c23b75,#b3367a,#a6317d,#992d80,#8b2981,#7e2482,#752181,#6e1e81,#701f81,#782281,#842681,#932b80,#a3307e),
linear-gradient(90deg,#a3307e,#b0357b,#bd3977,#ca3e72,#d5446d,#db476a,#d9466b,#d3436e,#c83e73,#bc3978,#ae347b,#a1307e,#932b80,#862781,#7b2382,#752181,#732081,#792282,#832681,#8e2a81,#9b2e7f,#a6317d,#b3367a,#bf3a77,#ca3e72,#cf4070,#cf4070,#c83e73,#bf3a77,#b2357b,#a5317e,#992d80,#8e2a81,#812581,#782281,#732081,#752181,#7c2382,#882781,#942c80,#a3307e),
linear-gradient(90deg,#a3307e,#ae347b,#ba3878,#c73d73,#d0416f,#d5446d,#d5446d,#cf4070,#c53c74,#ba3878,#ad347c,#a1307e,#942c80,#892881,#802582,#792282,#782281,#7e2482,#862781,#912b81,#9b2e7f,#a6317d,#b2357b,#bc3978,#c53c74,#ca3e72,#ca3e72,#c43c75,#bc3978,#b0357b,#a5317e,#992d80,#902a81,#842681,#7c2382,#782281,#792282,#802582,#8b2981,#962c80,#a3307e),
linear-gradient(90deg,#a3307e,#ad347c,#b83779,#c23b75,#ca3e72,#cf4070,#cf4070,#ca3e72,#c03a76,#b73779,#ab337c,#a1307e,#962c80,#8c2981,#832681,#7e2482,#7c2382,#812581,#892881,#932b80,#9c2e7f,#a5317e,#ae347b,#b83779,#c03a76,#c53c74,#c53c74,#c03a76,#b83779,#ae347b,#a5317e,#9b2e7f,#912b81,#882781,#812581,#7c2382,#7e2482,#842681,#8c2981,#982d80,#a3307e),
linear-gradient(90deg,#a3307e,#ab337c,#b5367a,#bf3a77,#c53c74,#ca3e72,#ca3e72,#c53c74,#bd3977,#b3367a,#ab337c,#a1307e,#982d80,#8e2a81,#882781,#832681,#812581,#862781,#8c2981,#942c80,#9c2e7f,#a5317e,#ad347c,#b5367a,#bd3977,#c03a76,#c03a76,#bc3978,#b5367a,#ad347c,#a3307e,#9b2e7f,#932b80,#8b2981,#842681,#812581,#832681,#882781,#902a81,#992d80,#a3307e),
linear-gradient(90deg,#a3307e,#ab337c,#b3367a,#ba3878,#c03a76,#c53c74,#c53c74,#c03a76,#ba3878,#b2357b,#aa337d,#a1307e,#992d80,#912b81,#8b2981,#862781,#862781,#892881,#902a81,#962c80,#9c2e7f,#a5317e,#ab337c,#b2357b,#b83779,#bc3978,#bc3978,#b83779,#b2357b,#ab337c,#a3307e,#9c2e7f,#942c80,#8e2a81,#892881,#862781,#862781,#8b2981,#932b80,#9b2e7f,#a3307e),
linear-gradient(90deg,#a3307e,#aa337d,#b0357b,#b73779,#bd3977,#c03a76,#bf3a77,#bc3978,#b73779,#b0357b,#a8327d,#a1307e,#9b2e7f,#942c80,#8e2a81,#8b2981,#8b2981,#8c2981,#912b81,#982d80,#9e2f7f,#a3307e,#aa337d,#b0357b,#b5367a,#b83779,#b83779,#b5367a,#ae347b,#aa337d,#a3307e,#9c2e7f,#962c80,#912b81,#8c2981,#892881,#8b2981,#8e2a81,#942c80,#9b2e7f,#a3307e),
linear-gradient(90deg,#a3307e,#a8327d,#ae347b,#b3367a,#b83779,#bc3978,#ba3878,#b83779,#b3367a,#ad347c,#a8327d,#a1307e,#9c2e7f,#962c80,#912b81,#8e2a81,#8e2a81,#902a81,#942c80,#992d80,#9e2f7f,#a3307e,#a8327d,#ad347c,#b2357b,#b3367a,#b3367a,#b0357b,#ad347c,#a8327d,#a3307e,#9c2e7f,#982d80,#932b80,#902a81,#8e2a81,#8e2a81,#912b81,#982d80,#9c2e7f,#a3307e),
linear-gradient(90deg,#a3307e,#a8327d,#ab337c,#b0357b,#b5367a,#b73779,#b73779,#b3367a,#b0357b,#ab337c,#a6317d,#a1307e,#9c2e7f,#982d80,#942c80,#912b81,#912b81,#932b80,#962c80,#9b2e7f,#9e2f7f,#a3307e,#a6317d,#ab337c,#ae347b,#b0357b,#b0357b,#ae347b,#aa337d,#a6317d,#a1307e,#9e2f7f,#992d80,#962c80,#932b80,#912b81,#932b80,#942c80,#992d80,#9e2f7f,#a3307e),
linear-gradient(90deg,#a3307e,#a6317d,#aa337d,#ad347c,#b0357b,#b2357b,#b2357b,#b0357b,#ad347c,#aa337d,#a6317d,#a1307e,#9e2f7f,#9b2e7f,#982d80,#942c80,#942c80,#962c80,#992d80,#9c2e7f,#9e2f7f,#a1307e,#a5317e,#a8327d,#ab337c,#ad347c,#ad347c,#ab337c,#a8327d,#a5317e,#a1307e,#9e2f7f,#9b2e7f,#982d80,#962c80,#942c80,#962c80,#982d80,#9b2e7f,#9e2f7f,#a3307e),
linear-gradient(90deg,#a3307e,#a5317e,#a8327d,#ab337c,#ad347c,#ae347b,#ae347b,#ad347c,#ab337c,#a8327d,#a5317e,#a1307e,#a02f7f,#9c2e7f,#992d80,#982d80,#982d80,#992d80,#9b2e7f,#9c2e7f,#a02f7f,#a1307e,#a5317e,#a6317d,#a8327d,#aa337d,#aa337d,#a8327d,#a6317d,#a3307e,#a1307e,#a02f7f,#9c2e7f,#9b2e7f,#992d80,#982d80,#982d80,#992d80,#9c2e7f,#a02f7f,#a3307e),
linear-gradient(90deg,#a3307e,#a5317e,#a6317d,#a8327d,#aa337d,#ab337c,#ab337c,#aa337d,#a8327d,#a6317d,#a5317e,#a1307e,#a02f7f,#9e2f7f,#9c2e7f,#9b2e7f,#9b2e7f,#9b2e7f,#9c2e7f,#9e2f7f,#a02f7f,#a1307e,#a3307e,#a5317e,#a6317d,#a8327d,#a6317d,#a6317d,#a5317e,#a3307e,#a1307e,#a02f7f,#9e2f7f,#9c2e7f,#9b2e7f,#9b2e7f,#9b2e7f,#9c2e7f,#9e2f7f,#a02f7f,#a3307e),
linear-gradient(90deg,#a3307e,#a3307e,#a5317e,#a6317d,#a8327d,#a8327d,#a8327d,#a8327d,#a6317d,#a5317e,#a3307e,#a1307e,#a1307e,#a02f7f,#9e2f7f,#9c2e7f,#9c2e7f,#9e2f7f,#9e2f7f,#a02f7f,#a02f7f,#a1307e,#a3307e,#a3307e,#a5317e,#a5317e,#a5317e,#a5317e,#a3307e,#a3307e,#a1307e,#a02f7f,#a02f7f,#9e2f7f,#9e2f7f,#9c2e7f,#9c2e7f,#9e2f7f,#a02f7f,#a1307e,#a3307e),
linear-gradient(90deg,#a1307e,#a3307e,#a3307e,#a5317e,#a5317e,#a5317e,#a5317e,#a5317e,#a5317e,#a3307e,#a3307e,#a1307e,#a1307e,#a02f7f,#a02f7f,#a02f7f,#a02f7f,#a02f7f,#a02f7f,#a02f7f,#a1307e,#a1307e,#a1307e,#a3307e,#a3307e,#a3307e,#a3307e,#a3307e,#a3307e,#a1307e,#a1307e,#a1307e,#a02f7f,#a02f7f,#a02f7f,#a02f7f,#a02f7f,#a02f7f,#a02f7f,#a1307e,#a1307e),
linear-gradient(90deg,#a1307e,#a3307e,#a3307e,#a3307e,#a3307e,#a3307e,#a3307e,#a3307e,#a3307e,#a3307e,#a3307e,#a1307e,#a1307e,#a1307e,#a1307e,#a1307e,#a02f7f,#a02f7f,#a1307e,#a1307e,#a1307e,#a1307e,#a1307e,#a1307e,#a1307e,#a1307e,#a1307e,#a1307e,#a1307e,#a1307e,#a1307e,#a1307e,#a1307e,#a1307e,#a02f7f,#a02f7f,#a1307e,#a1307e,#a1307e,#a1307e,#a1307e),
linear-gradient(90deg,#a1307e,#a1307e,#a1307e,#a1307e,#a1307e,#a1307e,#a1307e,#a1307e,#a1307e,#a1307e,#a1307e,#a1307e,#a1307e,#a1307e,#a1307e,#a1307e,#a1307e,#a1307e,#a1307e,#a1307e,#a1307e,#a1307e,#a1307e,#a1307e,#a1307e,#a1307e,#a1307e,#a1307e,#a1307e,#a1307e,#a1307e,#a1307e,#a1307e,#a1307e,#a1307e,#a1307e,#a1307e,#a1307e,#a1307e,#a1307e,#a1307e);background-size:100% 3.48px;background-position:0 146.92px,0 145.43px,0 143.95px,0 142.46px,0 140.98px,0 139.50px,0 138.01px,0 136.53px,0 135.04px,0 133.56px,0 132.08px,0 130.59px,0 129.11px,0 127.62px,0 126.14px,0 124.66px,0 123.17px,0 121.69px,0 120.20px,0 118.72px,0 117.24px,0 115.75px,0 114.27px,0 112.78px,0 111.30px,0 109.82px,0 108.33px,0 106.85px,0 105.36px,0 103.88px,0 102.40px,0 100.91px,0 99.43px,0 97.94px,0 96.46px,0 94.98px,0 93.49px,0 92.01px,0 90.52px,0 89.04px,0 87.56px,0 86.07px,0 84.59px,0 83.10px,0 81.62px,0 80.14px,0 78.65px,0 77.17px,0 75.68px,0 74.20px,0 72.72px,0 71.23px,0 69.75px,0 68.26px,0 66.78px,0 65.30px,0 63.81px,0 62.33px,0 60.84px,0 59.36px,0 57.88px,0 56.39px,0 54.91px,0 53.42px,0 51.94px,0 50.46px,0 48.97px,0 47.49px,0 46.00px,0 44.52px,0 43.04px,0 41.55px,0 40.07px,0 38.58px,0 37.10px,0 35.62px,0 34.13px,0 32.65px,0 31.16px,0 29.68px,0 28.20px,0 26.71px,0 25.23px,0 23.74px,0 22.26px,0 20.78px,0 19.29px,0 17.81px,0 16.32px,0 14.84px,0 13.36px,0 11.87px,0 10.39px,0 8.90px,0 7.42px,0 5.94px,0 4.45px,0 2.97px,0 1.48px,0 0.00px}
#m4{left:478.97px;top:269.35px;width:297.06px;height:148.40px;background-image:linear-gradient(90deg,#491078,#491078,#491078,#491078,#491078,#491078,#491078,#491078,#491078,#491078,#491078,#491078,#491078,#491078,#491078,#491078,#491078,#491078,#491078,#491078,#491078,#491078,#491078,#491078,#491078,#491078,#491078,#491078,#491078,#491078,#491078,#491078,#491078,#491078,#491078,#491078,#491078,#491078,#491078,#491078,#491078),
linear-gradient(90deg,#471078,#471078,#471078,#471078,#491078,#491078,#491078,#491078,#4a1079,#4a1079,#4a1079,#4a1079,#4a1079,#4a1079,#4a1079,#491078,#491078,#491078,#491078,#491078,#491078,#491078,#491078,#491078,#491078,#491078,#4a1079,#4a1079,#4a1079,#4a1079,#4a1079,#4a1079,#4a1079,#491078,#491078,#491078,#491078,#471078,#471078,#471078,#471078),
linear-gradient(90deg,#451077,#451077,#471078,#471078,#471078,#491078,#4a1079,#4a1079,#4c117a,#4c117a,#4c117a,#4c117a,#4c117a,#4c117a,#4a1079,#4a1079,#491078,#491078,#491078,#471078,#471078,#471078,#491078,#491078,#491078,#4a1079,#4a1079,#4c117a,#4c117a,#4c117a,#4c117a,#4c117a,#4c117a,#4a1079,#4a1079,#491078,#471078,#471078,#471078,#451077,#451077),
linear-gradient(90deg,#440f76,#440f76,#451077,#451077,#471078,#491078,#4a1079,#4c117a,#4e117b,#4e117b,#4f127b,#4f127b,#4e117b,#4e117b,#4c117a,#4a1079,#4a1079,#491078,#471078,#471078,#471078,#471078,#471078,#491078,#4a1079,#4a1079,#4c117a,#4e117b,#4e117b,#4f127b,#4f127b,#4e117b,#4e117b,#4c117a,#4a1079,#491078,#471078,#451077,#451077,#440f76,#440f76),
linear-gradient(90deg,#420f75,#420f75,#440f76,#451077,#471078,#4a1079,#4c117a,#4f127b,#51127c,#52137c,#52137c,#52137c,#51127c,#51127c,#4e117b,#4c117a,#4a1079,#491078,#471078,#451077,#451077,#451077,#471078,#491078,#4a1079,#4c117a,#4e117b,#51127c,#51127c,#52137c,#52137c,#52137c,#51127c,#4f127b,#4c117a,#4a1079,#471078,#451077,#440f76,#420f75,#420f75),
linear-gradient(90deg,#400f74,#400f74,#420f75,#440f76,#471078,#4a1079,#4e117b,#51127c,#54137d,#56147d,#56147d,#56147d,#56147d,#52137c,#51127c,#4e117b,#4a1079,#491078,#451077,#451077,#440f76,#451077,#451077,#491078,#4a1079,#4e117b,#51127c,#52137c,#56147d,#56147d,#56147d,#56147d,#54137d,#51127c,#4e117b,#4a1079,#471078,#440f76,#420f75,#400f74,#400f74),
linear-gradient(90deg,#3d0f71,#3f0f72,#400f74,#440f76,#471078,#4c117a,#51127c,#54137d,#57157e,#5a167e,#5a167e,#5a167e,#59157e,#57157e,#54137d,#4f127b,#4c117a,#491078,#451077,#440f76,#420f75,#440f76,#451077,#491078,#4c117a,#4f127b,#54137d,#57157e,#59157e,#5a167e,#5a167e,#5a167e,#57157e,#54137d,#51127c,#4c117a,#471078,#440f76,#400f74,#3f0f72,#3d0f71),
linear-gradient(90deg,#3b0f70,#3b0f70,#3f0f72,#420f75,#471078,#4e117b,#52137c,#59157e,#5c167f,#5f187f,#601880,#5f187f,#5d177f,#5a167e,#56147d,#51127c,#4c117a,#491078,#440f76,#420f75,#400f74,#420f75,#440f76,#491078,#4c117a,#51127c,#56147d,#5a167e,#5d177f,#5f187f,#601880,#5f187f,#5c167f,#59157e,#52137c,#4e117b,#471078,#420f75,#3f0f72,#3b0f70,#3b0f70),
linear-gradient(90deg,#38106c,#390f6e,#3d0f71,#420f75,#491078,#4f127b,#56147d,#5c167f,#601880,#641a80,#651a80,#651a80,#621980,#5f187f,#59157e,#54137d,#4e117b,#471078,#440f76,#400f74,#3f0f72,#400f74,#440f76,#471078,#4e117b,#54137d,#59157e,#5f187f,#621980,#651a80,#651a80,#641a80,#601880,#5c167f,#56147d,#4f127b,#491078,#420f75,#3d0f71,#390f6e,#38106c),
linear-gradient(90deg,#36106b,#38106c,#3b0f70,#420f75,#491078,#51127c,#59157e,#601880,#651a80,#6a1c81,#6b1d81,#6b1d81,#681c81,#641a80,#5d177f,#56147d,#4f127b,#471078,#420f75,#3f0f72,#3d0f71,#3f0f72,#420f75,#471078,#4f127b,#56147d,#5d177f,#641a80,#681c81,#6b1d81,#6b1d81,#6a1c81,#651a80,#601880,#59157e,#51127c,#491078,#420f75,#3b0f70,#38106c,#36106b),
linear-gradient(90deg,#331067,#341069,#390f6e,#400f74,#491078,#52137c,#5c167f,#651a80,#6b1d81,#701f81,#721f81,#721f81,#6e1e81,#681c81,#601880,#59157e,#4f127b,#471078,#400f74,#3d0f71,#3b0f70,#3d0f71,#400f74,#471078,#4f127b,#59157e,#601880,#681c81,#6e1e81,#721f81,#721f81,#701f81,#6b1d81,#651a80,#5c167f,#52137c,#491078,#400f74,#390f6e,#341069,#331067),
linear-gradient(90deg,#311165,#331067,#38106c,#400f74,#4a1079,#56147d,#601880,#6a1c81,#721f81,#762181,#792282,#782281,#752181,#6d1d81,#651a80,#5c167f,#51127c,#471078,#400f74,#3b0f70,#390f6e,#3b0f70,#400f74,#471078,#51127c,#5c167f,#651a80,#6d1d81,#752181,#782281,#792282,#762181,#721f81,#6a1c81,#601880,#56147d,#4a1079,#400f74,#38106c,#331067,#311165),
linear-gradient(90deg,#2d1161,#2f1163,#36106b,#3f0f72,#4a1079,#57157e,#641a80,#6e1e81,#782281,#7e2482,#802582,#802582,#7b2382,#732081,#681c81,#5d177f,#52137c,#491078,#3f0f72,#390f6e,#38106c,#390f6e,#3f0f72,#491078,#52137c,#5d177f,#681c81,#732081,#7b2382,#802582,#802582,#7e2482,#782281,#6e1e81,#641a80,#57157e,#4a1079,#3f0f72,#36106b,#2f1163,#2d1161),
linear-gradient(90deg,#2a115c,#2d1161,#341069,#3f0f72,#4c117a,#5a167e,#681c81,#752181,#7e2482,#862781,#882781,#882781,#812581,#792282,#6d1d81,#601880,#54137d,#491078,#3f0f72,#38106c,#341069,#38106c,#3f0f72,#491078,#54137d,#601880,#6d1d81,#792282,#812581,#882781,#882781,#862781,#7e2482,#752181,#681c81,#5a167e,#4c117a,#3f0f72,#341069,#2d1161,#2a115c),
linear-gradient(90deg,#29115a,#2a115c,#331067,#3f0f72,#4e117b,#5d177f,#6d1d81,#7b2382,#862781,#8c2981,#902a81,#902a81,#892881,#802582,#721f81,#641a80,#56147d,#491078,#3d0f71,#36106b,#331067,#36106b,#3d0f71,#491078,#56147d,#641a80,#721f81,#802582,#892881,#902a81,#902a81,#8c2981,#862781,#7b2382,#6d1d81,#5d177f,#4e117b,#3f0f72,#331067,#2a115c,#29115a),
linear-gradient(90deg,#251255,#29115a,#311165,#3f0f72,#4f127b,#601880,#721f81,#802582,#8c2981,#962c80,#992d80,#982d80,#912b81,#862781,#782281,#681c81,#57157e,#491078,#3b0f70,#341069,#311165,#341069,#3b0f70,#491078,#57157e,#681c81,#782281,#862781,#912b81,#982d80,#992d80,#962c80,#8c2981,#802582,#721f81,#601880,#4f127b,#3f0f72,#311165,#29115a,#251255),
linear-gradient(90deg,#221150,#251255,#2f1163,#3d0f71,#4f127b,#641a80,#762181,#862781,#942c80,#9e2f7f,#a1307e,#a02f7f,#982d80,#8c2981,#7c2382,#6b1d81,#59157e,#491078,#3b0f70,#311165,#2f1163,#311165,#3b0f70,#491078,#59157e,#6b1d81,#7c2382,#8c2981,#982d80,#a02f7f,#a1307e,#9e2f7f,#942c80,#862781,#762181,#641a80,#4f127b,#3d0f71,#2f1163,#251255,#221150),
linear-gradient(90deg,#20114b,#241253,#2d1161,#3d0f71,#51127c,#671b80,#7b2382,#8e2a81,#9c2e7f,#a6317d,#ab337c,#aa337d,#a02f7f,#932b80,#812581,#6e1e81,#5c167f,#491078,#390f6e,#2f1163,#2c115f,#2f1163,#390f6e,#491078,#5c167f,#6e1e81,#812581,#932b80,#a02f7f,#aa337d,#ab337c,#a6317d,#9c2e7f,#8e2a81,#7b2382,#671b80,#51127c,#3d0f71,#2d1161,#241253,#20114b),
linear-gradient(90deg,#1e1149,#21114e,#2c115f,#3d0f71,#52137c,#6a1c81,#802582,#942c80,#a5317e,#b0357b,#b5367a,#b2357b,#aa337d,#9b2e7f,#882781,#732081,#5d177f,#4a1079,#390f6e,#2d1161,#2a115c,#2d1161,#390f6e,#4a1079,#5d177f,#732081,#882781,#9b2e7f,#aa337d,#b2357b,#b5367a,#b0357b,#a5317e,#942c80,#802582,#6a1c81,#52137c,#3d0f71,#2c115f,#21114e,#1e1149),
linear-gradient(90deg,#1c1044,#20114b,#2a115c,#3d0f71,#54137d,#6d1d81,#842681,#9b2e7f,#ad347c,#ba3878,#bd3977,#bc3978,#b2357b,#a1307e,#8c2981,#762181,#5f187f,#4a1079,#38106c,#2c115f,#29115a,#2c115f,#38106c,#4a1079,#5f187f,#762181,#8c2981,#a1307e,#b2357b,#bc3978,#bd3977,#ba3878,#ad347c,#9b2e7f,#842681,#6d1d81,#54137d,#3d0f71,#2a115c,#20114b,#1c1044),
linear-gradient(90deg,#19103f,#1d1147,#29115a,#3d0f71,#56147d,#701f81,#8b2981,#a3307e,#b5367a,#c23b75,#c73d73,#c53c74,#ba3878,#aa337d,#932b80,#7b2382,#621980,#4a1079,#38106c,#2a115c,#251255,#2a115c,#38106c,#4a1079,#621980,#7b2382,#932b80,#aa337d,#ba3878,#c53c74,#c73d73,#c23b75,#b5367a,#a3307e,#8b2981,#701f81,#56147d,#3d0f71,#29115a,#1d1147,#19103f),
linear-gradient(90deg,#180f3d,#1c1044,#271258,#3d0f71,#59157e,#752181,#902a81,#aa337d,#bf3a77,#cc3f71,#d0416f,#cd4071,#c43c75,#b0357b,#992d80,#7e2482,#641a80,#4c117a,#36106b,#29115a,#241253,#29115a,#36106b,#4c117a,#641a80,#7e2482,#992d80,#b0357b,#c43c75,#cd4071,#d0416f,#cc3f71,#bf3a77,#aa337d,#902a81,#752181,#59157e,#3d0f71,#271258,#1c1044,#180f3d),
linear-gradient(90deg,#150e38,#19103f,#251255,#3d0f71,#5a167e,#782281,#962c80,#b2357b,#c73d73,#d5446d,#d9466b,#d6456c,#cc3f71,#b83779,#9e2f7f,#832681,#671b80,#4c117a,#341069,#271258,#221150,#271258,#341069,#4c117a,#671b80,#832681,#9e2f7f,#b83779,#cc3f71,#d6456c,#d9466b,#d5446d,#c73d73,#b2357b,#962c80,#782281,#5a167e,#3d0f71,#251255,#19103f,#150e38),
linear-gradient(90deg,#130d34,#180f3d,#241253,#3d0f71,#5c167f,#7b2382,#9b2e7f,#b83779,#cf4070,#de4968,#e24d66,#df4a68,#d3436e,#c03a76,#a5317e,#862781,#681c81,#4c117a,#341069,#251255,#20114b,#251255,#341069,#4c117a,#681c81,#862781,#a5317e,#c03a76,#d3436e,#df4a68,#e24d66,#de4968,#cf4070,#b83779,#9b2e7f,#7b2382,#5c167f,#3d0f71,#241253,#180f3d,#130d34),
linear-gradient(90deg,#120d31,#150e38,#241253,#3f0f72,#5d177f,#802582,#a1307e,#c03a76,#d8456c,#e44f64,#e95462,#e75263,#dc4869,#c73d73,#ab337c,#8b2981,#6b1d81,#4e117b,#341069,#241253,#1e1149,#241253,#341069,#4e117b,#6b1d81,#8b2981,#ab337c,#c73d73,#dc4869,#e75263,#e95462,#e44f64,#d8456c,#c03a76,#a1307e,#802582,#5d177f,#3f0f72,#241253,#150e38,#120d31),
linear-gradient(90deg,#100b2d,#140e36,#221150,#3f0f72,#601880,#832681,#a8327d,#c73d73,#df4a68,#eb5760,#ef5d5e,#ed5a5f,#e34e65,#cf4070,#b2357b,#902a81,#6d1d81,#4e117b,#331067,#221150,#1d1147,#221150,#331067,#4e117b,#6d1d81,#902a81,#b2357b,#cf4070,#e34e65,#ed5a5f,#ef5d5e,#eb5760,#df4a68,#c73d73,#a8327d,#832681,#601880,#3f0f72,#221150,#140e36,#100b2d),
linear-gradient(90deg,#0e0b2b,#130d34,#21114e,#3f0f72,#621980,#882781,#ad347c,#cf4070,#e55064,#f1605d,#f4675c,#f2645c,#ea5661,#d6456c,#b83779,#942c80,#701f81,#4f127b,#331067,#21114e,#1c1044,#21114e,#331067,#4f127b,#701f81,#942c80,#b83779,#d6456c,#ea5661,#f2645c,#f4675c,#f1605d,#e55064,#cf4070,#ad347c,#882781,#621980,#3f0f72,#21114e,#130d34,#0e0b2b),
linear-gradient(90deg,#0c0926,#110c2f,#20114b,#3f0f72,#641a80,#8b2981,#b3367a,#d5446d,#eb5760,#f56b5c,#f7725c,#f66c5c,#ef5d5e,#de4968,#bd3977,#982d80,#721f81,#4f127b,#311165,#20114b,#19103f,#20114b,#311165,#4f127b,#721f81,#982d80,#bd3977,#de4968,#ef5d5e,#f66c5c,#f7725c,#f56b5c,#eb5760,#d5446d,#b3367a,#8b2981,#641a80,#3f0f72,#20114b,#110c2f,#0c0926),
linear-gradient(90deg,#0b0924,#100b2d,#20114b,#3f0f72,#651a80,#902a81,#b83779,#dc4869,#f1605d,#f8745c,#fa7d5e,#f9785d,#f3655c,#e34e65,#c43c75,#9c2e7f,#752181,#51127c,#311165,#1e1149,#180f3d,#1e1149,#311165,#51127c,#752181,#9c2e7f,#c43c75,#e34e65,#f3655c,#f9785d,#fa7d5e,#f8745c,#f1605d,#dc4869,#b83779,#902a81,#651a80,#3f0f72,#20114b,#100b2d,#0b0924),
linear-gradient(90deg,#090720,#0e0b2b,#1e1149,#400f74,#681c81,#932b80,#bf3a77,#e24d66,#f4695c,#fa7f5e,#fb8761,#fa815f,#f66e5c,#e95462,#ca3e72,#a1307e,#762181,#51127c,#2f1163,#1d1147,#160f3b,#1d1147,#2f1163,#51127c,#762181,#a1307e,#ca3e72,#e95462,#f66e5c,#fa815f,#fb8761,#fa7f5e,#f4695c,#e24d66,#bf3a77,#932b80,#681c81,#400f74,#1e1149,#0e0b2b,#090720),
linear-gradient(90deg,#08071e,#0d0a29,#1e1149,#400f74,#6a1c81,#962c80,#c43c75,#e75263,#f7725c,#fc8961,#fd9266,#fc8c63,#f9785d,#ed5a5f,#cf4070,#a5317e,#792282,#52137c,#2f1163,#1c1044,#150e38,#1c1044,#2f1163,#52137c,#792282,#a5317e,#cf4070,#ed5a5f,#f9785d,#fc8c63,#fd9266,#fc8961,#f7725c,#e75263,#c43c75,#962c80,#6a1c81,#400f74,#1e1149,#0d0a29,#08071e),
linear-gradient(90deg,#06051a,#0b0924,#1d1147,#400f74,#6b1d81,#9b2e7f,#c83e73,#ec5860,#f9795d,#fd9266,#fd9b6b,#fd9668,#fa815f,#f1605d,#d5446d,#aa337d,#7b2382,#52137c,#2f1163,#1a1042,#140e36,#1a1042,#2f1163,#52137c,#7b2382,#aa337d,#d5446d,#f1605d,#fa815f,#fd9668,#fd9b6b,#fd9266,#f9795d,#ec5860,#c83e73,#9b2e7f,#6b1d81,#400f74,#1d1147,#0b0924,#06051a),
linear-gradient(90deg,#060518,#0a0822,#1c1044,#400f74,#6e1e81,#9e2f7f,#cf4070,#f05f5e,#fb835f,#fd9b6b,#fea571,#fe9f6d,#fc8a62,#f4675c,#d9466b,#ad347c,#7e2482,#54137d,#2d1161,#19103f,#130d34,#19103f,#2d1161,#54137d,#7e2482,#ad347c,#d9466b,#f4675c,#fc8a62,#fe9f6d,#fea571,#fd9b6b,#fb835f,#f05f5e,#cf4070,#9e2f7f,#6e1e81,#400f74,#1c1044,#0a0822,#060518),
linear-gradient(90deg,#050416,#090720,#1c1044,#420f75,#701f81,#a1307e,#d3436e,#f3655c,#fc8a62,#fea571,#feae77,#fea973,#fd9266,#f7705c,#de4968,#b2357b,#802582,#54137d,#2d1161,#180f3d,#120d31,#180f3d,#2d1161,#54137d,#802582,#b2357b,#de4968,#f7705c,#fd9266,#fea973,#feae77,#fea571,#fc8a62,#f3655c,#d3436e,#a1307e,#701f81,#420f75,#1c1044,#090720,#050416),
linear-gradient(90deg,#040414,#08071e,#1a1042,#420f75,#721f81,#a6317d,#d8456c,#f56b5c,#fd9467,#feae77,#feb77e,#feb27a,#fd9b6b,#f8765c,#e34e65,#b5367a,#832681,#56147d,#2d1161,#160f3b,#110c2f,#160f3b,#2d1161,#56147d,#832681,#b5367a,#e34e65,#f8765c,#fd9b6b,#feb27a,#feb77e,#feae77,#fd9467,#f56b5c,#d8456c,#a6317d,#721f81,#420f75,#1a1042,#08071e,#040414),
linear-gradient(90deg,#030312,#07061c,#1a1042,#420f75,#732081,#aa337d,#dc4869,#f7725c,#fd9b6b,#feb67c,#fec185,#feb97f,#fea36f,#fa7d5e,#e75263,#b83779,#842681,#56147d,#2d1161,#160f3b,#100b2d,#160f3b,#2d1161,#56147d,#842681,#b83779,#e75263,#fa7d5e,#fea36f,#feb97f,#fec185,#feb67c,#fd9b6b,#f7725c,#dc4869,#aa337d,#732081,#420f75,#1a1042,#07061c,#030312),
linear-gradient(90deg,#02020d,#06051a,#19103f,#440f76,#752181,#ad347c,#e04c67,#f9785d,#fea36f,#febd82,#fec88c,#fec185,#feaa74,#fb8560,#ea5661,#bc3978,#862781,#57157e,#2c115f,#150e38,#0e0b2b,#150e38,#2c115f,#57157e,#862781,#bc3978,#ea5661,#fb8560,#feaa74,#fec185,#fec88c,#febd82,#fea36f,#f9785d,#e04c67,#ad347c,#752181,#440f76,#19103f,#06051a,#02020d),
linear-gradient(90deg,#02020b,#06051a,#19103f,#440f76,#782281,#b0357b,#e34e65,#fa7f5e,#feaa74,#fec488,#fecf92,#fec88c,#feb27a,#fc8a62,#ec5860,#bf3a77,#892881,#57157e,#2c115f,#140e36,#0d0a29,#140e36,#2c115f,#57157e,#892881,#bf3a77,#ec5860,#fc8a62,#feb27a,#fec88c,#fecf92,#fec488,#feaa74,#fa7f5e,#e34e65,#b0357b,#782281,#440f76,#19103f,#06051a,#02020b),
linear-gradient(90deg,#02020b,#060518,#19103f,#440f76,#792282,#b2357b,#e75263,#fb8560,#feb078,#fecc8f,#fed799,#fecf92,#feb77e,#fc9065,#ef5d5e,#c23b75,#8b2981,#59157e,#2c115f,#140e36,#0d0a29,#140e36,#2c115f,#59157e,#8b2981,#c23b75,#ef5d5e,#fc9065,#feb77e,#fecf92,#fed799,#fecc8f,#feb078,#fb8560,#e75263,#b2357b,#792282,#440f76,#19103f,#060518,#02020b),
linear-gradient(90deg,#020109,#050416,#180f3d,#440f76,#792282,#b5367a,#e95462,#fc8a62,#feb67c,#fed194,#fddc9e,#fed799,#febf84,#fd9668,#f1605d,#c53c74,#8c2981,#59157e,#2c115f,#130d34,#0c0926,#130d34,#2c115f,#59157e,#8c2981,#c53c74,#f1605d,#fd9668,#febf84,#fed799,#fddc9e,#fed194,#feb67c,#fc8a62,#e95462,#b5367a,#792282,#440f76,#180f3d,#050416,#020109),
linear-gradient(90deg,#010108,#040414,#180f3d,#451077,#7b2382,#b83779,#eb5760,#fc8e64,#febb81,#fed89a,#fde2a3,#fddc9e,#fec488,#fd9b6b,#f3655c,#c83e73,#8e2a81,#59157e,#2c115f,#130d34,#0b0924,#130d34,#2c115f,#59157e,#8e2a81,#c83e73,#f3655c,#fd9b6b,#fec488,#fddc9e,#fde2a3,#fed89a,#febb81,#fc8e64,#eb5760,#b83779,#7b2382,#451077,#180f3d,#040414,#010108),
linear-gradient(90deg,#010106,#040414,#180f3d,#451077,#7c2382,#ba3878,#ed5a5f,#fd9467,#fec185,#fddc9e,#fde7a9,#fde2a3,#fec88c,#fe9f6d,#f4695c,#ca3e72,#902a81,#5a167e,#2c115f,#120d31,#0b0924,#120d31,#2c115f,#5a167e,#902a81,#ca3e72,#f4695c,#fe9f6d,#fec88c,#fde2a3,#fde7a9,#fddc9e,#fec185,#fd9467,#ed5a5f,#ba3878,#7c2382,#451077,#180f3d,#040414,#010106),
linear-gradient(90deg,#010106,#030312,#180f3d,#451077,#7e2482,#bc3978,#ef5d5e,#fd9869,#fec488,#fde2a3,#fcecae,#fde5a7,#fecd90,#fea36f,#f56b5c,#cc3f71,#912b81,#5a167e,#2a115c,#120d31,#0a0822,#120d31,#2a115c,#5a167e,#912b81,#cc3f71,#f56b5c,#fea36f,#fecd90,#fde5a7,#fcecae,#fde2a3,#fec488,#fd9869,#ef5d5e,#bc3978,#7e2482,#451077,#180f3d,#030312,#010106),
linear-gradient(90deg,#010005,#030312,#160f3b,#451077,#802582,#bd3977,#f05f5e,#fd9b6b,#fec88c,#fde5a7,#fcf0b2,#fdebac,#fed194,#fea772,#f66e5c,#cf4070,#912b81,#5a167e,#2a115c,#110c2f,#0a0822,#110c2f,#2a115c,#5a167e,#912b81,#cf4070,#f66e5c,#fea772,#fed194,#fdebac,#fcf0b2,#fde5a7,#fec88c,#fd9b6b,#f05f5e,#bd3977,#802582,#451077,#160f3b,#030312,#010005),
linear-gradient(90deg,#000004,#03030f,#160f3b,#451077,#802582,#bf3a77,#f2625d,#fe9d6c,#fecc8f,#fde9aa,#fcf4b6,#fceeb0,#fed597,#feaa74,#f7705c,#d0416f,#932b80,#5a167e,#2a115c,#110c2f,#090720,#110c2f,#2a115c,#5a167e,#932b80,#d0416f,#f7705c,#feaa74,#fed597,#fceeb0,#fcf4b6,#fde9aa,#fecc8f,#fe9d6c,#f2625d,#bf3a77,#802582,#451077,#160f3b,#03030f,#000004),
linear-gradient(90deg,#000004,#03030f,#160f3b,#471078,#812581,#c03a76,#f2645c,#fea16e,#fecf92,#fcecae,#fcf7b9,#fcf0b2,#fed799,#feac76,#f8745c,#d2426f,#942c80,#5c167f,#2a115c,#110c2f,#090720,#110c2f,#2a115c,#5c167f,#942c80,#d2426f,#f8745c,#feac76,#fed799,#fcf0b2,#fcf7b9,#fcecae,#fecf92,#fea16e,#f2645c,#c03a76,#812581,#471078,#160f3b,#03030f,#000004),
linear-gradient(90deg,#000004,#03030f,#160f3b,#471078,#812581,#c23b75,#f3655c,#fea36f,#fed194,#fceeb0,#fcf9bb,#fcf2b4,#fdda9c,#feae77,#f8745c,#d2426f,#942c80,#5c167f,#2a115c,#100b2d,#090720,#100b2d,#2a115c,#5c167f,#942c80,#d2426f,#f8745c,#feae77,#fdda9c,#fcf2b4,#fcf9bb,#fceeb0,#fed194,#fea36f,#f3655c,#c23b75,#812581,#471078,#160f3b,#03030f,#000004),
linear-gradient(90deg,#000004,#03030f,#160f3b,#471078,#812581,#c23b75,#f3655c,#fea36f,#fed395,#fcf0b2,#fcfbbd,#fcf4b6,#fddc9e,#feb078,#f8765c,#d3436e,#942c80,#5c167f,#2a115c,#100b2d,#08071e,#100b2d,#2a115c,#5c167f,#942c80,#d3436e,#f8765c,#feb078,#fddc9e,#fcf4b6,#fcfbbd,#fcf0b2,#fed395,#fea36f,#f3655c,#c23b75,#812581,#471078,#160f3b,#03030f,#000004),
linear-gradient(90deg,#000004,#02020d,#160f3b,#471078,#812581,#c43c75,#f4675c,#fea571,#fed597,#fcf2b4,#fcfdbf,#fcf6b8,#fddc9e,#feb27a,#f9785d,#d3436e,#962c80,#5c167f,#2a115c,#100b2d,#08071e,#100b2d,#2a115c,#5c167f,#962c80,#d3436e,#f9785d,#feb27a,#fddc9e,#fcf6b8,#fcfdbf,#fcf2b4,#fed597,#fea571,#f4675c,#c43c75,#812581,#471078,#160f3b,#02020d,#000004),
linear-gradient(90deg,#000004,#02020d,#160f3b,#471078,#832681,#c43c75,#f4675c,#fea571,#fed597,#fcf2b4,#fcfdbf,#fcf7b9,#fddc9e,#feb27a,#f9785d,#d3436e,#962c80,#5c167f,#2a115c,#100b2d,#08071e,#100b2d,#2a115c,#5c167f,#962c80,#d3436e,#f9785d,#feb27a,#fddc9e,#fcf7b9,#fcfdbf,#fcf2b4,#fed597,#fea571,#f4675c,#c43c75,#832681,#471078,#160f3b,#02020d,#000004),
linear-gradient(90deg,#000004,#02020d,#160f3b,#471078,#832681,#c43c75,#f4675c,#fea571,#fed597,#fcf2b4,#fcfdbf,#fcf7b9,#fddc9e,#feb27a,#f9785d,#d3436e,#962c80,#5c167f,#2a115c,#100b2d,#08071e,#100b2d,#2a115c,#5c167f,#962c80,#d3436e,#f9785d,#feb27a,#fddc9e,#fcf7b9,#fcfdbf,#fcf2b4,#fed597,#fea571,#f4675c,#c43c75,#832681,#471078,#160f3b,#02020d,#000004),
linear-gradient(90deg,#000004,#02020d,#160f3b,#471078,#812581,#c43c75,#f4675c,#fea571,#fed597,#fcf2b4,#fcfdbf,#fcf6b8,#fddc9e,#feb27a,#f9785d,#d3436e,#962c80,#5c167f,#2a115c,#100b2d,#08071e,#100b2d,#2a115c,#5c167f,#962c80,#d3436e,#f9785d,#feb27a,#fddc9e,#fcf6b8,#fcfdbf,#fcf2b4,#fed597,#fea571,#f4675c,#c43c75,#812581,#471078,#160f3b,#02020d,#000004),
linear-gradient(90deg,#000004,#03030f,#160f3b,#471078,#812581,#c23b75,#f3655c,#fea36f,#fed395,#fcf0b2,#fcfbbd,#fcf4b6,#fddc9e,#feb078,#f8765c,#d3436e,#942c80,#5c167f,#2a115c,#100b2d,#08071e,#100b2d,#2a115c,#5c167f,#942c80,#d3436e,#f8765c,#feb078,#fddc9e,#fcf4b6,#fcfbbd,#fcf0b2,#fed395,#fea36f,#f3655c,#c23b75,#812581,#471078,#160f3b,#03030f,#000004),
linear-gradient(90deg,#000004,#03030f,#160f3b,#471078,#812581,#c23b75,#f3655c,#fea36f,#fed194,#fceeb0,#fcf9bb,#fcf2b4,#fdda9c,#feae77,#f8745c,#d2426f,#942c80,#5c167f,#2a115c,#100b2d,#090720,#100b2d,#2a115c,#5c167f,#942c80,#d2426f,#f8745c,#feae77,#fdda9c,#fcf2b4,#fcf9bb,#fceeb0,#fed194,#fea36f,#f3655c,#c23b75,#812581,#471078,#160f3b,#03030f,#000004),
linear-gradient(90deg,#000004,#03030f,#160f3b,#471078,#812581,#c03a76,#f2645c,#fea16e,#fecf92,#fcecae,#fcf7b9,#fcf0b2,#fed799,#feac76,#f8745c,#d2426f,#942c80,#5c167f,#2a115c,#110c2f,#090720,#110c2f,#2a115c,#5c167f,#942c80,#d2426f,#f8745c,#feac76,#fed799,#fcf0b2,#fcf7b9,#fcecae,#fecf92,#fea16e,#f2645c,#c03a76,#812581,#471078,#160f3b,#03030f,#000004),
linear-gradient(90deg,#000004,#03030f,#160f3b,#451077,#802582,#bf3a77,#f2625d,#fe9d6c,#fecc8f,#fde9aa,#fcf4b6,#fceeb0,#fed597,#feaa74,#f7705c,#d0416f,#932b80,#5a167e,#2a115c,#110c2f,#090720,#110c2f,#2a115c,#5a167e,#932b80,#d0416f,#f7705c,#feaa74,#fed597,#fceeb0,#fcf4b6,#fde9aa,#fecc8f,#fe9d6c,#f2625d,#bf3a77,#802582,#451077,#160f3b,#03030f,#000004),
linear-gradient(90deg,#010005,#030312,#160f3b,#451077,#802582,#bd3977,#f05f5e,#fd9b6b,#fec88c,#fde5a7,#fcf0b2,#fdebac,#fed194,#fea772,#f66e5c,#cf4070,#912b81,#5a167e,#2a115c,#110c2f,#0a0822,#110c2f,#2a115c,#5a167e,#912b81,#cf4070,#f66e5c,#fea772,#fed194,#fdebac,#fcf0b2,#fde5a7,#fec88c,#fd9b6b,#f05f5e,#bd3977,#802582,#451077,#160f3b,#030312,#010005),
linear-gradient(90deg,#010106,#030312,#180f3d,#451077,#7e2482,#bc3978,#ef5d5e,#fd9869,#fec488,#fde2a3,#fcecae,#fde5a7,#fecd90,#fea36f,#f56b5c,#cc3f71,#912b81,#5a167e,#2a115c,#120d31,#0a0822,#120d31,#2a115c,#5a167e,#912b81,#cc3f71,#f56b5c,#fea36f,#fecd90,#fde5a7,#fcecae,#fde2a3,#fec488,#fd9869,#ef5d5e,#bc3978,#7e2482,#451077,#180f3d,#030312,#010106),
linear-gradient(90deg,#010106,#040414,#180f3d,#451077,#7c2382,#ba3878,#ed5a5f,#fd9467,#fec185,#fddc9e,#fde7a9,#fde2a3,#fec88c,#fe9f6d,#f4695c,#ca3e72,#902a81,#5a167e,#2c115f,#120d31,#0b0924,#120d31,#2c115f,#5a167e,#902a81,#ca3e72,#f4695c,#fe9f6d,#fec88c,#fde2a3,#fde7a9,#fddc9e,#fec185,#fd9467,#ed5a5f,#ba3878,#7c2382,#451077,#180f3d,#040414,#010106),
linear-gradient(90deg,#010108,#040414,#180f3d,#451077,#7b2382,#b83779,#eb5760,#fc8e64,#febb81,#fed89a,#fde2a3,#fddc9e,#fec488,#fd9b6b,#f3655c,#c83e73,#8e2a81,#59157e,#2c115f,#130d34,#0b0924,#130d34,#2c115f,#59157e,#8e2a81,#c83e73,#f3655c,#fd9b6b,#fec488,#fddc9e,#fde2a3,#fed89a,#febb81,#fc8e64,#eb5760,#b83779,#7b2382,#451077,#180f3d,#040414,#010108),
linear-gradient(90deg,#020109,#050416,#180f3d,#440f76,#792282,#b5367a,#e95462,#fc8a62,#feb67c,#fed194,#fddc9e,#fed799,#febf84,#fd9668,#f1605d,#c53c74,#8c2981,#59157e,#2c115f,#130d34,#0c0926,#130d34,#2c115f,#59157e,#8c2981,#c53c74,#f1605d,#fd9668,#febf84,#fed799,#fddc9e,#fed194,#feb67c,#fc8a62,#e95462,#b5367a,#792282,#440f76,#180f3d,#050416,#020109),
linear-gradient(90deg,#02020b,#060518,#19103f,#440f76,#792282,#b2357b,#e75263,#fb8560,#feb078,#fecc8f,#fed799,#fecf92,#feb77e,#fc9065,#ef5d5e,#c23b75,#8b2981,#59157e,#2c115f,#140e36,#0d0a29,#140e36,#2c115f,#59157e,#8b2981,#c23b75,#ef5d5e,#fc9065,#feb77e,#fecf92,#fed799,#fecc8f,#feb078,#fb8560,#e75263,#b2357b,#792282,#440f76,#19103f,#060518,#02020b),
linear-gradient(90deg,#02020b,#06051a,#19103f,#440f76,#782281,#b0357b,#e34e65,#fa7f5e,#feaa74,#fec488,#fecf92,#fec88c,#feb27a,#fc8a62,#ec5860,#bf3a77,#892881,#57157e,#2c115f,#140e36,#0d0a29,#140e36,#2c115f,#57157e,#892881,#bf3a77,#ec5860,#fc8a62,#feb27a,#fec88c,#fecf92,#fec488,#feaa74,#fa7f5e,#e34e65,#b0357b,#782281,#440f76,#19103f,#06051a,#02020b),
linear-gradient(90deg,#02020d,#06051a,#19103f,#440f76,#752181,#ad347c,#e04c67,#f9785d,#fea36f,#febd82,#fec88c,#fec185,#feaa74,#fb8560,#ea5661,#bc3978,#862781,#57157e,#2c115f,#150e38,#0e0b2b,#150e38,#2c115f,#57157e,#862781,#bc3978,#ea5661,#fb8560,#feaa74,#fec185,#fec88c,#febd82,#fea36f,#f9785d,#e04c67,#ad347c,#752181,#440f76,#19103f,#06051a,#02020d),
linear-gradient(90deg,#030312,#07061c,#1a1042,#420f75,#732081,#aa337d,#dc4869,#f7725c,#fd9b6b,#feb67c,#fec185,#feb97f,#fea36f,#fa7d5e,#e75263,#b83779,#842681,#56147d,#2d1161,#160f3b,#100b2d,#160f3b,#2d1161,#56147d,#842681,#b83779,#e75263,#fa7d5e,#fea36f,#feb97f,#fec185,#feb67c,#fd9b6b,#f7725c,#dc4869,#aa337d,#732081,#420f75,#1a1042,#07061c,#030312),
linear-gradient(90deg,#040414,#08071e,#1a1042,#420f75,#721f81,#a6317d,#d8456c,#f56b5c,#fd9467,#feae77,#feb77e,#feb27a,#fd9b6b,#f8765c,#e34e65,#b5367a,#832681,#56147d,#2d1161,#160f3b,#110c2f,#160f3b,#2d1161,#56147d,#832681,#b5367a,#e34e65,#f8765c,#fd9b6b,#feb27a,#feb77e,#feae77,#fd9467,#f56b5c,#d8456c,#a6317d,#721f81,#420f75,#1a1042,#08071e,#040414),
linear-gradient(90deg,#050416,#090720,#1c1044,#420f75,#701f81,#a1307e,#d3436e,#f3655c,#fc8a62,#fea571,#feae77,#fea973,#fd9266,#f7705c,#de4968,#b2357b,#802582,#54137d,#2d1161,#180f3d,#120d31,#180f3d,#2d1161,#54137d,#802582,#b2357b,#de4968,#f7705c,#fd9266,#fea973,#feae77,#fea571,#fc8a62,#f3655c,#d3436e,#a1307e,#701f81,#420f75,#1c1044,#090720,#050416),
linear-gradient(90deg,#060518,#0a0822,#1c1044,#400f74,#6e1e81,#9e2f7f,#cf4070,#f05f5e,#fb835f,#fd9b6b,#fea571,#fe9f6d,#fc8a62,#f4675c,#d9466b,#ad347c,#7e2482,#54137d,#2d1161,#19103f,#130d34,#19103f,#2d1161,#54137d,#7e2482,#ad347c,#d9466b,#f4675c,#fc8a62,#fe9f6d,#fea571,#fd9b6b,#fb835f,#f05f5e,#cf4070,#9e2f7f,#6e1e81,#400f74,#1c1044,#0a0822,#060518),
linear-gradient(90deg,#06051a,#0b0924,#1d1147,#400f74,#6b1d81,#9b2e7f,#c83e73,#ec5860,#f9795d,#fd9266,#fd9b6b,#fd9668,#fa815f,#f1605d,#d5446d,#aa337d,#7b2382,#52137c,#2f1163,#1a1042,#140e36,#1a1042,#2f1163,#52137c,#7b2382,#aa337d,#d5446d,#f1605d,#fa815f,#fd9668,#fd9b6b,#fd9266,#f9795d,#ec5860,#c83e73,#9b2e7f,#6b1d81,#400f74,#1d1147,#0b0924,#06051a),
linear-gradient(90deg,#08071e,#0d0a29,#1e1149,#400f74,#6a1c81,#962c80,#c43c75,#e75263,#f7725c,#fc8961,#fd9266,#fc8c63,#f9785d,#ed5a5f,#cf4070,#a5317e,#792282,#52137c,#2f1163,#1c1044,#150e38,#1c1044,#2f1163,#52137c,#792282,#a5317e,#cf4070,#ed5a5f,#f9785d,#fc8c63,#fd9266,#fc8961,#f7725c,#e75263,#c43c75,#962c80,#6a1c81,#400f74,#1e1149,#0d0a29,#08071e),
linear-gradient(90deg,#090720,#0e0b2b,#1e1149,#400f74,#681c81,#932b80,#bf3a77,#e24d66,#f4695c,#fa7f5e,#fb8761,#fa815f,#f66e5c,#e95462,#ca3e72,#a1307e,#762181,#51127c,#2f1163,#1d1147,#160f3b,#1d1147,#2f1163,#51127c,#762181,#a1307e,#ca3e72,#e95462,#f66e5c,#fa815f,#fb8761,#fa7f5e,#f4695c,#e24d66,#bf3a77,#932b80,#681c81,#400f74,#1e1149,#0e0b2b,#090720),
linear-gradient(90deg,#0b0924,#100b2d,#20114b,#3f0f72,#651a80,#902a81,#b83779,#dc4869,#f1605d,#f8745c,#fa7d5e,#f9785d,#f3655c,#e34e65,#c43c75,#9c2e7f,#752181,#51127c,#311165,#1e1149,#180f3d,#1e1149,#311165,#51127c,#752181,#9c2e7f,#c43c75,#e34e65,#f3655c,#f9785d,#fa7d5e,#f8745c,#f1605d,#dc4869,#b83779,#902a81,#651a80,#3f0f72,#20114b,#100b2d,#0b0924),
linear-gradient(90deg,#0c0926,#110c2f,#20114b,#3f0f72,#641a80,#8b2981,#b3367a,#d5446d,#eb5760,#f56b5c,#f7725c,#f66c5c,#ef5d5e,#de4968,#bd3977,#982d80,#721f81,#4f127b,#311165,#20114b,#19103f,#20114b,#311165,#4f127b,#721f81,#982d80,#bd3977,#de4968,#ef5d5e,#f66c5c,#f7725c,#f56b5c,#eb5760,#d5446d,#b3367a,#8b2981,#641a80,#3f0f72,#20114b,#110c2f,#0c0926),
linear-gradient(90deg,#0e0b2b,#130d34,#21114e,#3f0f72,#621980,#882781,#ad347c,#cf4070,#e55064,#f1605d,#f4675c,#f2645c,#ea5661,#d6456c,#b83779,#942c80,#701f81,#4f127b,#331067,#21114e,#1c1044,#21114e,#331067,#4f127b,#701f81,#942c80,#b83779,#d6456c,#ea5661,#f2645c,#f4675c,#f1605d,#e55064,#cf4070,#ad347c,#882781,#621980,#3f0f72,#21114e,#130d34,#0e0b2b),
linear-gradient(90deg,#100b2d,#140e36,#221150,#3f0f72,#601880,#832681,#a8327d,#c73d73,#df4a68,#eb5760,#ef5d5e,#ed5a5f,#e34e65,#cf4070,#b2357b,#902a81,#6d1d81,#4e117b,#331067,#221150,#1d1147,#221150,#331067,#4e117b,#6d1d81,#902a81,#b2357b,#cf4070,#e34e65,#ed5a5f,#ef5d5e,#eb5760,#df4a68,#c73d73,#a8327d,#832681,#601880,#3f0f72,#221150,#140e36,#100b2d),
linear-gradient(90deg,#120d31,#150e38,#241253,#3f0f72,#5d177f,#802582,#a1307e,#c03a76,#d8456c,#e44f64,#e95462,#e75263,#dc4869,#c73d73,#ab337c,#8b2981,#6b1d81,#4e117b,#341069,#241253,#1e1149,#241253,#341069,#4e117b,#6b1d81,#8b2981,#ab337c,#c73d73,#dc4869,#e75263,#e95462,#e44f64,#d8456c,#c03a76,#a1307e,#802582,#5d177f,#3f0f72,#241253,#150e38,#120d31),
linear-gradient(90deg,#130d34,#180f3d,#241253,#3d0f71,#5c167f,#7b2382,#9b2e7f,#b83779,#cf4070,#de4968,#e24d66,#df4a68,#d3436e,#c03a76,#a5317e,#862781,#681c81,#4c117a,#341069,#251255,#20114b,#251255,#341069,#4c117a,#681c81,#862781,#a5317e,#c03a76,#d3436e,#df4a68,#e24d66,#de4968,#cf4070,#b83779,#9b2e7f,#7b2382,#5c167f,#3d0f71,#241253,#180f3d,#130d34),
linear-gradient(90deg,#150e38,#19103f,#251255,#3d0f71,#5a167e,#782281,#962c80,#b2357b,#c73d73,#d5446d,#d9466b,#d6456c,#cc3f71,#b83779,#9e2f7f,#832681,#671b80,#4c117a,#341069,#271258,#221150,#271258,#341069,#4c117a,#671b80,#832681,#9e2f7f,#b83779,#cc3f71,#d6456c,#d9466b,#d5446d,#c73d73,#b2357b,#962c80,#782281,#5a167e,#3d0f71,#251255,#19103f,#150e38),
linear-gradient(90deg,#180f3d,#1c1044,#271258,#3d0f71,#59157e,#752181,#902a81,#aa337d,#bf3a77,#cc3f71,#d0416f,#cd4071,#c43c75,#b0357b,#992d80,#7e2482,#641a80,#4c117a,#36106b,#29115a,#241253,#29115a,#36106b,#4c117a,#641a80,#7e2482,#992d80,#b0357b,#c43c75,#cd4071,#d0416f,#cc3f71,#bf3a77,#aa337d,#902a81,#752181,#59157e,#3d0f71,#271258,#1c1044,#180f3d),
linear-gradient(90deg,#19103f,#1d1147,#29115a,#3d0f71,#56147d,#701f81,#8b2981,#a3307e,#b5367a,#c23b75,#c73d73,#c53c74,#ba3878,#aa337d,#932b80,#7b2382,#621980,#4a1079,#38106c,#2a115c,#251255,#2a115c,#38106c,#4a1079,#621980,#7b2382,#932b80,#aa337d,#ba3878,#c53c74,#c73d73,#c23b75,#b5367a,#a3307e,#8b2981,#701f81,#56147d,#3d0f71,#29115a,#1d1147,#19103f),
linear-gradient(90deg,#1c1044,#20114b,#2a115c,#3d0f71,#54137d,#6d1d81,#842681,#9b2e7f,#ad347c,#ba3878,#bd3977,#bc3978,#b2357b,#a1307e,#8c2981,#762181,#5f187f,#4a1079,#38106c,#2c115f,#29115a,#2c115f,#38106c,#4a1079,#5f187f,#762181,#8c2981,#a1307e,#b2357b,#bc3978,#bd3977,#ba3878,#ad347c,#9b2e7f,#842681,#6d1d81,#54137d,#3d0f71,#2a115c,#20114b,#1c1044),
linear-gradient(90deg,#1e1149,#21114e,#2c115f,#3d0f71,#52137c,#6a1c81,#802582,#942c80,#a5317e,#b0357b,#b5367a,#b2357b,#aa337d,#9b2e7f,#882781,#732081,#5d177f,#4a1079,#390f6e,#2d1161,#2a115c,#2d1161,#390f6e,#4a1079,#5d177f,#732081,#882781,#9b2e7f,#aa337d,#b2357b,#b5367a,#b0357b,#a5317e,#942c80,#802582,#6a1c81,#52137c,#3d0f71,#2c115f,#21114e,#1e1149),
linear-gradient(90deg,#20114b,#241253,#2d1161,#3d0f71,#51127c,#671b80,#7b2382,#8e2a81,#9c2e7f,#a6317d,#ab337c,#aa337d,#a02f7f,#932b80,#812581,#6e1e81,#5c167f,#491078,#390f6e,#2f1163,#2c115f,#2f1163,#390f6e,#491078,#5c167f,#6e1e81,#812581,#932b80,#a02f7f,#aa337d,#ab337c,#a6317d,#9c2e7f,#8e2a81,#7b2382,#671b80,#51127c,#3d0f71,#2d1161,#241253,#20114b),
linear-gradient(90deg,#221150,#251255,#2f1163,#3d0f71,#4f127b,#641a80,#762181,#862781,#942c80,#9e2f7f,#a1307e,#a02f7f,#982d80,#8c2981,#7c2382,#6b1d81,#59157e,#491078,#3b0f70,#311165,#2f1163,#311165,#3b0f70,#491078,#59157e,#6b1d81,#7c2382,#8c2981,#982d80,#a02f7f,#a1307e,#9e2f7f,#942c80,#862781,#762181,#641a80,#4f127b,#3d0f71,#2f1163,#251255,#221150),
linear-gradient(90deg,#251255,#29115a,#311165,#3f0f72,#4f127b,#601880,#721f81,#802582,#8c2981,#962c80,#992d80,#982d80,#912b81,#862781,#782281,#681c81,#57157e,#491078,#3b0f70,#341069,#311165,#341069,#3b0f70,#491078,#57157e,#681c81,#782281,#862781,#912b81,#982d80,#992d80,#962c80,#8c2981,#802582,#721f81,#601880,#4f127b,#3f0f72,#311165,#29115a,#251255),
linear-gradient(90deg,#29115a,#2a115c,#331067,#3f0f72,#4e117b,#5d177f,#6d1d81,#7b2382,#862781,#8c2981,#902a81,#902a81,#892881,#802582,#721f81,#641a80,#56147d,#491078,#3d0f71,#36106b,#331067,#36106b,#3d0f71,#491078,#56147d,#641a80,#721f81,#802582,#892881,#902a81,#902a81,#8c2981,#862781,#7b2382,#6d1d81,#5d177f,#4e117b,#3f0f72,#331067,#2a115c,#29115a),
linear-gradient(90deg,#2a115c,#2d1161,#341069,#3f0f72,#4c117a,#5a167e,#681c81,#752181,#7e2482,#862781,#882781,#882781,#812581,#792282,#6d1d81,#601880,#54137d,#491078,#3f0f72,#38106c,#341069,#38106c,#3f0f72,#491078,#54137d,#601880,#6d1d81,#792282,#812581,#882781,#882781,#862781,#7e2482,#752181,#681c81,#5a167e,#4c117a,#3f0f72,#341069,#2d1161,#2a115c),
linear-gradient(90deg,#2d1161,#2f1163,#36106b,#3f0f72,#4a1079,#57157e,#641a80,#6e1e81,#782281,#7e2482,#802582,#802582,#7b2382,#732081,#681c81,#5d177f,#52137c,#491078,#3f0f72,#390f6e,#38106c,#390f6e,#3f0f72,#491078,#52137c,#5d177f,#681c81,#732081,#7b2382,#802582,#802582,#7e2482,#782281,#6e1e81,#641a80,#57157e,#4a1079,#3f0f72,#36106b,#2f1163,#2d1161),
linear-gradient(90deg,#311165,#331067,#38106c,#400f74,#4a1079,#56147d,#601880,#6a1c81,#721f81,#762181,#792282,#782281,#752181,#6d1d81,#651a80,#5c167f,#51127c,#471078,#400f74,#3b0f70,#390f6e,#3b0f70,#400f74,#471078,#51127c,#5c167f,#651a80,#6d1d81,#752181,#782281,#792282,#762181,#721f81,#6a1c81,#601880,#56147d,#4a1079,#400f74,#38106c,#331067,#311165),
linear-gradient(90deg,#331067,#341069,#390f6e,#400f74,#491078,#52137c,#5c167f,#651a80,#6b1d81,#701f81,#721f81,#721f81,#6e1e81,#681c81,#601880,#59157e,#4f127b,#471078,#400f74,#3d0f71,#3b0f70,#3d0f71,#400f74,#471078,#4f127b,#59157e,#601880,#681c81,#6e1e81,#721f81,#721f81,#701f81,#6b1d81,#651a80,#5c167f,#52137c,#491078,#400f74,#390f6e,#341069,#331067),
linear-gradient(90deg,#36106b,#38106c,#3b0f70,#420f75,#491078,#51127c,#59157e,#601880,#651a80,#6a1c81,#6b1d81,#6b1d81,#681c81,#641a80,#5d177f,#56147d,#4f127b,#471078,#420f75,#3f0f72,#3d0f71,#3f0f72,#420f75,#471078,#4f127b,#56147d,#5d177f,#641a80,#681c81,#6b1d81,#6b1d81,#6a1c81,#651a80,#601880,#59157e,#51127c,#491078,#420f75,#3b0f70,#38106c,#36106b),
linear-gradient(90deg,#38106c,#390f6e,#3d0f71,#420f75,#491078,#4f127b,#56147d,#5c167f,#601880,#641a80,#651a80,#651a80,#621980,#5f187f,#59157e,#54137d,#4e117b,#471078,#440f76,#400f74,#3f0f72,#400f74,#440f76,#471078,#4e117b,#54137d,#59157e,#5f187f,#621980,#651a80,#651a80,#641a80,#601880,#5c167f,#56147d,#4f127b,#491078,#420f75,#3d0f71,#390f6e,#38106c),
linear-gradient(90deg,#3b0f70,#3b0f70,#3f0f72,#420f75,#471078,#4e117b,#52137c,#59157e,#5c167f,#5f187f,#601880,#5f187f,#5d177f,#5a167e,#56147d,#51127c,#4c117a,#491078,#440f76,#420f75,#400f74,#420f75,#440f76,#491078,#4c117a,#51127c,#56147d,#5a167e,#5d177f,#5f187f,#601880,#5f187f,#5c167f,#59157e,#52137c,#4e117b,#471078,#420f75,#3f0f72,#3b0f70,#3b0f70),
linear-gradient(90deg,#3d0f71,#3f0f72,#400f74,#440f76,#471078,#4c117a,#51127c,#54137d,#57157e,#5a167e,#5a167e,#5a167e,#59157e,#57157e,#54137d,#4f127b,#4c117a,#491078,#451077,#440f76,#420f75,#440f76,#451077,#491078,#4c117a,#4f127b,#54137d,#57157e,#59157e,#5a167e,#5a167e,#5a167e,#57157e,#54137d,#51127c,#4c117a,#471078,#440f76,#400f74,#3f0f72,#3d0f71),
linear-gradient(90deg,#400f74,#400f74,#420f75,#440f76,#471078,#4a1079,#4e117b,#51127c,#54137d,#56147d,#56147d,#56147d,#56147d,#52137c,#51127c,#4e117b,#4a1079,#491078,#451077,#451077,#440f76,#451077,#451077,#491078,#4a1079,#4e117b,#51127c,#52137c,#56147d,#56147d,#56147d,#56147d,#54137d,#51127c,#4e117b,#4a1079,#471078,#440f76,#420f75,#400f74,#400f74),
linear-gradient(90deg,#420f75,#420f75,#440f76,#451077,#471078,#4a1079,#4c117a,#4f127b,#51127c,#52137c,#52137c,#52137c,#51127c,#51127c,#4e117b,#4c117a,#4a1079,#491078,#471078,#451077,#451077,#451077,#471078,#491078,#4a1079,#4c117a,#4e117b,#51127c,#51127c,#52137c,#52137c,#52137c,#51127c,#4f127b,#4c117a,#4a1079,#471078,#451077,#440f76,#420f75,#420f75),
linear-gradient(90deg,#440f76,#440f76,#451077,#451077,#471078,#491078,#4a1079,#4c117a,#4e117b,#4e117b,#4f127b,#4f127b,#4e117b,#4e117b,#4c117a,#4a1079,#4a1079,#491078,#471078,#471078,#471078,#471078,#471078,#491078,#4a1079,#4a1079,#4c117a,#4e117b,#4e117b,#4f127b,#4f127b,#4e117b,#4e117b,#4c117a,#4a1079,#491078,#471078,#451077,#451077,#440f76,#440f76),
linear-gradient(90deg,#451077,#451077,#471078,#471078,#471078,#491078,#4a1079,#4a1079,#4c117a,#4c117a,#4c117a,#4c117a,#4c117a,#4c117a,#4a1079,#4a1079,#491078,#491078,#491078,#471078,#471078,#471078,#491078,#491078,#491078,#4a1079,#4a1079,#4c117a,#4c117a,#4c117a,#4c117a,#4c117a,#4c117a,#4a1079,#4a1079,#491078,#471078,#471078,#471078,#451077,#451077),
linear-gradient(90deg,#471078,#471078,#471078,#471078,#491078,#491078,#491078,#491078,#4a1079,#4a1079,#4a1079,#4a1079,#4a1079,#4a1079,#4a1079,#491078,#491078,#491078,#491078,#491078,#491078,#491078,#491078,#491078,#491078,#491078,#4a1079,#4a1079,#4a1079,#4a1079,#4a1079,#4a1079,#4a1079,#491078,#491078,#491078,#491078,#471078,#471078,#471078,#471078),
linear-gradient(90deg,#491078,#491078,#491078,#491078,#491078,#491078,#491078,#491078,#491078,#491078,#491078,#491078,#491078,#491078,#491078,#491078,#491078,#491078,#491078,#491078,#491078,#491078,#491078,#491078,#491078,#491078,#491078,#491078,#491078,#491078,#491078,#491078,#491078,#491078,#491078,#491078,#491078,#491078,#491078,#491078,#491078);background-size:100% 3.48px;background-position:0 146.92px,0 145.43px,0 143.95px,0 142.46px,0 140.98px,0 139.50px,0 138.01px,0 136.53px,0 135.04px,0 133.56px,0 132.08px,0 130.59px,0 129.11px,0 127.62px,0 126.14px,0 124.66px,0 123.17px,0 121.69px,0 120.20px,0 118.72px,0 117.24px,0 115.75px,0 114.27px,0 112.78px,0 111.30px,0 109.82px,0 108.33px,0 106.85px,0 105.36px,0 103.88px,0 102.40px,0 100.91px,0 99.43px,0 97.94px,0 96.46px,0 94.98px,0 93.49px,0 92.01px,0 90.52px,0 89.04px,0 87.56px,0 86.07px,0 84.59px,0 83.10px,0 81.62px,0 80.14px,0 78.65px,0 77.17px,0 75.68px,0 74.20px,0 72.72px,0 71.23px,0 69.75px,0 68.26px,0 66.78px,0 65.30px,0 63.81px,0 62.33px,0 60.84px,0 59.36px,0 57.88px,0 56.39px,0 54.91px,0 53.42px,0 51.94px,0 50.46px,0 48.97px,0 47.49px,0 46.00px,0 44.52px,0 43.04px,0 41.55px,0 40.07px,0 38.58px,0 37.10px,0 35.62px,0 34.13px,0 32.65px,0 31.16px,0 29.68px,0 28.20px,0 26.71px,0 25.23px,0 23.74px,0 22.26px,0 20.78px,0 19.29px,0 17.81px,0 16.32px,0 14.84px,0 13.36px,0 11.87px,0 10.39px,0 8.90px,0 7.42px,0 5.94px,0 4.45px,0 2.97px,0 1.48px,0 0.00px}
#m5{left:122.75px;top:498.55px;width:297.05px;height:148.40px;background-image:linear-gradient(90deg,#000004,#000004,#000004,#000004,#000004,#000004,#000004,#000004,#000004,#000004,#000004,#000004,#000004,#000004,#000004,#000004,#000004,#000004,#000004,#000004,#000004,#000004,#000004,#000004,#000004,#000004,#000004,#000004,#000004,#000004,#000004,#000004,#000004,#000004,#000004,#000004,#000004,#000004,#000004,#000004,#000004),
linear-gradient(90deg,#010005,#010005,#010005,#010005,#010005,#010005,#010005,#010005,#010005,#000004,#000004,#000004,#000004,#000004,#000004,#000004,#000004,#000004,#000004,#000004,#000004,#000004,#000004,#000004,#000004,#000004,#000004,#000004,#000004,#000004,#000004,#000004,#010005,#010005,#010005,#010005,#010005,#010005,#010005,#010005,#010005),
linear-gradient(90deg,#010108,#010108,#010108,#010108,#010106,#010106,#010106,#010106,#010106,#010005,#010005,#010005,#010005,#010005,#000004,#000004,#000004,#000004,#000004,#000004,#000004,#000004,#000004,#000004,#000004,#000004,#000004,#010005,#010005,#010005,#010005,#010005,#010106,#010106,#010106,#010106,#010106,#010108,#010108,#010108,#010108),
linear-gradient(90deg,#02020b,#02020b,#02020b,#02020b,#020109,#020109,#020109,#020109,#010108,#010108,#010108,#010106,#010106,#010106,#010106,#010005,#010005,#010005,#010005,#010005,#010005,#010005,#010005,#010005,#010005,#010005,#010106,#010106,#010106,#010106,#010108,#010108,#010108,#020109,#020109,#020109,#020109,#02020b,#02020b,#02020b,#02020b),
linear-gradient(90deg,#030312,#03030f,#03030f,#03030f,#03030f,#02020d,#02020d,#02020d,#02020b,#02020b,#020109,#020109,#020109,#010108,#010108,#010108,#010108,#010108,#010108,#010106,#010106,#010106,#010108,#010108,#010108,#010108,#010108,#010108,#020109,#020109,#020109,#02020b,#02020b,#02020d,#02020d,#02020d,#03030f,#03030f,#03030f,#03030f,#030312),
linear-gradient(90deg,#060518,#060518,#050416,#050416,#050416,#040414,#040414,#030312,#030312,#03030f,#03030f,#02020d,#02020d,#02020b,#02020b,#02020b,#02020b,#02020b,#020109,#020109,#020109,#020109,#020109,#02020b,#02020b,#02020b,#02020b,#02020b,#02020d,#02020d,#03030f,#03030f,#030312,#030312,#040414,#040414,#050416,#050416,#050416,#060518,#060518),
linear-gradient(90deg,#08071e,#08071e,#08071e,#08071e,#07061c,#06051a,#06051a,#060518,#060518,#050416,#040414,#040414,#030312,#030312,#030312,#03030f,#03030f,#03030f,#03030f,#03030f,#03030f,#03030f,#03030f,#03030f,#03030f,#03030f,#030312,#030312,#030312,#040414,#040414,#050416,#060518,#060518,#06051a,#06051a,#07061c,#08071e,#08071e,#08071e,#08071e),
linear-gradient(90deg,#0c0926,#0c0926,#0c0926,#0b0924,#0b0924,#0a0822,#090720,#090720,#08071e,#07061c,#06051a,#06051a,#060518,#060518,#060518,#050416,#050416,#050416,#050416,#050416,#050416,#050416,#050416,#050416,#050416,#050416,#060518,#060518,#060518,#06051a,#06051a,#07061c,#08071e,#090720,#090720,#0a0822,#0b0924,#0b0924,#0c0926,#0c0926,#0c0926),
linear-gradient(90deg,#120d31,#120d31,#110c2f,#110c2f,#100b2d,#0e0b2b,#0d0a29,#0c0926,#0b0924,#0b0924,#0a0822,#090720,#090720,#08071e,#08071e,#08071e,#08071e,#07061c,#07061c,#07061c,#07061c,#07061c,#07061c,#07061c,#08071e,#08071e,#08071e,#08071e,#090720,#090720,#0a0822,#0b0924,#0b0924,#0c0926,#0d0a29,#0e0b2b,#100b2d,#110c2f,#110c2f,#120d31,#120d31),
linear-gradient(90deg,#180f3d,#160f3b,#160f3b,#150e38,#140e36,#130d34,#120d31,#110c2f,#100b2d,#0e0b2b,#0e0b2b,#0d0a29,#0c0926,#0c0926,#0c0926,#0b0924,#0b0924,#0b0924,#0b0924,#0b0924,#0b0924,#0b0924,#0b0924,#0b0924,#0b0924,#0b0924,#0c0926,#0c0926,#0c0926,#0d0a29,#0e0b2b,#0e0b2b,#100b2d,#110c2f,#120d31,#130d34,#140e36,#150e38,#160f3b,#160f3b,#180f3d),
linear-gradient(90deg,#1e1149,#1e1149,#1d1147,#1c1044,#1a1042,#19103f,#180f3d,#160f3b,#150e38,#140e36,#130d34,#120d31,#110c2f,#110c2f,#110c2f,#110c2f,#100b2d,#100b2d,#100b2d,#100b2d,#100b2d,#100b2d,#100b2d,#100b2d,#100b2d,#110c2f,#110c2f,#110c2f,#110c2f,#120d31,#130d34,#140e36,#150e38,#160f3b,#180f3d,#19103f,#1a1042,#1c1044,#1d1147,#1e1149,#1e1149),
linear-gradient(90deg,#271258,#251255,#251255,#241253,#221150,#20114b,#1e1149,#1c1044,#1a1042,#19103f,#180f3d,#160f3b,#160f3b,#150e38,#150e38,#150e38,#150e38,#150e38,#150e38,#150e38,#150e38,#150e38,#150e38,#150e38,#150e38,#150e38,#150e38,#150e38,#160f3b,#160f3b,#180f3d,#19103f,#1a1042,#1c1044,#1e1149,#20114b,#221150,#241253,#251255,#251255,#271258),
linear-gradient(90deg,#311165,#2f1163,#2f1163,#2c115f,#2a115c,#271258,#251255,#221150,#21114e,#20114b,#1e1149,#1d1147,#1c1044,#1c1044,#1c1044,#1c1044,#1c1044,#1c1044,#1c1044,#1c1044,#1c1044,#1c1044,#1c1044,#1c1044,#1c1044,#1c1044,#1c1044,#1c1044,#1c1044,#1d1147,#1e1149,#20114b,#21114e,#221150,#251255,#271258,#2a115c,#2c115f,#2f1163,#2f1163,#311165),
linear-gradient(90deg,#3b0f70,#3b0f70,#390f6e,#36106b,#341069,#311165,#2d1161,#2a115c,#29115a,#251255,#241253,#241253,#221150,#221150,#221150,#221150,#221150,#221150,#221150,#221150,#221150,#221150,#221150,#221150,#221150,#221150,#221150,#221150,#221150,#241253,#241253,#251255,#29115a,#2a115c,#2d1161,#311165,#341069,#36106b,#390f6e,#3b0f70,#3b0f70),
linear-gradient(90deg,#471078,#451077,#440f76,#420f75,#3f0f72,#3b0f70,#38106c,#341069,#311165,#2d1161,#2c115f,#2c115f,#2a115c,#2a115c,#2a115c,#2a115c,#2c115f,#2c115f,#2c115f,#2c115f,#2c115f,#2c115f,#2c115f,#2c115f,#2c115f,#2a115c,#2a115c,#2a115c,#2a115c,#2c115f,#2c115f,#2d1161,#311165,#341069,#38106c,#3b0f70,#3f0f72,#420f75,#440f76,#451077,#471078),
linear-gradient(90deg,#51127c,#51127c,#4f127b,#4c117a,#491078,#451077,#400f74,#3d0f71,#390f6e,#38106c,#36106b,#341069,#341069,#341069,#341069,#341069,#341069,#36106b,#36106b,#36106b,#36106b,#36106b,#36106b,#36106b,#341069,#341069,#341069,#341069,#341069,#341069,#36106b,#38106c,#390f6e,#3d0f71,#400f74,#451077,#491078,#4c117a,#4f127b,#51127c,#51127c),
linear-gradient(90deg,#5d177f,#5c167f,#5a167e,#57157e,#52137c,#4f127b,#4a1079,#471078,#440f76,#400f74,#3f0f72,#3d0f71,#3d0f71,#3d0f71,#3d0f71,#3f0f72,#3f0f72,#400f74,#400f74,#400f74,#400f74,#400f74,#400f74,#400f74,#3f0f72,#3f0f72,#3d0f71,#3d0f71,#3d0f71,#3d0f71,#3f0f72,#400f74,#440f76,#471078,#4a1079,#4f127b,#52137c,#57157e,#5a167e,#5c167f,#5d177f),
linear-gradient(90deg,#681c81,#671b80,#651a80,#621980,#5d177f,#59157e,#54137d,#4f127b,#4c117a,#491078,#471078,#471078,#451077,#471078,#471078,#491078,#491078,#4a1079,#4c117a,#4c117a,#4c117a,#4c117a,#4c117a,#4a1079,#491078,#491078,#471078,#471078,#451077,#471078,#471078,#491078,#4c117a,#4f127b,#54137d,#59157e,#5d177f,#621980,#651a80,#671b80,#681c81),
linear-gradient(90deg,#732081,#732081,#701f81,#6d1d81,#681c81,#621980,#5d177f,#59157e,#54137d,#52137c,#51127c,#4f127b,#4f127b,#4f127b,#51127c,#52137c,#54137d,#56147d,#56147d,#57157e,#57157e,#57157e,#56147d,#56147d,#54137d,#52137c,#51127c,#4f127b,#4f127b,#4f127b,#51127c,#52137c,#54137d,#59157e,#5d177f,#621980,#681c81,#6d1d81,#701f81,#732081,#732081),
linear-gradient(90deg,#802582,#7e2482,#7c2382,#782281,#721f81,#6d1d81,#671b80,#621980,#5d177f,#5a167e,#59157e,#57157e,#59157e,#59157e,#5a167e,#5c167f,#5d177f,#5f187f,#601880,#601880,#621980,#601880,#601880,#5f187f,#5d177f,#5c167f,#5a167e,#59157e,#59157e,#57157e,#59157e,#5a167e,#5d177f,#621980,#671b80,#6d1d81,#721f81,#782281,#7c2382,#7e2482,#802582),
linear-gradient(90deg,#8c2981,#8b2981,#882781,#832681,#7c2382,#762181,#701f81,#6a1c81,#651a80,#621980,#601880,#601880,#601880,#621980,#641a80,#671b80,#681c81,#6a1c81,#6b1d81,#6b1d81,#6d1d81,#6b1d81,#6b1d81,#6a1c81,#681c81,#671b80,#641a80,#621980,#601880,#601880,#601880,#621980,#651a80,#6a1c81,#701f81,#762181,#7c2382,#832681,#882781,#8b2981,#8c2981),
linear-gradient(90deg,#992d80,#982d80,#942c80,#8e2a81,#882781,#802582,#792282,#732081,#6e1e81,#6b1d81,#6a1c81,#681c81,#6a1c81,#6b1d81,#6d1d81,#701f81,#721f81,#752181,#762181,#782281,#782281,#782281,#762181,#752181,#721f81,#701f81,#6d1d81,#6b1d81,#6a1c81,#681c81,#6a1c81,#6b1d81,#6e1e81,#732081,#792282,#802582,#882781,#8e2a81,#942c80,#982d80,#992d80),
linear-gradient(90deg,#a6317d,#a5317e,#a02f7f,#992d80,#932b80,#8b2981,#832681,#7b2382,#762181,#732081,#721f81,#721f81,#721f81,#752181,#762181,#792282,#7c2382,#802582,#812581,#832681,#832681,#832681,#812581,#802582,#7c2382,#792282,#762181,#752181,#721f81,#721f81,#721f81,#732081,#762181,#7b2382,#832681,#8b2981,#932b80,#992d80,#a02f7f,#a5317e,#a6317d),
linear-gradient(90deg,#b3367a,#b2357b,#ad347c,#a6317d,#9c2e7f,#942c80,#8b2981,#842681,#7e2482,#7b2382,#792282,#792282,#7b2382,#7c2382,#802582,#842681,#882781,#8b2981,#8c2981,#8e2a81,#8e2a81,#8e2a81,#8c2981,#8b2981,#882781,#842681,#802582,#7c2382,#7b2382,#792282,#792282,#7b2382,#7e2482,#842681,#8b2981,#942c80,#9c2e7f,#a6317d,#ad347c,#b2357b,#b3367a),
linear-gradient(90deg,#bf3a77,#bd3977,#b83779,#b2357b,#a8327d,#9e2f7f,#942c80,#8c2981,#862781,#832681,#812581,#812581,#832681,#862781,#892881,#8e2a81,#912b81,#942c80,#982d80,#992d80,#9b2e7f,#992d80,#982d80,#942c80,#912b81,#8e2a81,#892881,#862781,#832681,#812581,#812581,#832681,#862781,#8c2981,#942c80,#9e2f7f,#a8327d,#b2357b,#b83779,#bd3977,#bf3a77),
linear-gradient(90deg,#cc3f71,#ca3e72,#c53c74,#bd3977,#b3367a,#a8327d,#9e2f7f,#942c80,#8e2a81,#8b2981,#892881,#892881,#8b2981,#902a81,#932b80,#982d80,#9c2e7f,#a02f7f,#a3307e,#a5317e,#a6317d,#a5317e,#a3307e,#a02f7f,#9c2e7f,#982d80,#932b80,#902a81,#8b2981,#892881,#892881,#8b2981,#8e2a81,#942c80,#9e2f7f,#a8327d,#b3367a,#bd3977,#c53c74,#ca3e72,#cc3f71),
linear-gradient(90deg,#d8456c,#d6456c,#d0416f,#c83e73,#bd3977,#b2357b,#a6317d,#9c2e7f,#962c80,#912b81,#902a81,#912b81,#932b80,#982d80,#9c2e7f,#a1307e,#a6317d,#ab337c,#ae347b,#b2357b,#b2357b,#b2357b,#ae347b,#ab337c,#a6317d,#a1307e,#9c2e7f,#982d80,#932b80,#912b81,#902a81,#912b81,#962c80,#9c2e7f,#a6317d,#b2357b,#bd3977,#c83e73,#d0416f,#d6456c,#d8456c),
linear-gradient(90deg,#e34e65,#e04c67,#dc4869,#d3436e,#c73d73,#bc3978,#ae347b,#a5317e,#9e2f7f,#992d80,#982d80,#982d80,#9b2e7f,#a02f7f,#a6317d,#ab337c,#b2357b,#b73779,#ba3878,#bd3977,#bd3977,#bd3977,#ba3878,#b73779,#b2357b,#ab337c,#a6317d,#a02f7f,#9b2e7f,#982d80,#982d80,#992d80,#9e2f7f,#a5317e,#ae347b,#bc3978,#c73d73,#d3436e,#dc4869,#e04c67,#e34e65),
linear-gradient(90deg,#eb5760,#ea5661,#e55064,#dc4869,#d0416f,#c43c75,#b73779,#ad347c,#a5317e,#a02f7f,#9e2f7f,#a02f7f,#a3307e,#a8327d,#ae347b,#b5367a,#bc3978,#c03a76,#c53c74,#c83e73,#c83e73,#c83e73,#c53c74,#c03a76,#bc3978,#b5367a,#ae347b,#a8327d,#a3307e,#a02f7f,#9e2f7f,#a02f7f,#a5317e,#ad347c,#b73779,#c43c75,#d0416f,#dc4869,#e55064,#ea5661,#eb5760),
linear-gradient(90deg,#f2645c,#f1605d,#ed5a5f,#e55064,#d9466b,#cd4071,#bf3a77,#b3367a,#ab337c,#a6317d,#a5317e,#a6317d,#ab337c,#b0357b,#b73779,#bf3a77,#c53c74,#cc3f71,#d0416f,#d3436e,#d3436e,#d3436e,#d0416f,#cc3f71,#c53c74,#bf3a77,#b73779,#b0357b,#ab337c,#a6317d,#a5317e,#a6317d,#ab337c,#b3367a,#bf3a77,#cd4071,#d9466b,#e55064,#ed5a5f,#f1605d,#f2645c),
linear-gradient(90deg,#f7705c,#f66c5c,#f2645c,#ec5860,#e24d66,#d5446d,#c73d73,#ba3878,#b2357b,#ad347c,#ab337c,#ad347c,#b2357b,#b83779,#bf3a77,#c73d73,#cf4070,#d5446d,#d9466b,#dc4869,#de4968,#dc4869,#d9466b,#d5446d,#cf4070,#c73d73,#bf3a77,#b83779,#b2357b,#ad347c,#ab337c,#ad347c,#b2357b,#ba3878,#c73d73,#d5446d,#e24d66,#ec5860,#f2645c,#f66c5c,#f7705c),
linear-gradient(90deg,#fa7d5e,#f9795d,#f7705c,#f2625d,#e95462,#dc4869,#cd4071,#c03a76,#b83779,#b2357b,#b2357b,#b3367a,#b83779,#bf3a77,#c73d73,#d0416f,#d8456c,#de4968,#e34e65,#e55064,#e75263,#e55064,#e34e65,#de4968,#d8456c,#d0416f,#c73d73,#bf3a77,#b83779,#b3367a,#b2357b,#b2357b,#b83779,#c03a76,#cd4071,#dc4869,#e95462,#f2625d,#f7705c,#f9795d,#fa7d5e),
linear-gradient(90deg,#fc8a62,#fb8761,#f97b5d,#f66c5c,#ee5b5e,#e24d66,#d3436e,#c73d73,#bd3977,#b83779,#b73779,#b83779,#bf3a77,#c73d73,#cf4070,#d8456c,#df4a68,#e55064,#ea5661,#ec5860,#ed5a5f,#ec5860,#ea5661,#e55064,#df4a68,#d8456c,#cf4070,#c73d73,#bf3a77,#b83779,#b73779,#b83779,#bd3977,#c73d73,#d3436e,#e24d66,#ee5b5e,#f66c5c,#f97b5d,#fb8761,#fc8a62),
linear-gradient(90deg,#fd9668,#fd9266,#fb8761,#f9785d,#f2645c,#e85362,#d9466b,#cd4071,#c23b75,#bd3977,#bc3978,#bf3a77,#c43c75,#cd4071,#d5446d,#df4a68,#e75263,#ec5860,#f05f5e,#f2625d,#f2645c,#f2625d,#f05f5e,#ec5860,#e75263,#df4a68,#d5446d,#cd4071,#c43c75,#bf3a77,#bc3978,#bd3977,#c23b75,#cd4071,#d9466b,#e85362,#f2645c,#f9785d,#fb8761,#fd9266,#fd9668),
linear-gradient(90deg,#fea36f,#fe9d6c,#fd9266,#fa815f,#f66c5c,#ec5860,#df4a68,#d2426f,#c73d73,#c23b75,#c03a76,#c43c75,#ca3e72,#d2426f,#dc4869,#e44f64,#ec5860,#f1605d,#f4695c,#f66c5c,#f66e5c,#f66c5c,#f4695c,#f1605d,#ec5860,#e44f64,#dc4869,#d2426f,#ca3e72,#c43c75,#c03a76,#c23b75,#c73d73,#d2426f,#df4a68,#ec5860,#f66c5c,#fa815f,#fd9266,#fe9d6c,#fea36f),
linear-gradient(90deg,#feac76,#fea973,#fe9d6c,#fc8a62,#f8745c,#f05f5e,#e34e65,#d6456c,#cc3f71,#c53c74,#c53c74,#c83e73,#cf4070,#d8456c,#e24d66,#ea5661,#f05f5e,#f4695c,#f7725c,#f9785d,#f9795d,#f9785d,#f7725c,#f4695c,#f05f5e,#ea5661,#e24d66,#d8456c,#cf4070,#c83e73,#c53c74,#c53c74,#cc3f71,#d6456c,#e34e65,#f05f5e,#f8745c,#fc8a62,#fe9d6c,#fea973,#feac76),
linear-gradient(90deg,#feb77e,#feb47b,#fea772,#fd9467,#f97b5d,#f3655c,#e85362,#db476a,#d0416f,#ca3e72,#c83e73,#cc3f71,#d3436e,#dc4869,#e55064,#ee5b5e,#f4675c,#f7725c,#f97b5d,#fa815f,#fb835f,#fa815f,#f97b5d,#f7725c,#f4675c,#ee5b5e,#e55064,#dc4869,#d3436e,#cc3f71,#c83e73,#ca3e72,#d0416f,#db476a,#e85362,#f3655c,#f97b5d,#fd9467,#fea772,#feb47b,#feb77e),
linear-gradient(90deg,#fec185,#febd82,#feb078,#fd9b6b,#fb835f,#f56b5c,#ea5661,#de4968,#d3436e,#cd4071,#cc3f71,#d0416f,#d8456c,#e04c67,#ea5661,#f2625d,#f66e5c,#f97b5d,#fb8560,#fc8a62,#fc8c63,#fc8a62,#fb8560,#f97b5d,#f66e5c,#f2625d,#ea5661,#e04c67,#d8456c,#d0416f,#cc3f71,#cd4071,#d3436e,#de4968,#ea5661,#f56b5c,#fb835f,#fd9b6b,#feb078,#febd82,#fec185),
linear-gradient(90deg,#feca8d,#fec68a,#feb77e,#fea36f,#fc8a62,#f7705c,#ed5a5f,#e04c67,#d6456c,#d0416f,#cf4070,#d3436e,#db476a,#e44f64,#ed5a5f,#f4675c,#f8765c,#fb835f,#fc8e64,#fd9467,#fd9668,#fd9467,#fc8e64,#fb835f,#f8765c,#f4675c,#ed5a5f,#e44f64,#db476a,#d3436e,#cf4070,#d0416f,#d6456c,#e04c67,#ed5a5f,#f7705c,#fc8a62,#fea36f,#feb77e,#fec68a,#feca8d),
linear-gradient(90deg,#fed395,#fecd90,#fec185,#feaa74,#fc9065,#f8765c,#f05f5e,#e44f64,#d9466b,#d3436e,#d2426f,#d6456c,#de4968,#e75263,#f05f5e,#f66c5c,#fa7d5e,#fc8a62,#fd9668,#fd9b6b,#fe9f6d,#fd9b6b,#fd9668,#fc8a62,#fa7d5e,#f66c5c,#f05f5e,#e75263,#de4968,#d6456c,#d2426f,#d3436e,#d9466b,#e44f64,#f05f5e,#f8765c,#fc9065,#feaa74,#fec185,#fecd90,#fed395),
linear-gradient(90deg,#fdda9c,#fed597,#fec88c,#feb27a,#fd9668,#f97b5d,#f2625d,#e55064,#db476a,#d5446d,#d5446d,#d9466b,#e04c67,#ea5661,#f2625d,#f7725c,#fb835f,#fd9266,#fe9d6c,#fea36f,#fea772,#fea36f,#fe9d6c,#fd9266,#fb835f,#f7725c,#f2625d,#ea5661,#e04c67,#d9466b,#d5446d,#d5446d,#db476a,#e55064,#f2625d,#f97b5d,#fd9668,#feb27a,#fec88c,#fed597,#fdda9c),
linear-gradient(90deg,#fde2a3,#fddc9e,#fecd90,#feb77e,#fd9b6b,#fa7f5e,#f3655c,#e85362,#de4968,#d8456c,#d6456c,#db476a,#e34e65,#ec5860,#f4675c,#f9785d,#fc8961,#fd9869,#fea36f,#feaa74,#feac76,#feaa74,#fea36f,#fd9869,#fc8961,#f9785d,#f4675c,#ec5860,#e34e65,#db476a,#d6456c,#d8456c,#de4968,#e85362,#f3655c,#fa7f5e,#fd9b6b,#feb77e,#fecd90,#fddc9e,#fde2a3),
linear-gradient(90deg,#fde7a9,#fde3a5,#fed395,#febd82,#fea16e,#fb835f,#f4675c,#e95462,#df4a68,#d9466b,#d8456c,#de4968,#e44f64,#ee5b5e,#f56b5c,#f97b5d,#fc8e64,#fe9d6c,#fea973,#feb078,#feb47b,#feb078,#fea973,#fe9d6c,#fc8e64,#f97b5d,#f56b5c,#ee5b5e,#e44f64,#de4968,#d8456c,#d9466b,#df4a68,#e95462,#f4675c,#fb835f,#fea16e,#febd82,#fed395,#fde3a5,#fde7a9),
linear-gradient(90deg,#fcecae,#fde7a9,#fed89a,#fec185,#fea571,#fb8761,#f56b5c,#eb5760,#e04c67,#db476a,#d9466b,#df4a68,#e75263,#ef5d5e,#f66e5c,#fa7f5e,#fd9266,#fea16e,#feae77,#feb67c,#feb97f,#feb67c,#feae77,#fea16e,#fd9266,#fa7f5e,#f66e5c,#ef5d5e,#e75263,#df4a68,#d9466b,#db476a,#e04c67,#eb5760,#f56b5c,#fb8761,#fea571,#fec185,#fed89a,#fde7a9,#fcecae),
linear-gradient(90deg,#fcf2b4,#fcecae,#fddc9e,#fec488,#fea973,#fc8961,#f66c5c,#ec5860,#e24d66,#dc4869,#db476a,#e04c67,#e85362,#f05f5e,#f7705c,#fb835f,#fd9668,#fea772,#feb27a,#febb81,#febd82,#febb81,#feb27a,#fea772,#fd9668,#fb835f,#f7705c,#f05f5e,#e85362,#e04c67,#db476a,#dc4869,#e24d66,#ec5860,#f66c5c,#fc8961,#fea973,#fec488,#fddc9e,#fcecae,#fcf2b4),
linear-gradient(90deg,#fcf6b8,#fcf0b2,#fde0a1,#fec88c,#feaa74,#fc8c63,#f66e5c,#ed5a5f,#e34e65,#dc4869,#dc4869,#e24d66,#e95462,#f2625d,#f7725c,#fb8761,#fd9a6a,#fea973,#feb67c,#febf84,#fec185,#febf84,#feb67c,#fea973,#fd9a6a,#fb8761,#f7725c,#f2625d,#e95462,#e24d66,#dc4869,#dc4869,#e34e65,#ed5a5f,#f66e5c,#fc8c63,#feaa74,#fec88c,#fde0a1,#fcf0b2,#fcf6b8),
linear-gradient(90deg,#fcf9bb,#fcf4b6,#fde3a5,#fecc8f,#feac76,#fc8e64,#f7705c,#ed5a5f,#e44f64,#de4968,#de4968,#e24d66,#ea5661,#f2625d,#f8745c,#fc8961,#fd9b6b,#feac76,#feb97f,#fec185,#fec488,#fec185,#feb97f,#feac76,#fd9b6b,#fc8961,#f8745c,#f2625d,#ea5661,#e24d66,#de4968,#de4968,#e44f64,#ed5a5f,#f7705c,#fc8e64,#feac76,#fecc8f,#fde3a5,#fcf4b6,#fcf9bb),
linear-gradient(90deg,#fcfbbd,#fcf6b8,#fde5a7,#fecd90,#feae77,#fc8e64,#f7725c,#ee5b5e,#e44f64,#de4968,#de4968,#e34e65,#ea5661,#f2645c,#f8765c,#fc8a62,#fe9d6c,#feae77,#febb81,#fec488,#fec68a,#fec488,#febb81,#feae77,#fe9d6c,#fc8a62,#f8765c,#f2645c,#ea5661,#e34e65,#de4968,#de4968,#e44f64,#ee5b5e,#f7725c,#fc8e64,#feae77,#fecd90,#fde5a7,#fcf6b8,#fcfbbd),
linear-gradient(90deg,#fcfdbf,#fcf7b9,#fde7a9,#fecd90,#feb078,#fc9065,#f7725c,#ee5b5e,#e44f64,#df4a68,#de4968,#e34e65,#eb5760,#f3655c,#f9785d,#fc8a62,#fe9f6d,#feb078,#febd82,#fec488,#fec88c,#fec488,#febd82,#feb078,#fe9f6d,#fc8a62,#f9785d,#f3655c,#eb5760,#e34e65,#de4968,#df4a68,#e44f64,#ee5b5e,#f7725c,#fc9065,#feb078,#fecd90,#fde7a9,#fcf7b9,#fcfdbf),
linear-gradient(90deg,#fcfdbf,#fcf7b9,#fde7a9,#fecf92,#feb078,#fc9065,#f7725c,#ee5b5e,#e44f64,#df4a68,#df4a68,#e34e65,#eb5760,#f3655c,#f9785d,#fc8c63,#fe9f6d,#feb078,#febd82,#fec68a,#fec88c,#fec68a,#febd82,#feb078,#fe9f6d,#fc8c63,#f9785d,#f3655c,#eb5760,#e34e65,#df4a68,#df4a68,#e44f64,#ee5b5e,#f7725c,#fc9065,#feb078,#fecf92,#fde7a9,#fcf7b9,#fcfdbf),
linear-gradient(90deg,#fcfdbf,#fcf7b9,#fde7a9,#fecf92,#feb078,#fc9065,#f7725c,#ee5b5e,#e44f64,#df4a68,#df4a68,#e34e65,#eb5760,#f3655c,#f9785d,#fc8c63,#fe9f6d,#feb078,#febd82,#fec68a,#fec88c,#fec68a,#febd82,#feb078,#fe9f6d,#fc8c63,#f9785d,#f3655c,#eb5760,#e34e65,#df4a68,#df4a68,#e44f64,#ee5b5e,#f7725c,#fc9065,#feb078,#fecf92,#fde7a9,#fcf7b9,#fcfdbf),
linear-gradient(90deg,#fcfdbf,#fcf7b9,#fde7a9,#fecd90,#feb078,#fc9065,#f7725c,#ee5b5e,#e44f64,#df4a68,#de4968,#e34e65,#eb5760,#f3655c,#f9785d,#fc8a62,#fe9f6d,#feb078,#febd82,#fec488,#fec88c,#fec488,#febd82,#feb078,#fe9f6d,#fc8a62,#f9785d,#f3655c,#eb5760,#e34e65,#de4968,#df4a68,#e44f64,#ee5b5e,#f7725c,#fc9065,#feb078,#fecd90,#fde7a9,#fcf7b9,#fcfdbf),
linear-gradient(90deg,#fcfbbd,#fcf6b8,#fde5a7,#fecd90,#feae77,#fc8e64,#f7725c,#ee5b5e,#e44f64,#de4968,#de4968,#e34e65,#ea5661,#f2645c,#f8765c,#fc8a62,#fe9d6c,#feae77,#febb81,#fec488,#fec68a,#fec488,#febb81,#feae77,#fe9d6c,#fc8a62,#f8765c,#f2645c,#ea5661,#e34e65,#de4968,#de4968,#e44f64,#ee5b5e,#f7725c,#fc8e64,#feae77,#fecd90,#fde5a7,#fcf6b8,#fcfbbd),
linear-gradient(90deg,#fcf9bb,#fcf4b6,#fde3a5,#fecc8f,#feac76,#fc8e64,#f7705c,#ed5a5f,#e44f64,#de4968,#de4968,#e24d66,#ea5661,#f2625d,#f8745c,#fc8961,#fd9b6b,#feac76,#feb97f,#fec185,#fec488,#fec185,#feb97f,#feac76,#fd9b6b,#fc8961,#f8745c,#f2625d,#ea5661,#e24d66,#de4968,#de4968,#e44f64,#ed5a5f,#f7705c,#fc8e64,#feac76,#fecc8f,#fde3a5,#fcf4b6,#fcf9bb),
linear-gradient(90deg,#fcf6b8,#fcf0b2,#fde0a1,#fec88c,#feaa74,#fc8c63,#f66e5c,#ed5a5f,#e34e65,#dc4869,#dc4869,#e24d66,#e95462,#f2625d,#f7725c,#fb8761,#fd9a6a,#fea973,#feb67c,#febf84,#fec185,#febf84,#feb67c,#fea973,#fd9a6a,#fb8761,#f7725c,#f2625d,#e95462,#e24d66,#dc4869,#dc4869,#e34e65,#ed5a5f,#f66e5c,#fc8c63,#feaa74,#fec88c,#fde0a1,#fcf0b2,#fcf6b8),
linear-gradient(90deg,#fcf2b4,#fcecae,#fddc9e,#fec488,#fea973,#fc8961,#f66c5c,#ec5860,#e24d66,#dc4869,#db476a,#e04c67,#e85362,#f05f5e,#f7705c,#fb835f,#fd9668,#fea772,#feb27a,#febb81,#febd82,#febb81,#feb27a,#fea772,#fd9668,#fb835f,#f7705c,#f05f5e,#e85362,#e04c67,#db476a,#dc4869,#e24d66,#ec5860,#f66c5c,#fc8961,#fea973,#fec488,#fddc9e,#fcecae,#fcf2b4),
linear-gradient(90deg,#fcecae,#fde7a9,#fed89a,#fec185,#fea571,#fb8761,#f56b5c,#eb5760,#e04c67,#db476a,#d9466b,#df4a68,#e75263,#ef5d5e,#f66e5c,#fa7f5e,#fd9266,#fea16e,#feae77,#feb67c,#feb97f,#feb67c,#feae77,#fea16e,#fd9266,#fa7f5e,#f66e5c,#ef5d5e,#e75263,#df4a68,#d9466b,#db476a,#e04c67,#eb5760,#f56b5c,#fb8761,#fea571,#fec185,#fed89a,#fde7a9,#fcecae),
linear-gradient(90deg,#fde7a9,#fde3a5,#fed395,#febd82,#fea16e,#fb835f,#f4675c,#e95462,#df4a68,#d9466b,#d8456c,#de4968,#e44f64,#ee5b5e,#f56b5c,#f97b5d,#fc8e64,#fe9d6c,#fea973,#feb078,#feb47b,#feb078,#fea973,#fe9d6c,#fc8e64,#f97b5d,#f56b5c,#ee5b5e,#e44f64,#de4968,#d8456c,#d9466b,#df4a68,#e95462,#f4675c,#fb835f,#fea16e,#febd82,#fed395,#fde3a5,#fde7a9),
linear-gradient(90deg,#fde2a3,#fddc9e,#fecd90,#feb77e,#fd9b6b,#fa7f5e,#f3655c,#e85362,#de4968,#d8456c,#d6456c,#db476a,#e34e65,#ec5860,#f4675c,#f9785d,#fc8961,#fd9869,#fea36f,#feaa74,#feac76,#feaa74,#fea36f,#fd9869,#fc8961,#f9785d,#f4675c,#ec5860,#e34e65,#db476a,#d6456c,#d8456c,#de4968,#e85362,#f3655c,#fa7f5e,#fd9b6b,#feb77e,#fecd90,#fddc9e,#fde2a3),
linear-gradient(90deg,#fdda9c,#fed597,#fec88c,#feb27a,#fd9668,#f97b5d,#f2625d,#e55064,#db476a,#d5446d,#d5446d,#d9466b,#e04c67,#ea5661,#f2625d,#f7725c,#fb835f,#fd9266,#fe9d6c,#fea36f,#fea772,#fea36f,#fe9d6c,#fd9266,#fb835f,#f7725c,#f2625d,#ea5661,#e04c67,#d9466b,#d5446d,#d5446d,#db476a,#e55064,#f2625d,#f97b5d,#fd9668,#feb27a,#fec88c,#fed597,#fdda9c),
linear-gradient(90deg,#fed395,#fecd90,#fec185,#feaa74,#fc9065,#f8765c,#f05f5e,#e44f64,#d9466b,#d3436e,#d2426f,#d6456c,#de4968,#e75263,#f05f5e,#f66c5c,#fa7d5e,#fc8a62,#fd9668,#fd9b6b,#fe9f6d,#fd9b6b,#fd9668,#fc8a62,#fa7d5e,#f66c5c,#f05f5e,#e75263,#de4968,#d6456c,#d2426f,#d3436e,#d9466b,#e44f64,#f05f5e,#f8765c,#fc9065,#feaa74,#fec185,#fecd90,#fed395),
linear-gradient(90deg,#feca8d,#fec68a,#feb77e,#fea36f,#fc8a62,#f7705c,#ed5a5f,#e04c67,#d6456c,#d0416f,#cf4070,#d3436e,#db476a,#e44f64,#ed5a5f,#f4675c,#f8765c,#fb835f,#fc8e64,#fd9467,#fd9668,#fd9467,#fc8e64,#fb835f,#f8765c,#f4675c,#ed5a5f,#e44f64,#db476a,#d3436e,#cf4070,#d0416f,#d6456c,#e04c67,#ed5a5f,#f7705c,#fc8a62,#fea36f,#feb77e,#fec68a,#feca8d),
linear-gradient(90deg,#fec185,#febd82,#feb078,#fd9b6b,#fb835f,#f56b5c,#ea5661,#de4968,#d3436e,#cd4071,#cc3f71,#d0416f,#d8456c,#e04c67,#ea5661,#f2625d,#f66e5c,#f97b5d,#fb8560,#fc8a62,#fc8c63,#fc8a62,#fb8560,#f97b5d,#f66e5c,#f2625d,#ea5661,#e04c67,#d8456c,#d0416f,#cc3f71,#cd4071,#d3436e,#de4968,#ea5661,#f56b5c,#fb835f,#fd9b6b,#feb078,#febd82,#fec185),
linear-gradient(90deg,#feb77e,#feb47b,#fea772,#fd9467,#f97b5d,#f3655c,#e85362,#db476a,#d0416f,#ca3e72,#c83e73,#cc3f71,#d3436e,#dc4869,#e55064,#ee5b5e,#f4675c,#f7725c,#f97b5d,#fa815f,#fb835f,#fa815f,#f97b5d,#f7725c,#f4675c,#ee5b5e,#e55064,#dc4869,#d3436e,#cc3f71,#c83e73,#ca3e72,#d0416f,#db476a,#e85362,#f3655c,#f97b5d,#fd9467,#fea772,#feb47b,#feb77e),
linear-gradient(90deg,#feac76,#fea973,#fe9d6c,#fc8a62,#f8745c,#f05f5e,#e34e65,#d6456c,#cc3f71,#c53c74,#c53c74,#c83e73,#cf4070,#d8456c,#e24d66,#ea5661,#f05f5e,#f4695c,#f7725c,#f9785d,#f9795d,#f9785d,#f7725c,#f4695c,#f05f5e,#ea5661,#e24d66,#d8456c,#cf4070,#c83e73,#c53c74,#c53c74,#cc3f71,#d6456c,#e34e65,#f05f5e,#f8745c,#fc8a62,#fe9d6c,#fea973,#feac76),
linear-gradient(90deg,#fea36f,#fe9d6c,#fd9266,#fa815f,#f66c5c,#ec5860,#df4a68,#d2426f,#c73d73,#c23b75,#c03a76,#c43c75,#ca3e72,#d2426f,#dc4869,#e44f64,#ec5860,#f1605d,#f4695c,#f66c5c,#f66e5c,#f66c5c,#f4695c,#f1605d,#ec5860,#e44f64,#dc4869,#d2426f,#ca3e72,#c43c75,#c03a76,#c23b75,#c73d73,#d2426f,#df4a68,#ec5860,#f66c5c,#fa815f,#fd9266,#fe9d6c,#fea36f),
linear-gradient(90deg,#fd9668,#fd9266,#fb8761,#f9785d,#f2645c,#e85362,#d9466b,#cd4071,#c23b75,#bd3977,#bc3978,#bf3a77,#c43c75,#cd4071,#d5446d,#df4a68,#e75263,#ec5860,#f05f5e,#f2625d,#f2645c,#f2625d,#f05f5e,#ec5860,#e75263,#df4a68,#d5446d,#cd4071,#c43c75,#bf3a77,#bc3978,#bd3977,#c23b75,#cd4071,#d9466b,#e85362,#f2645c,#f9785d,#fb8761,#fd9266,#fd9668),
linear-gradient(90deg,#fc8a62,#fb8761,#f97b5d,#f66c5c,#ee5b5e,#e24d66,#d3436e,#c73d73,#bd3977,#b83779,#b73779,#b83779,#bf3a77,#c73d73,#cf4070,#d8456c,#df4a68,#e55064,#ea5661,#ec5860,#ed5a5f,#ec5860,#ea5661,#e55064,#df4a68,#d8456c,#cf4070,#c73d73,#bf3a77,#b83779,#b73779,#b83779,#bd3977,#c73d73,#d3436e,#e24d66,#ee5b5e,#f66c5c,#f97b5d,#fb8761,#fc8a62),
linear-gradient(90deg,#fa7d5e,#f9795d,#f7705c,#f2625d,#e95462,#dc4869,#cd4071,#c03a76,#b83779,#b2357b,#b2357b,#b3367a,#b83779,#bf3a77,#c73d73,#d0416f,#d8456c,#de4968,#e34e65,#e55064,#e75263,#e55064,#e34e65,#de4968,#d8456c,#d0416f,#c73d73,#bf3a77,#b83779,#b3367a,#b2357b,#b2357b,#b83779,#c03a76,#cd4071,#dc4869,#e95462,#f2625d,#f7705c,#f9795d,#fa7d5e),
linear-gradient(90deg,#f7705c,#f66c5c,#f2645c,#ec5860,#e24d66,#d5446d,#c73d73,#ba3878,#b2357b,#ad347c,#ab337c,#ad347c,#b2357b,#b83779,#bf3a77,#c73d73,#cf4070,#d5446d,#d9466b,#dc4869,#de4968,#dc4869,#d9466b,#d5446d,#cf4070,#c73d73,#bf3a77,#b83779,#b2357b,#ad347c,#ab337c,#ad347c,#b2357b,#ba3878,#c73d73,#d5446d,#e24d66,#ec5860,#f2645c,#f66c5c,#f7705c),
linear-gradient(90deg,#f2645c,#f1605d,#ed5a5f,#e55064,#d9466b,#cd4071,#bf3a77,#b3367a,#ab337c,#a6317d,#a5317e,#a6317d,#ab337c,#b0357b,#b73779,#bf3a77,#c53c74,#cc3f71,#d0416f,#d3436e,#d3436e,#d3436e,#d0416f,#cc3f71,#c53c74,#bf3a77,#b73779,#b0357b,#ab337c,#a6317d,#a5317e,#a6317d,#ab337c,#b3367a,#bf3a77,#cd4071,#d9466b,#e55064,#ed5a5f,#f1605d,#f2645c),
linear-gradient(90deg,#eb5760,#ea5661,#e55064,#dc4869,#d0416f,#c43c75,#b73779,#ad347c,#a5317e,#a02f7f,#9e2f7f,#a02f7f,#a3307e,#a8327d,#ae347b,#b5367a,#bc3978,#c03a76,#c53c74,#c83e73,#c83e73,#c83e73,#c53c74,#c03a76,#bc3978,#b5367a,#ae347b,#a8327d,#a3307e,#a02f7f,#9e2f7f,#a02f7f,#a5317e,#ad347c,#b73779,#c43c75,#d0416f,#dc4869,#e55064,#ea5661,#eb5760),
linear-gradient(90deg,#e34e65,#e04c67,#dc4869,#d3436e,#c73d73,#bc3978,#ae347b,#a5317e,#9e2f7f,#992d80,#982d80,#982d80,#9b2e7f,#a02f7f,#a6317d,#ab337c,#b2357b,#b73779,#ba3878,#bd3977,#bd3977,#bd3977,#ba3878,#b73779,#b2357b,#ab337c,#a6317d,#a02f7f,#9b2e7f,#982d80,#982d80,#992d80,#9e2f7f,#a5317e,#ae347b,#bc3978,#c73d73,#d3436e,#dc4869,#e04c67,#e34e65),
linear-gradient(90deg,#d8456c,#d6456c,#d0416f,#c83e73,#bd3977,#b2357b,#a6317d,#9c2e7f,#962c80,#912b81,#902a81,#912b81,#932b80,#982d80,#9c2e7f,#a1307e,#a6317d,#ab337c,#ae347b,#b2357b,#b2357b,#b2357b,#ae347b,#ab337c,#a6317d,#a1307e,#9c2e7f,#982d80,#932b80,#912b81,#902a81,#912b81,#962c80,#9c2e7f,#a6317d,#b2357b,#bd3977,#c83e73,#d0416f,#d6456c,#d8456c),
linear-gradient(90deg,#cc3f71,#ca3e72,#c53c74,#bd3977,#b3367a,#a8327d,#9e2f7f,#942c80,#8e2a81,#8b2981,#892881,#892881,#8b2981,#902a81,#932b80,#982d80,#9c2e7f,#a02f7f,#a3307e,#a5317e,#a6317d,#a5317e,#a3307e,#a02f7f,#9c2e7f,#982d80,#932b80,#902a81,#8b2981,#892881,#892881,#8b2981,#8e2a81,#942c80,#9e2f7f,#a8327d,#b3367a,#bd3977,#c53c74,#ca3e72,#cc3f71),
linear-gradient(90deg,#bf3a77,#bd3977,#b83779,#b2357b,#a8327d,#9e2f7f,#942c80,#8c2981,#862781,#832681,#812581,#812581,#832681,#862781,#892881,#8e2a81,#912b81,#942c80,#982d80,#992d80,#9b2e7f,#992d80,#982d80,#942c80,#912b81,#8e2a81,#892881,#862781,#832681,#812581,#812581,#832681,#862781,#8c2981,#942c80,#9e2f7f,#a8327d,#b2357b,#b83779,#bd3977,#bf3a77),
linear-gradient(90deg,#b3367a,#b2357b,#ad347c,#a6317d,#9c2e7f,#942c80,#8b2981,#842681,#7e2482,#7b2382,#792282,#792282,#7b2382,#7c2382,#802582,#842681,#882781,#8b2981,#8c2981,#8e2a81,#8e2a81,#8e2a81,#8c2981,#8b2981,#882781,#842681,#802582,#7c2382,#7b2382,#792282,#792282,#7b2382,#7e2482,#842681,#8b2981,#942c80,#9c2e7f,#a6317d,#ad347c,#b2357b,#b3367a),
linear-gradient(90deg,#a6317d,#a5317e,#a02f7f,#992d80,#932b80,#8b2981,#832681,#7b2382,#762181,#732081,#721f81,#721f81,#721f81,#752181,#762181,#792282,#7c2382,#802582,#812581,#832681,#832681,#832681,#812581,#802582,#7c2382,#792282,#762181,#752181,#721f81,#721f81,#721f81,#732081,#762181,#7b2382,#832681,#8b2981,#932b80,#992d80,#a02f7f,#a5317e,#a6317d),
linear-gradient(90deg,#992d80,#982d80,#942c80,#8e2a81,#882781,#802582,#792282,#732081,#6e1e81,#6b1d81,#6a1c81,#681c81,#6a1c81,#6b1d81,#6d1d81,#701f81,#721f81,#752181,#762181,#782281,#782281,#782281,#762181,#752181,#721f81,#701f81,#6d1d81,#6b1d81,#6a1c81,#681c81,#6a1c81,#6b1d81,#6e1e81,#732081,#792282,#802582,#882781,#8e2a81,#942c80,#982d80,#992d80),
linear-gradient(90deg,#8c2981,#8b2981,#882781,#832681,#7c2382,#762181,#701f81,#6a1c81,#651a80,#621980,#601880,#601880,#601880,#621980,#641a80,#671b80,#681c81,#6a1c81,#6b1d81,#6b1d81,#6d1d81,#6b1d81,#6b1d81,#6a1c81,#681c81,#671b80,#641a80,#621980,#601880,#601880,#601880,#621980,#651a80,#6a1c81,#701f81,#762181,#7c2382,#832681,#882781,#8b2981,#8c2981),
linear-gradient(90deg,#802582,#7e2482,#7c2382,#782281,#721f81,#6d1d81,#671b80,#621980,#5d177f,#5a167e,#59157e,#57157e,#59157e,#59157e,#5a167e,#5c167f,#5d177f,#5f187f,#601880,#601880,#621980,#601880,#601880,#5f187f,#5d177f,#5c167f,#5a167e,#59157e,#59157e,#57157e,#59157e,#5a167e,#5d177f,#621980,#671b80,#6d1d81,#721f81,#782281,#7c2382,#7e2482,#802582),
linear-gradient(90deg,#732081,#732081,#701f81,#6d1d81,#681c81,#621980,#5d177f,#59157e,#54137d,#52137c,#51127c,#4f127b,#4f127b,#4f127b,#51127c,#52137c,#54137d,#56147d,#56147d,#57157e,#57157e,#57157e,#56147d,#56147d,#54137d,#52137c,#51127c,#4f127b,#4f127b,#4f127b,#51127c,#52137c,#54137d,#59157e,#5d177f,#621980,#681c81,#6d1d81,#701f81,#732081,#732081),
linear-gradient(90deg,#681c81,#671b80,#651a80,#621980,#5d177f,#59157e,#54137d,#4f127b,#4c117a,#491078,#471078,#471078,#451077,#471078,#471078,#491078,#491078,#4a1079,#4c117a,#4c117a,#4c117a,#4c117a,#4c117a,#4a1079,#491078,#491078,#471078,#471078,#451077,#471078,#471078,#491078,#4c117a,#4f127b,#54137d,#59157e,#5d177f,#621980,#651a80,#671b80,#681c81),
linear-gradient(90deg,#5d177f,#5c167f,#5a167e,#57157e,#52137c,#4f127b,#4a1079,#471078,#440f76,#400f74,#3f0f72,#3d0f71,#3d0f71,#3d0f71,#3d0f71,#3f0f72,#3f0f72,#400f74,#400f74,#400f74,#400f74,#400f74,#400f74,#400f74,#3f0f72,#3f0f72,#3d0f71,#3d0f71,#3d0f71,#3d0f71,#3f0f72,#400f74,#440f76,#471078,#4a1079,#4f127b,#52137c,#57157e,#5a167e,#5c167f,#5d177f),
linear-gradient(90deg,#51127c,#51127c,#4f127b,#4c117a,#491078,#451077,#400f74,#3d0f71,#390f6e,#38106c,#36106b,#341069,#341069,#341069,#341069,#341069,#341069,#36106b,#36106b,#36106b,#36106b,#36106b,#36106b,#36106b,#341069,#341069,#341069,#341069,#341069,#341069,#36106b,#38106c,#390f6e,#3d0f71,#400f74,#451077,#491078,#4c117a,#4f127b,#51127c,#51127c),
linear-gradient(90deg,#471078,#451077,#440f76,#420f75,#3f0f72,#3b0f70,#38106c,#341069,#311165,#2d1161,#2c115f,#2c115f,#2a115c,#2a115c,#2a115c,#2a115c,#2c115f,#2c115f,#2c115f,#2c115f,#2c115f,#2c115f,#2c115f,#2c115f,#2c115f,#2a115c,#2a115c,#2a115c,#2a115c,#2c115f,#2c115f,#2d1161,#311165,#341069,#38106c,#3b0f70,#3f0f72,#420f75,#440f76,#451077,#471078),
linear-gradient(90deg,#3b0f70,#3b0f70,#390f6e,#36106b,#341069,#311165,#2d1161,#2a115c,#29115a,#251255,#241253,#241253,#221150,#221150,#221150,#221150,#221150,#221150,#221150,#221150,#221150,#221150,#221150,#221150,#221150,#221150,#221150,#221150,#221150,#241253,#241253,#251255,#29115a,#2a115c,#2d1161,#311165,#341069,#36106b,#390f6e,#3b0f70,#3b0f70),
linear-gradient(90deg,#311165,#2f1163,#2f1163,#2c115f,#2a115c,#271258,#251255,#221150,#21114e,#20114b,#1e1149,#1d1147,#1c1044,#1c1044,#1c1044,#1c1044,#1c1044,#1c1044,#1c1044,#1c1044,#1c1044,#1c1044,#1c1044,#1c1044,#1c1044,#1c1044,#1c1044,#1c1044,#1c1044,#1d1147,#1e1149,#20114b,#21114e,#221150,#251255,#271258,#2a115c,#2c115f,#2f1163,#2f1163,#311165),
linear-gradient(90deg,#271258,#251255,#251255,#241253,#221150,#20114b,#1e1149,#1c1044,#1a1042,#19103f,#180f3d,#160f3b,#160f3b,#150e38,#150e38,#150e38,#150e38,#150e38,#150e38,#150e38,#150e38,#150e38,#150e38,#150e38,#150e38,#150e38,#150e38,#150e38,#160f3b,#160f3b,#180f3d,#19103f,#1a1042,#1c1044,#1e1149,#20114b,#221150,#241253,#251255,#251255,#271258),
linear-gradient(90deg,#1e1149,#1e1149,#1d1147,#1c1044,#1a1042,#19103f,#180f3d,#160f3b,#150e38,#140e36,#130d34,#120d31,#110c2f,#110c2f,#110c2f,#110c2f,#100b2d,#100b2d,#100b2d,#100b2d,#100b2d,#100b2d,#100b2d,#100b2d,#100b2d,#110c2f,#110c2f,#110c2f,#110c2f,#120d31,#130d34,#140e36,#150e38,#160f3b,#180f3d,#19103f,#1a1042,#1c1044,#1d1147,#1e1149,#1e1149),
linear-gradient(90deg,#180f3d,#160f3b,#160f3b,#150e38,#140e36,#130d34,#120d31,#110c2f,#100b2d,#0e0b2b,#0e0b2b,#0d0a29,#0c0926,#0c0926,#0c0926,#0b0924,#0b0924,#0b0924,#0b0924,#0b0924,#0b0924,#0b0924,#0b0924,#0b0924,#0b0924,#0b0924,#0c0926,#0c0926,#0c0926,#0d0a29,#0e0b2b,#0e0b2b,#100b2d,#110c2f,#120d31,#130d34,#140e36,#150e38,#160f3b,#160f3b,#180f3d),
linear-gradient(90deg,#120d31,#120d31,#110c2f,#110c2f,#100b2d,#0e0b2b,#0d0a29,#0c0926,#0b0924,#0b0924,#0a0822,#090720,#090720,#08071e,#08071e,#08071e,#08071e,#07061c,#07061c,#07061c,#07061c,#07061c,#07061c,#07061c,#08071e,#08071e,#08071e,#08071e,#090720,#090720,#0a0822,#0b0924,#0b0924,#0c0926,#0d0a29,#0e0b2b,#100b2d,#110c2f,#110c2f,#120d31,#120d31),
linear-gradient(90deg,#0c0926,#0c0926,#0c0926,#0b0924,#0b0924,#0a0822,#090720,#090720,#08071e,#07061c,#06051a,#06051a,#060518,#060518,#060518,#050416,#050416,#050416,#050416,#050416,#050416,#050416,#050416,#050416,#050416,#050416,#060518,#060518,#060518,#06051a,#06051a,#07061c,#08071e,#090720,#090720,#0a0822,#0b0924,#0b0924,#0c0926,#0c0926,#0c0926),
linear-gradient(90deg,#08071e,#08071e,#08071e,#08071e,#07061c,#06051a,#06051a,#060518,#060518,#050416,#040414,#040414,#030312,#030312,#030312,#03030f,#03030f,#03030f,#03030f,#03030f,#03030f,#03030f,#03030f,#03030f,#03030f,#03030f,#030312,#030312,#030312,#040414,#040414,#050416,#060518,#060518,#06051a,#06051a,#07061c,#08071e,#08071e,#08071e,#08071e),
linear-gradient(90deg,#060518,#060518,#050416,#050416,#050416,#040414,#040414,#030312,#030312,#03030f,#03030f,#02020d,#02020d,#02020b,#02020b,#02020b,#02020b,#02020b,#020109,#020109,#020109,#020109,#020109,#02020b,#02020b,#02020b,#02020b,#02020b,#02020d,#02020d,#03030f,#03030f,#030312,#030312,#040414,#040414,#050416,#050416,#050416,#060518,#060518),
linear-gradient(90deg,#030312,#03030f,#03030f,#03030f,#03030f,#02020d,#02020d,#02020d,#02020b,#02020b,#020109,#020109,#020109,#010108,#010108,#010108,#010108,#010108,#010108,#010106,#010106,#010106,#010108,#010108,#010108,#010108,#010108,#010108,#020109,#020109,#020109,#02020b,#02020b,#02020d,#02020d,#02020d,#03030f,#03030f,#03030f,#03030f,#030312),
linear-gradient(90deg,#02020b,#02020b,#02020b,#02020b,#020109,#020109,#020109,#020109,#010108,#010108,#010108,#010106,#010106,#010106,#010106,#010005,#010005,#010005,#010005,#010005,#010005,#010005,#010005,#010005,#010005,#010005,#010106,#010106,#010106,#010106,#010108,#010108,#010108,#020109,#020109,#020109,#020109,#02020b,#02020b,#02020b,#02020b),
linear-gradient(90deg,#010108,#010108,#010108,#010108,#010106,#010106,#010106,#010106,#010106,#010005,#010005,#010005,#010005,#010005,#000004,#000004,#000004,#000004,#000004,#000004,#000004,#000004,#000004,#000004,#000004,#000004,#000004,#010005,#010005,#010005,#010005,#010005,#010106,#010106,#010106,#010106,#010106,#010108,#010108,#010108,#010108),
linear-gradient(90deg,#010005,#010005,#010005,#010005,#010005,#010005,#010005,#010005,#010005,#000004,#000004,#000004,#000004,#000004,#000004,#000004,#000004,#000004,#000004,#000004,#000004,#000004,#000004,#000004,#000004,#000004,#000004,#000004,#000004,#000004,#000004,#000004,#010005,#010005,#010005,#010005,#010005,#010005,#010005,#010005,#010005),
linear-gradient(90deg,#000004,#000004,#000004,#000004,#000004,#000004,#000004,#000004,#000004,#000004,#000004,#000004,#000004,#000004,#000004,#000004,#000004,#000004,#000004,#000004,#000004,#000004,#000004,#000004,#000004,#000004,#000004,#000004,#000004,#000004,#000004,#000004,#000004,#000004,#000004,#000004,#000004,#000004,#000004,#000004,#000004);background-size:100% 3.48px;background-position:0 146.92px,0 145.43px,0 143.95px,0 142.46px,0 140.98px,0 139.50px,0 138.01px,0 136.53px,0 135.04px,0 133.56px,0 132.08px,0 130.59px,0 129.11px,0 127.62px,0 126.14px,0 124.66px,0 123.17px,0 121.69px,0 120.20px,0 118.72px,0 117.24px,0 115.75px,0 114.27px,0 112.78px,0 111.30px,0 109.82px,0 108.33px,0 106.85px,0 105.36px,0 103.88px,0 102.40px,0 100.91px,0 99.43px,0 97.94px,0 96.46px,0 94.98px,0 93.49px,0 92.01px,0 90.52px,0 89.04px,0 87.56px,0 86.07px,0 84.59px,0 83.10px,0 81.62px,0 80.14px,0 78.65px,0 77.17px,0 75.68px,0 74.20px,0 72.72px,0 71.23px,0 69.75px,0 68.26px,0 66.78px,0 65.30px,0 63.81px,0 62.33px,0 60.84px,0 59.36px,0 57.88px,0 56.39px,0 54.91px,0 53.42px,0 51.94px,0 50.46px,0 48.97px,0 47.49px,0 46.00px,0 44.52px,0 43.04px,0 41.55px,0 40.07px,0 38.58px,0 37.10px,0 35.62px,0 34.13px,0 32.65px,0 31.16px,0 29.68px,0 28.20px,0 26.71px,0 25.23px,0 23.74px,0 22.26px,0 20.78px,0 19.29px,0 17.81px,0 16.32px,0 14.84px,0 13.36px,0 11.87px,0 10.39px,0 8.90px,0 7.42px,0 5.94px,0 4.45px,0 2.97px,0 1.48px,0 0.00px}
#m6{left:478.97px;top:498.55px;width:297.06px;height:148.40px;background-image:linear-gradient(90deg,#ae347b,#ae347b,#ae347b,#ad347c,#ad347c,#ad347c,#ad347c,#ad347c,#ad347c,#ad347c,#ab337c,#ab337c,#ab337c,#ab337c,#ab337c,#aa337d,#aa337d,#aa337d,#aa337d,#aa337d,#aa337d,#aa337d,#aa337d,#aa337d,#aa337d,#aa337d,#ab337c,#ab337c,#ab337c,#ab337c,#ab337c,#ad347c,#ad347c,#ad347c,#ad347c,#ad347c,#ad347c,#ad347c,#ae347b,#ae347b,#ae347b),
linear-gradient(90deg,#b2357b,#b2357b,#b2357b,#b0357b,#b0357b,#b0357b,#ae347b,#ae347b,#ae347b,#ad347c,#ab337c,#ab337c,#aa337d,#aa337d,#a8327d,#a8327d,#a6317d,#a6317d,#a5317e,#a5317e,#a5317e,#a5317e,#a5317e,#a6317d,#a6317d,#a8327d,#a8327d,#aa337d,#aa337d,#ab337c,#ab337c,#ad347c,#ae347b,#ae347b,#ae347b,#b0357b,#b0357b,#b0357b,#b2357b,#b2357b,#b2357b),
linear-gradient(90deg,#b5367a,#b5367a,#b3367a,#b3367a,#b3367a,#b2357b,#b2357b,#b0357b,#ae347b,#ad347c,#ad347c,#aa337d,#a8327d,#a6317d,#a5317e,#a3307e,#a3307e,#a1307e,#a02f7f,#a02f7f,#a02f7f,#a02f7f,#a02f7f,#a1307e,#a3307e,#a3307e,#a5317e,#a6317d,#a8327d,#aa337d,#ad347c,#ad347c,#ae347b,#b0357b,#b2357b,#b2357b,#b3367a,#b3367a,#b3367a,#b5367a,#b5367a),
linear-gradient(90deg,#b73779,#b73779,#b73779,#b73779,#b5367a,#b5367a,#b3367a,#b2357b,#b0357b,#ae347b,#ad347c,#aa337d,#a8327d,#a5317e,#a3307e,#a02f7f,#9e2f7f,#9c2e7f,#9b2e7f,#992d80,#992d80,#992d80,#9b2e7f,#9c2e7f,#9e2f7f,#a02f7f,#a3307e,#a5317e,#a8327d,#aa337d,#ad347c,#ae347b,#b0357b,#b2357b,#b3367a,#b5367a,#b5367a,#b73779,#b73779,#b73779,#b73779),
linear-gradient(90deg,#b83779,#b83779,#b83779,#b83779,#b83779,#b73779,#b5367a,#b3367a,#b2357b,#b0357b,#ad347c,#aa337d,#a6317d,#a3307e,#a02f7f,#9c2e7f,#992d80,#962c80,#942c80,#942c80,#932b80,#942c80,#942c80,#962c80,#992d80,#9c2e7f,#a02f7f,#a3307e,#a6317d,#aa337d,#ad347c,#b0357b,#b2357b,#b3367a,#b5367a,#b73779,#b83779,#b83779,#b83779,#b83779,#b83779),
linear-gradient(90deg,#ba3878,#ba3878,#ba3878,#ba3878,#ba3878,#b83779,#b73779,#b5367a,#b3367a,#b0357b,#ad347c,#aa337d,#a5317e,#a1307e,#9c2e7f,#982d80,#942c80,#912b81,#8e2a81,#8c2981,#8c2981,#8c2981,#8e2a81,#912b81,#942c80,#982d80,#9c2e7f,#a1307e,#a5317e,#aa337d,#ad347c,#b0357b,#b3367a,#b5367a,#b73779,#b83779,#ba3878,#ba3878,#ba3878,#ba3878,#ba3878),
linear-gradient(90deg,#bc3978,#bc3978,#bc3978,#bc3978,#bc3978,#ba3878,#b83779,#b73779,#b5367a,#b2357b,#ad347c,#aa337d,#a3307e,#9e2f7f,#992d80,#942c80,#902a81,#8b2981,#882781,#862781,#842681,#862781,#882781,#8b2981,#902a81,#942c80,#992d80,#9e2f7f,#a3307e,#aa337d,#ad347c,#b2357b,#b5367a,#b73779,#b83779,#ba3878,#bc3978,#bc3978,#bc3978,#bc3978,#bc3978),
linear-gradient(90deg,#bc3978,#bc3978,#bd3977,#bd3977,#bc3978,#bc3978,#ba3878,#b83779,#b73779,#b2357b,#ae347b,#a8327d,#a3307e,#9c2e7f,#962c80,#902a81,#892881,#842681,#812581,#7e2482,#7e2482,#7e2482,#812581,#842681,#892881,#902a81,#962c80,#9c2e7f,#a3307e,#a8327d,#ae347b,#b2357b,#b73779,#b83779,#ba3878,#bc3978,#bc3978,#bd3977,#bd3977,#bc3978,#bc3978),
linear-gradient(90deg,#bd3977,#bd3977,#bd3977,#bd3977,#bd3977,#bd3977,#bc3978,#ba3878,#b73779,#b3367a,#ae347b,#a8327d,#a1307e,#992d80,#932b80,#8b2981,#832681,#7e2482,#792282,#762181,#752181,#762181,#792282,#7e2482,#832681,#8b2981,#932b80,#992d80,#a1307e,#a8327d,#ae347b,#b3367a,#b73779,#ba3878,#bc3978,#bd3977,#bd3977,#bd3977,#bd3977,#bd3977,#bd3977),
linear-gradient(90deg,#bd3977,#bd3977,#bd3977,#bd3977,#bf3a77,#bf3a77,#bd3977,#bc3978,#b83779,#b5367a,#ae347b,#a8327d,#a02f7f,#982d80,#8e2a81,#862781,#7e2482,#762181,#721f81,#6e1e81,#6d1d81,#6e1e81,#721f81,#762181,#7e2482,#862781,#8e2a81,#982d80,#a02f7f,#a8327d,#ae347b,#b5367a,#b83779,#bc3978,#bd3977,#bf3a77,#bf3a77,#bd3977,#bd3977,#bd3977,#bd3977),
linear-gradient(90deg,#bd3977,#bd3977,#bd3977,#bf3a77,#bf3a77,#bf3a77,#bf3a77,#bd3977,#ba3878,#b5367a,#b0357b,#a8327d,#9e2f7f,#942c80,#8b2981,#812581,#782281,#701f81,#6a1c81,#651a80,#651a80,#651a80,#6a1c81,#701f81,#782281,#812581,#8b2981,#942c80,#9e2f7f,#a8327d,#b0357b,#b5367a,#ba3878,#bd3977,#bf3a77,#bf3a77,#bf3a77,#bf3a77,#bd3977,#bd3977,#bd3977),
linear-gradient(90deg,#bc3978,#bd3977,#bd3977,#bf3a77,#c03a76,#c03a76,#c03a76,#bf3a77,#bc3978,#b73779,#b0357b,#a8327d,#9e2f7f,#932b80,#882781,#7c2382,#721f81,#681c81,#621980,#5d177f,#5c167f,#5d177f,#621980,#681c81,#721f81,#7c2382,#882781,#932b80,#9e2f7f,#a8327d,#b0357b,#b73779,#bc3978,#bf3a77,#c03a76,#c03a76,#c03a76,#bf3a77,#bd3977,#bd3977,#bc3978),
linear-gradient(90deg,#bc3978,#bc3978,#bd3977,#bf3a77,#c03a76,#c23b75,#c23b75,#c03a76,#bd3977,#b83779,#b0357b,#a8327d,#9c2e7f,#902a81,#842681,#782281,#6b1d81,#601880,#59157e,#54137d,#52137c,#54137d,#59157e,#601880,#6b1d81,#782281,#842681,#902a81,#9c2e7f,#a8327d,#b0357b,#b83779,#bd3977,#c03a76,#c23b75,#c23b75,#c03a76,#bf3a77,#bd3977,#bc3978,#bc3978),
linear-gradient(90deg,#bc3978,#bc3978,#bd3977,#bf3a77,#c03a76,#c23b75,#c23b75,#c03a76,#bf3a77,#b83779,#b2357b,#a6317d,#9b2e7f,#8e2a81,#802582,#721f81,#651a80,#5a167e,#51127c,#4a1079,#491078,#4a1079,#51127c,#5a167e,#651a80,#721f81,#802582,#8e2a81,#9b2e7f,#a6317d,#b2357b,#b83779,#bf3a77,#c03a76,#c23b75,#c23b75,#c03a76,#bf3a77,#bd3977,#bc3978,#bc3978),
linear-gradient(90deg,#ba3878,#bc3978,#bd3977,#bf3a77,#c03a76,#c43c75,#c43c75,#c23b75,#bf3a77,#ba3878,#b2357b,#a6317d,#992d80,#8c2981,#7c2382,#6d1d81,#5f187f,#52137c,#491078,#420f75,#3f0f72,#420f75,#491078,#52137c,#5f187f,#6d1d81,#7c2382,#8c2981,#992d80,#a6317d,#b2357b,#ba3878,#bf3a77,#c23b75,#c43c75,#c43c75,#c03a76,#bf3a77,#bd3977,#bc3978,#ba3878),
linear-gradient(90deg,#ba3878,#ba3878,#bd3977,#bf3a77,#c23b75,#c43c75,#c53c74,#c43c75,#c03a76,#ba3878,#b2357b,#a6317d,#992d80,#892881,#792282,#681c81,#59157e,#4a1079,#400f74,#38106c,#36106b,#38106c,#400f74,#4a1079,#59157e,#681c81,#792282,#892881,#992d80,#a6317d,#b2357b,#ba3878,#c03a76,#c43c75,#c53c74,#c43c75,#c23b75,#bf3a77,#bd3977,#ba3878,#ba3878),
linear-gradient(90deg,#ba3878,#ba3878,#bc3978,#bf3a77,#c23b75,#c43c75,#c53c74,#c53c74,#c23b75,#bc3978,#b2357b,#a6317d,#982d80,#882781,#762181,#641a80,#54137d,#440f76,#36106b,#2f1163,#2c115f,#2f1163,#36106b,#440f76,#54137d,#641a80,#762181,#882781,#982d80,#a6317d,#b2357b,#bc3978,#c23b75,#c53c74,#c53c74,#c43c75,#c23b75,#bf3a77,#bc3978,#ba3878,#ba3878),
linear-gradient(90deg,#b83779,#ba3878,#bc3978,#bf3a77,#c23b75,#c53c74,#c73d73,#c53c74,#c23b75,#bc3978,#b2357b,#a6317d,#962c80,#842681,#732081,#601880,#4e117b,#3d0f71,#2d1161,#251255,#221150,#251255,#2d1161,#3d0f71,#4e117b,#601880,#732081,#842681,#962c80,#a6317d,#b2357b,#bc3978,#c23b75,#c53c74,#c73d73,#c53c74,#c23b75,#bf3a77,#bc3978,#ba3878,#b83779),
linear-gradient(90deg,#b83779,#ba3878,#bc3978,#bf3a77,#c23b75,#c53c74,#c73d73,#c73d73,#c23b75,#bc3978,#b2357b,#a5317e,#962c80,#832681,#701f81,#5c167f,#491078,#341069,#271258,#1e1149,#1c1044,#1e1149,#271258,#341069,#491078,#5c167f,#701f81,#832681,#962c80,#a5317e,#b2357b,#bc3978,#c23b75,#c73d73,#c73d73,#c53c74,#c23b75,#bf3a77,#bc3978,#ba3878,#b83779),
linear-gradient(90deg,#b83779,#b83779,#bc3978,#bf3a77,#c23b75,#c53c74,#c73d73,#c73d73,#c43c75,#bd3977,#b2357b,#a5317e,#942c80,#812581,#6d1d81,#59157e,#420f75,#2f1163,#20114b,#180f3d,#150e38,#180f3d,#20114b,#2f1163,#420f75,#59157e,#6d1d81,#812581,#942c80,#a5317e,#b2357b,#bd3977,#c43c75,#c73d73,#c73d73,#c53c74,#c23b75,#bf3a77,#bc3978,#b83779,#b83779),
linear-gradient(90deg,#b83779,#b83779,#bc3978,#bf3a77,#c43c75,#c73d73,#c83e73,#c73d73,#c43c75,#bd3977,#b2357b,#a5317e,#932b80,#802582,#6a1c81,#54137d,#3d0f71,#29115a,#1a1042,#130d34,#100b2d,#130d34,#1a1042,#29115a,#3d0f71,#54137d,#6a1c81,#802582,#932b80,#a5317e,#b2357b,#bd3977,#c43c75,#c73d73,#c83e73,#c73d73,#c43c75,#bf3a77,#bc3978,#b83779,#b83779),
linear-gradient(90deg,#b73779,#b83779,#bc3978,#bf3a77,#c43c75,#c73d73,#c83e73,#c83e73,#c43c75,#bd3977,#b2357b,#a5317e,#932b80,#7e2482,#681c81,#51127c,#390f6e,#241253,#150e38,#0d0a29,#0b0924,#0d0a29,#150e38,#241253,#390f6e,#51127c,#681c81,#7e2482,#932b80,#a5317e,#b2357b,#bd3977,#c43c75,#c83e73,#c83e73,#c73d73,#c43c75,#bf3a77,#bc3978,#b83779,#b73779),
linear-gradient(90deg,#b73779,#b83779,#bc3978,#bf3a77,#c43c75,#c73d73,#c83e73,#c83e73,#c43c75,#bd3977,#b2357b,#a3307e,#912b81,#7c2382,#671b80,#4f127b,#341069,#20114b,#120d31,#090720,#07061c,#090720,#120d31,#20114b,#341069,#4f127b,#671b80,#7c2382,#912b81,#a3307e,#b2357b,#bd3977,#c43c75,#c83e73,#c83e73,#c73d73,#c43c75,#bf3a77,#bc3978,#b83779,#b73779),
linear-gradient(90deg,#b83779,#b83779,#bc3978,#bf3a77,#c43c75,#c73d73,#c83e73,#c83e73,#c43c75,#bd3977,#b2357b,#a3307e,#912b81,#7c2382,#651a80,#4c117a,#311165,#1c1044,#0e0b2b,#06051a,#040414,#06051a,#0e0b2b,#1c1044,#311165,#4c117a,#651a80,#7c2382,#912b81,#a3307e,#b2357b,#bd3977,#c43c75,#c83e73,#c83e73,#c73d73,#c43c75,#bf3a77,#bc3978,#b83779,#b83779),
linear-gradient(90deg,#b83779,#b83779,#bc3978,#c03a76,#c43c75,#c73d73,#c83e73,#c83e73,#c43c75,#bd3977,#b2357b,#a3307e,#912b81,#7b2382,#641a80,#4a1079,#2f1163,#19103f,#0b0924,#040414,#02020d,#040414,#0b0924,#19103f,#2f1163,#4a1079,#641a80,#7b2382,#912b81,#a3307e,#b2357b,#bd3977,#c43c75,#c83e73,#c83e73,#c73d73,#c43c75,#c03a76,#bc3978,#b83779,#b83779),
linear-gradient(90deg,#b83779,#ba3878,#bc3978,#c03a76,#c43c75,#c73d73,#c83e73,#c73d73,#c43c75,#bc3978,#b2357b,#a3307e,#912b81,#7b2382,#641a80,#491078,#2d1161,#160f3b,#090720,#03030f,#020109,#03030f,#090720,#160f3b,#2d1161,#491078,#641a80,#7b2382,#912b81,#a3307e,#b2357b,#bc3978,#c43c75,#c73d73,#c83e73,#c73d73,#c43c75,#c03a76,#bc3978,#ba3878,#b83779),
linear-gradient(90deg,#b83779,#ba3878,#bd3977,#c03a76,#c43c75,#c73d73,#c83e73,#c73d73,#c43c75,#bc3978,#b2357b,#a3307e,#912b81,#7b2382,#641a80,#491078,#2c115f,#150e38,#07061c,#02020b,#010106,#02020b,#07061c,#150e38,#2c115f,#491078,#641a80,#7b2382,#912b81,#a3307e,#b2357b,#bc3978,#c43c75,#c73d73,#c83e73,#c73d73,#c43c75,#c03a76,#bd3977,#ba3878,#b83779),
linear-gradient(90deg,#ba3878,#ba3878,#bd3977,#c03a76,#c43c75,#c73d73,#c83e73,#c73d73,#c23b75,#bc3978,#b0357b,#a3307e,#912b81,#7b2382,#641a80,#491078,#2a115c,#140e36,#06051a,#020109,#000004,#020109,#06051a,#140e36,#2a115c,#491078,#641a80,#7b2382,#912b81,#a3307e,#b0357b,#bc3978,#c23b75,#c73d73,#c83e73,#c73d73,#c43c75,#c03a76,#bd3977,#ba3878,#ba3878),
linear-gradient(90deg,#ba3878,#bc3978,#bd3977,#c03a76,#c43c75,#c73d73,#c73d73,#c53c74,#c23b75,#ba3878,#b0357b,#a3307e,#912b81,#7c2382,#641a80,#491078,#2c115f,#140e36,#06051a,#010108,#000004,#010108,#06051a,#140e36,#2c115f,#491078,#641a80,#7c2382,#912b81,#a3307e,#b0357b,#ba3878,#c23b75,#c53c74,#c73d73,#c73d73,#c43c75,#c03a76,#bd3977,#bc3978,#ba3878),
linear-gradient(90deg,#bc3978,#bc3978,#bf3a77,#c03a76,#c43c75,#c53c74,#c73d73,#c53c74,#c03a76,#ba3878,#b0357b,#a3307e,#912b81,#7c2382,#651a80,#4a1079,#2c115f,#140e36,#06051a,#010108,#000004,#010108,#06051a,#140e36,#2c115f,#4a1079,#651a80,#7c2382,#912b81,#a3307e,#b0357b,#ba3878,#c03a76,#c53c74,#c73d73,#c53c74,#c43c75,#c03a76,#bf3a77,#bc3978,#bc3978),
linear-gradient(90deg,#bc3978,#bd3977,#bf3a77,#c23b75,#c43c75,#c53c74,#c53c74,#c43c75,#bf3a77,#b83779,#ae347b,#a3307e,#932b80,#7e2482,#671b80,#4c117a,#2d1161,#150e38,#06051a,#010108,#000004,#010108,#06051a,#150e38,#2d1161,#4c117a,#671b80,#7e2482,#932b80,#a3307e,#ae347b,#b83779,#bf3a77,#c43c75,#c53c74,#c53c74,#c43c75,#c23b75,#bf3a77,#bd3977,#bc3978),
linear-gradient(90deg,#bd3977,#bd3977,#bf3a77,#c23b75,#c43c75,#c53c74,#c43c75,#c23b75,#bd3977,#b83779,#ae347b,#a3307e,#932b80,#802582,#681c81,#4e117b,#2f1163,#160f3b,#07061c,#020109,#010005,#020109,#07061c,#160f3b,#2f1163,#4e117b,#681c81,#802582,#932b80,#a3307e,#ae347b,#b83779,#bd3977,#c23b75,#c43c75,#c53c74,#c43c75,#c23b75,#bf3a77,#bd3977,#bd3977),
linear-gradient(90deg,#bf3a77,#bf3a77,#c03a76,#c23b75,#c43c75,#c43c75,#c43c75,#c03a76,#bd3977,#b73779,#ae347b,#a3307e,#942c80,#812581,#6b1d81,#51127c,#331067,#19103f,#090720,#02020d,#010106,#02020d,#090720,#19103f,#331067,#51127c,#6b1d81,#812581,#942c80,#a3307e,#ae347b,#b73779,#bd3977,#c03a76,#c43c75,#c43c75,#c43c75,#c23b75,#c03a76,#bf3a77,#bf3a77),
linear-gradient(90deg,#c03a76,#c03a76,#c03a76,#c23b75,#c23b75,#c23b75,#c23b75,#bf3a77,#bc3978,#b5367a,#ae347b,#a3307e,#962c80,#842681,#6e1e81,#54137d,#38106c,#1d1147,#0b0924,#030312,#020109,#030312,#0b0924,#1d1147,#38106c,#54137d,#6e1e81,#842681,#962c80,#a3307e,#ae347b,#b5367a,#bc3978,#bf3a77,#c23b75,#c23b75,#c23b75,#c23b75,#c03a76,#c03a76,#c03a76),
linear-gradient(90deg,#c03a76,#c03a76,#c23b75,#c23b75,#c23b75,#c23b75,#c03a76,#bd3977,#ba3878,#b5367a,#ae347b,#a5317e,#982d80,#862781,#721f81,#59157e,#3b0f70,#20114b,#0e0b2b,#050416,#03030f,#050416,#0e0b2b,#20114b,#3b0f70,#59157e,#721f81,#862781,#982d80,#a5317e,#ae347b,#b5367a,#ba3878,#bd3977,#c03a76,#c23b75,#c23b75,#c23b75,#c23b75,#c03a76,#c03a76),
linear-gradient(90deg,#c23b75,#c23b75,#c23b75,#c23b75,#c23b75,#c03a76,#bf3a77,#bc3978,#b83779,#b3367a,#ad347c,#a5317e,#992d80,#892881,#752181,#5d177f,#400f74,#241253,#120d31,#08071e,#050416,#08071e,#120d31,#241253,#400f74,#5d177f,#752181,#892881,#992d80,#a5317e,#ad347c,#b3367a,#b83779,#bc3978,#bf3a77,#c03a76,#c23b75,#c23b75,#c23b75,#c23b75,#c23b75),
linear-gradient(90deg,#c43c75,#c43c75,#c43c75,#c23b75,#c03a76,#bf3a77,#bc3978,#ba3878,#b73779,#b2357b,#ad347c,#a6317d,#9c2e7f,#8c2981,#792282,#621980,#471078,#2a115c,#160f3b,#0b0924,#08071e,#0b0924,#160f3b,#2a115c,#471078,#621980,#792282,#8c2981,#9c2e7f,#a6317d,#ad347c,#b2357b,#b73779,#ba3878,#bc3978,#bf3a77,#c03a76,#c23b75,#c43c75,#c43c75,#c43c75),
linear-gradient(90deg,#c53c74,#c53c74,#c43c75,#c23b75,#c03a76,#bd3977,#ba3878,#b73779,#b3367a,#b2357b,#ad347c,#a8327d,#9e2f7f,#912b81,#7e2482,#671b80,#4e117b,#311165,#1c1044,#110c2f,#0c0926,#110c2f,#1c1044,#311165,#4e117b,#671b80,#7e2482,#912b81,#9e2f7f,#a8327d,#ad347c,#b2357b,#b3367a,#b73779,#ba3878,#bd3977,#c03a76,#c23b75,#c43c75,#c53c74,#c53c74),
linear-gradient(90deg,#c73d73,#c73d73,#c53c74,#c23b75,#bf3a77,#bc3978,#b83779,#b5367a,#b2357b,#b0357b,#ad347c,#a8327d,#a1307e,#942c80,#832681,#6d1d81,#54137d,#390f6e,#221150,#150e38,#120d31,#150e38,#221150,#390f6e,#54137d,#6d1d81,#832681,#942c80,#a1307e,#a8327d,#ad347c,#b0357b,#b2357b,#b5367a,#b83779,#bc3978,#bf3a77,#c23b75,#c53c74,#c73d73,#c73d73),
linear-gradient(90deg,#c83e73,#c83e73,#c53c74,#c23b75,#bf3a77,#ba3878,#b73779,#b3367a,#b0357b,#ae347b,#ad347c,#aa337d,#a3307e,#992d80,#882781,#732081,#5a167e,#400f74,#2a115c,#1c1044,#180f3d,#1c1044,#2a115c,#400f74,#5a167e,#732081,#882781,#992d80,#a3307e,#aa337d,#ad347c,#ae347b,#b0357b,#b3367a,#b73779,#ba3878,#bf3a77,#c23b75,#c53c74,#c83e73,#c83e73),
linear-gradient(90deg,#ca3e72,#ca3e72,#c73d73,#c23b75,#bd3977,#b83779,#b3367a,#b0357b,#ae347b,#ae347b,#ad347c,#ab337c,#a6317d,#9c2e7f,#8e2a81,#792282,#621980,#491078,#331067,#241253,#20114b,#241253,#331067,#491078,#621980,#792282,#8e2a81,#9c2e7f,#a6317d,#ab337c,#ad347c,#ae347b,#ae347b,#b0357b,#b3367a,#b83779,#bd3977,#c23b75,#c73d73,#ca3e72,#ca3e72),
linear-gradient(90deg,#cc3f71,#ca3e72,#c73d73,#c23b75,#bd3977,#b73779,#b2357b,#ae347b,#ad347c,#ad347c,#ae347b,#ad347c,#aa337d,#a1307e,#932b80,#802582,#6a1c81,#52137c,#3d0f71,#2d1161,#29115a,#2d1161,#3d0f71,#52137c,#6a1c81,#802582,#932b80,#a1307e,#aa337d,#ad347c,#ae347b,#ad347c,#ad347c,#ae347b,#b2357b,#b73779,#bd3977,#c23b75,#c73d73,#ca3e72,#cc3f71),
linear-gradient(90deg,#cd4071,#cc3f71,#c83e73,#c23b75,#bc3978,#b5367a,#b0357b,#ad347c,#ab337c,#ad347c,#ae347b,#ae347b,#ad347c,#a6317d,#992d80,#882781,#721f81,#5a167e,#471078,#38106c,#331067,#38106c,#471078,#5a167e,#721f81,#882781,#992d80,#a6317d,#ad347c,#ae347b,#ae347b,#ad347c,#ab337c,#ad347c,#b0357b,#b5367a,#bc3978,#c23b75,#c83e73,#cc3f71,#cd4071),
linear-gradient(90deg,#cf4070,#cd4071,#c83e73,#c23b75,#ba3878,#b3367a,#ad347c,#aa337d,#aa337d,#ab337c,#ae347b,#b2357b,#b0357b,#ab337c,#a02f7f,#8e2a81,#792282,#641a80,#51127c,#440f76,#3f0f72,#440f76,#51127c,#641a80,#792282,#8e2a81,#a02f7f,#ab337c,#b0357b,#b2357b,#ae347b,#ab337c,#aa337d,#aa337d,#ad347c,#b3367a,#ba3878,#c23b75,#c83e73,#cd4071,#cf4070),
linear-gradient(90deg,#d2426f,#cf4070,#ca3e72,#c23b75,#ba3878,#b2357b,#ab337c,#a8327d,#a8327d,#ab337c,#b0357b,#b3367a,#b3367a,#b0357b,#a6317d,#962c80,#812581,#6d1d81,#5c167f,#4e117b,#491078,#4e117b,#5c167f,#6d1d81,#812581,#962c80,#a6317d,#b0357b,#b3367a,#b3367a,#b0357b,#ab337c,#a8327d,#a8327d,#ab337c,#b2357b,#ba3878,#c23b75,#ca3e72,#cf4070,#d2426f),
linear-gradient(90deg,#d3436e,#d0416f,#cc3f71,#c23b75,#b83779,#b0357b,#aa337d,#a6317d,#a6317d,#ab337c,#b0357b,#b5367a,#b83779,#b5367a,#ad347c,#9e2f7f,#8b2981,#762181,#651a80,#59157e,#56147d,#59157e,#651a80,#762181,#8b2981,#9e2f7f,#ad347c,#b5367a,#b83779,#b5367a,#b0357b,#ab337c,#a6317d,#a6317d,#aa337d,#b0357b,#b83779,#c23b75,#cc3f71,#d0416f,#d3436e),
linear-gradient(90deg,#d5446d,#d2426f,#cc3f71,#c23b75,#b83779,#ae347b,#a6317d,#a3307e,#a5317e,#aa337d,#b0357b,#b73779,#bc3978,#ba3878,#b3367a,#a5317e,#942c80,#812581,#701f81,#651a80,#601880,#651a80,#701f81,#812581,#942c80,#a5317e,#b3367a,#ba3878,#bc3978,#b73779,#b0357b,#aa337d,#a5317e,#a3307e,#a6317d,#ae347b,#b83779,#c23b75,#cc3f71,#d2426f,#d5446d),
linear-gradient(90deg,#d6456c,#d3436e,#cd4071,#c23b75,#b73779,#ad347c,#a5317e,#a1307e,#a3307e,#aa337d,#b2357b,#ba3878,#bf3a77,#bf3a77,#ba3878,#ad347c,#9c2e7f,#8b2981,#7b2382,#701f81,#6d1d81,#701f81,#7b2382,#8b2981,#9c2e7f,#ad347c,#ba3878,#bf3a77,#bf3a77,#ba3878,#b2357b,#aa337d,#a3307e,#a1307e,#a5317e,#ad347c,#b73779,#c23b75,#cd4071,#d3436e,#d6456c),
linear-gradient(90deg,#d8456c,#d5446d,#cf4070,#c23b75,#b73779,#ab337c,#a3307e,#a02f7f,#a3307e,#aa337d,#b2357b,#bc3978,#c23b75,#c43c75,#bf3a77,#b5367a,#a6317d,#962c80,#862781,#7c2382,#782281,#7c2382,#862781,#962c80,#a6317d,#b5367a,#bf3a77,#c43c75,#c23b75,#bc3978,#b2357b,#aa337d,#a3307e,#a02f7f,#a3307e,#ab337c,#b73779,#c23b75,#cf4070,#d5446d,#d8456c),
linear-gradient(90deg,#d9466b,#d6456c,#cf4070,#c43c75,#b5367a,#aa337d,#a1307e,#9e2f7f,#a1307e,#a8327d,#b3367a,#bd3977,#c53c74,#c83e73,#c53c74,#bd3977,#b0357b,#a02f7f,#932b80,#882781,#842681,#882781,#932b80,#a02f7f,#b0357b,#bd3977,#c53c74,#c83e73,#c53c74,#bd3977,#b3367a,#a8327d,#a1307e,#9e2f7f,#a1307e,#aa337d,#b5367a,#c43c75,#cf4070,#d6456c,#d9466b),
linear-gradient(90deg,#dc4869,#d9466b,#d0416f,#c43c75,#b5367a,#a8327d,#a02f7f,#9c2e7f,#a02f7f,#a8327d,#b3367a,#bf3a77,#c83e73,#cd4071,#cc3f71,#c53c74,#ba3878,#ab337c,#9e2f7f,#942c80,#912b81,#942c80,#9e2f7f,#ab337c,#ba3878,#c53c74,#cc3f71,#cd4071,#c83e73,#bf3a77,#b3367a,#a8327d,#a02f7f,#9c2e7f,#a02f7f,#a8327d,#b5367a,#c43c75,#d0416f,#d9466b,#dc4869),
linear-gradient(90deg,#de4968,#db476a,#d2426f,#c43c75,#b5367a,#a6317d,#9e2f7f,#9b2e7f,#a02f7f,#a8327d,#b5367a,#c23b75,#cc3f71,#d2426f,#d2426f,#cd4071,#c23b75,#b73779,#aa337d,#a1307e,#9e2f7f,#a1307e,#aa337d,#b73779,#c23b75,#cd4071,#d2426f,#d2426f,#cc3f71,#c23b75,#b5367a,#a8327d,#a02f7f,#9b2e7f,#9e2f7f,#a6317d,#b5367a,#c43c75,#d2426f,#db476a,#de4968),
linear-gradient(90deg,#df4a68,#dc4869,#d2426f,#c43c75,#b3367a,#a6317d,#9c2e7f,#9b2e7f,#9e2f7f,#a8327d,#b5367a,#c43c75,#cf4070,#d6456c,#d8456c,#d3436e,#cc3f71,#c03a76,#b73779,#ae347b,#ab337c,#ae347b,#b73779,#c03a76,#cc3f71,#d3436e,#d8456c,#d6456c,#cf4070,#c43c75,#b5367a,#a8327d,#9e2f7f,#9b2e7f,#9c2e7f,#a6317d,#b3367a,#c43c75,#d2426f,#dc4869,#df4a68),
linear-gradient(90deg,#e04c67,#de4968,#d3436e,#c43c75,#b3367a,#a5317e,#9b2e7f,#992d80,#9e2f7f,#a8327d,#b73779,#c53c74,#d2426f,#d9466b,#dc4869,#db476a,#d5446d,#cc3f71,#c23b75,#bc3978,#b83779,#bc3978,#c23b75,#cc3f71,#d5446d,#db476a,#dc4869,#d9466b,#d2426f,#c53c74,#b73779,#a8327d,#9e2f7f,#992d80,#9b2e7f,#a5317e,#b3367a,#c43c75,#d3436e,#de4968,#e04c67),
linear-gradient(90deg,#e24d66,#de4968,#d5446d,#c53c74,#b3367a,#a5317e,#9b2e7f,#982d80,#9c2e7f,#a8327d,#b73779,#c73d73,#d5446d,#de4968,#e24d66,#e04c67,#dc4869,#d5446d,#cd4071,#c73d73,#c53c74,#c73d73,#cd4071,#d5446d,#dc4869,#e04c67,#e24d66,#de4968,#d5446d,#c73d73,#b73779,#a8327d,#9c2e7f,#982d80,#9b2e7f,#a5317e,#b3367a,#c53c74,#d5446d,#de4968,#e24d66),
linear-gradient(90deg,#e34e65,#df4a68,#d5446d,#c53c74,#b3367a,#a3307e,#992d80,#982d80,#9c2e7f,#a8327d,#b73779,#c83e73,#d6456c,#e04c67,#e55064,#e75263,#e34e65,#df4a68,#d8456c,#d3436e,#d2426f,#d3436e,#d8456c,#df4a68,#e34e65,#e75263,#e55064,#e04c67,#d6456c,#c83e73,#b73779,#a8327d,#9c2e7f,#982d80,#992d80,#a3307e,#b3367a,#c53c74,#d5446d,#df4a68,#e34e65),
linear-gradient(90deg,#e44f64,#e04c67,#d6456c,#c53c74,#b3367a,#a3307e,#992d80,#962c80,#9b2e7f,#a8327d,#b83779,#ca3e72,#d9466b,#e44f64,#e95462,#eb5760,#ea5661,#e75263,#e24d66,#df4a68,#de4968,#df4a68,#e24d66,#e75263,#ea5661,#eb5760,#e95462,#e44f64,#d9466b,#ca3e72,#b83779,#a8327d,#9b2e7f,#962c80,#992d80,#a3307e,#b3367a,#c53c74,#d6456c,#e04c67,#e44f64),
linear-gradient(90deg,#e55064,#e24d66,#d6456c,#c53c74,#b3367a,#a3307e,#982d80,#962c80,#9b2e7f,#a8327d,#b83779,#cc3f71,#db476a,#e75263,#ed5a5f,#ef5d5e,#ef5d5e,#ed5a5f,#ea5661,#e85362,#e85362,#e85362,#ea5661,#ed5a5f,#ef5d5e,#ef5d5e,#ed5a5f,#e75263,#db476a,#cc3f71,#b83779,#a8327d,#9b2e7f,#962c80,#982d80,#a3307e,#b3367a,#c53c74,#d6456c,#e24d66,#e55064),
linear-gradient(90deg,#e55064,#e34e65,#d8456c,#c73d73,#b3367a,#a3307e,#982d80,#942c80,#9b2e7f,#a8327d,#b83779,#cc3f71,#de4968,#e95462,#f05f5e,#f2645c,#f3655c,#f2645c,#f1605d,#f05f5e,#ef5d5e,#f05f5e,#f1605d,#f2645c,#f3655c,#f2645c,#f05f5e,#e95462,#de4968,#cc3f71,#b83779,#a8327d,#9b2e7f,#942c80,#982d80,#a3307e,#b3367a,#c73d73,#d8456c,#e34e65,#e55064),
linear-gradient(90deg,#e75263,#e34e65,#d8456c,#c73d73,#b3367a,#a1307e,#982d80,#942c80,#9b2e7f,#a8327d,#ba3878,#cd4071,#df4a68,#eb5760,#f2625d,#f56b5c,#f66e5c,#f66e5c,#f66c5c,#f56b5c,#f56b5c,#f56b5c,#f66c5c,#f66e5c,#f66e5c,#f56b5c,#f2625d,#eb5760,#df4a68,#cd4071,#ba3878,#a8327d,#9b2e7f,#942c80,#982d80,#a1307e,#b3367a,#c73d73,#d8456c,#e34e65,#e75263),
linear-gradient(90deg,#e75263,#e34e65,#d8456c,#c73d73,#b3367a,#a1307e,#962c80,#942c80,#992d80,#a6317d,#ba3878,#cf4070,#e04c67,#ed5a5f,#f4675c,#f7725c,#f9785d,#f9795d,#f9795d,#f9785d,#f9785d,#f9785d,#f9795d,#f9795d,#f9785d,#f7725c,#f4675c,#ed5a5f,#e04c67,#cf4070,#ba3878,#a6317d,#992d80,#942c80,#962c80,#a1307e,#b3367a,#c73d73,#d8456c,#e34e65,#e75263),
linear-gradient(90deg,#e85362,#e44f64,#d9466b,#c73d73,#b3367a,#a1307e,#962c80,#942c80,#992d80,#a6317d,#ba3878,#cf4070,#e24d66,#ef5d5e,#f66c5c,#f9785d,#fa7f5e,#fb835f,#fb8560,#fb8560,#fb8560,#fb8560,#fb8560,#fb835f,#fa7f5e,#f9785d,#f66c5c,#ef5d5e,#e24d66,#cf4070,#ba3878,#a6317d,#992d80,#942c80,#962c80,#a1307e,#b3367a,#c73d73,#d9466b,#e44f64,#e85362),
linear-gradient(90deg,#e85362,#e44f64,#d9466b,#c73d73,#b3367a,#a1307e,#962c80,#932b80,#992d80,#a6317d,#ba3878,#d0416f,#e34e65,#f05f5e,#f7705c,#fa7f5e,#fc8961,#fc8e64,#fc9065,#fd9266,#fd9266,#fd9266,#fc9065,#fc8e64,#fc8961,#fa7f5e,#f7705c,#f05f5e,#e34e65,#d0416f,#ba3878,#a6317d,#992d80,#932b80,#962c80,#a1307e,#b3367a,#c73d73,#d9466b,#e44f64,#e85362),
linear-gradient(90deg,#e85362,#e44f64,#d9466b,#c73d73,#b3367a,#a1307e,#962c80,#932b80,#992d80,#a6317d,#ba3878,#d0416f,#e44f64,#f2625d,#f8745c,#fb8560,#fc9065,#fd9869,#fd9b6b,#fe9d6c,#fe9f6d,#fe9d6c,#fd9b6b,#fd9869,#fc9065,#fb8560,#f8745c,#f2625d,#e44f64,#d0416f,#ba3878,#a6317d,#992d80,#932b80,#962c80,#a1307e,#b3367a,#c73d73,#d9466b,#e44f64,#e85362),
linear-gradient(90deg,#e75263,#e34e65,#d8456c,#c73d73,#b3367a,#a1307e,#962c80,#932b80,#992d80,#a6317d,#ba3878,#d0416f,#e55064,#f2645c,#f9795d,#fc8a62,#fd9869,#fea16e,#fea772,#feaa74,#feaa74,#feaa74,#fea772,#fea16e,#fd9869,#fc8a62,#f9795d,#f2645c,#e55064,#d0416f,#ba3878,#a6317d,#992d80,#932b80,#962c80,#a1307e,#b3367a,#c73d73,#d8456c,#e34e65,#e75263),
linear-gradient(90deg,#e75263,#e34e65,#d8456c,#c73d73,#b3367a,#a1307e,#962c80,#932b80,#992d80,#a6317d,#ba3878,#d2426f,#e55064,#f3655c,#fa7d5e,#fc9065,#fe9f6d,#fea973,#feb078,#feb67c,#feb67c,#feb67c,#feb078,#fea973,#fe9f6d,#fc9065,#fa7d5e,#f3655c,#e55064,#d2426f,#ba3878,#a6317d,#992d80,#932b80,#962c80,#a1307e,#b3367a,#c73d73,#d8456c,#e34e65,#e75263),
linear-gradient(90deg,#e55064,#e24d66,#d6456c,#c53c74,#b2357b,#a1307e,#962c80,#932b80,#992d80,#a6317d,#bc3978,#d2426f,#e75263,#f4675c,#fa7f5e,#fd9467,#fea571,#feb27a,#feb97f,#febf84,#fec185,#febf84,#feb97f,#feb27a,#fea571,#fd9467,#fa7f5e,#f4675c,#e75263,#d2426f,#bc3978,#a6317d,#992d80,#932b80,#962c80,#a1307e,#b2357b,#c53c74,#d6456c,#e24d66,#e55064),
linear-gradient(90deg,#e44f64,#e04c67,#d6456c,#c53c74,#b2357b,#a1307e,#962c80,#942c80,#992d80,#a8327d,#bc3978,#d2426f,#e85362,#f4695c,#fb835f,#fd9a6a,#feac76,#feb97f,#fec287,#fec88c,#feca8d,#fec88c,#fec287,#feb97f,#feac76,#fd9a6a,#fb835f,#f4695c,#e85362,#d2426f,#bc3978,#a8327d,#992d80,#942c80,#962c80,#a1307e,#b2357b,#c53c74,#d6456c,#e04c67,#e44f64),
linear-gradient(90deg,#e34e65,#df4a68,#d5446d,#c43c75,#b2357b,#a1307e,#962c80,#942c80,#992d80,#a8327d,#bc3978,#d2426f,#e85362,#f56b5c,#fb8761,#fe9d6c,#feb27a,#fec185,#fecc8f,#fed194,#fed395,#fed194,#fecc8f,#fec185,#feb27a,#fe9d6c,#fb8761,#f56b5c,#e85362,#d2426f,#bc3978,#a8327d,#992d80,#942c80,#962c80,#a1307e,#b2357b,#c43c75,#d5446d,#df4a68,#e34e65),
linear-gradient(90deg,#e24d66,#de4968,#d3436e,#c43c75,#b0357b,#a1307e,#982d80,#942c80,#9b2e7f,#a8327d,#bc3978,#d3436e,#e95462,#f66c5c,#fc8961,#fea16e,#feb67c,#fec68a,#fed395,#fdda9c,#fddc9e,#fdda9c,#fed395,#fec68a,#feb67c,#fea16e,#fc8961,#f66c5c,#e95462,#d3436e,#bc3978,#a8327d,#9b2e7f,#942c80,#982d80,#a1307e,#b0357b,#c43c75,#d3436e,#de4968,#e24d66),
linear-gradient(90deg,#df4a68,#dc4869,#d2426f,#c23b75,#b0357b,#a1307e,#982d80,#942c80,#9b2e7f,#a8327d,#bc3978,#d3436e,#e95462,#f66e5c,#fc8a62,#fea571,#febb81,#fecc8f,#fed89a,#fde2a3,#fde3a5,#fde2a3,#fed89a,#fecc8f,#febb81,#fea571,#fc8a62,#f66e5c,#e95462,#d3436e,#bc3978,#a8327d,#9b2e7f,#942c80,#982d80,#a1307e,#b0357b,#c23b75,#d2426f,#dc4869,#df4a68),
linear-gradient(90deg,#dc4869,#d9466b,#cf4070,#c03a76,#b0357b,#a1307e,#982d80,#962c80,#9b2e7f,#a8327d,#bd3977,#d3436e,#e95462,#f7705c,#fc8e64,#fea973,#febf84,#fed194,#fde0a1,#fde7a9,#fdebac,#fde7a9,#fde0a1,#fed194,#febf84,#fea973,#fc8e64,#f7705c,#e95462,#d3436e,#bd3977,#a8327d,#9b2e7f,#962c80,#982d80,#a1307e,#b0357b,#c03a76,#cf4070,#d9466b,#dc4869),
linear-gradient(90deg,#d9466b,#d6456c,#cd4071,#bf3a77,#ae347b,#a1307e,#982d80,#962c80,#9c2e7f,#aa337d,#bd3977,#d5446d,#ea5661,#f7705c,#fc9065,#feaa74,#fec287,#fed799,#fde3a5,#fcecae,#fcf0b2,#fcecae,#fde3a5,#fed799,#fec287,#feaa74,#fc9065,#f7705c,#ea5661,#d5446d,#bd3977,#aa337d,#9c2e7f,#962c80,#982d80,#a1307e,#ae347b,#bf3a77,#cd4071,#d6456c,#d9466b),
linear-gradient(90deg,#d6456c,#d3436e,#ca3e72,#bd3977,#ad347c,#a02f7f,#982d80,#982d80,#9c2e7f,#aa337d,#bd3977,#d5446d,#ea5661,#f7725c,#fc9065,#feac76,#fec68a,#fdda9c,#fde9aa,#fcf2b4,#fcf4b6,#fcf2b4,#fde9aa,#fdda9c,#fec68a,#feac76,#fc9065,#f7725c,#ea5661,#d5446d,#bd3977,#aa337d,#9c2e7f,#982d80,#982d80,#a02f7f,#ad347c,#bd3977,#ca3e72,#d3436e,#d6456c),
linear-gradient(90deg,#d3436e,#d0416f,#c83e73,#bc3978,#ad347c,#a02f7f,#992d80,#982d80,#9e2f7f,#ab337c,#bf3a77,#d5446d,#eb5760,#f7725c,#fd9266,#feae77,#fec88c,#fddc9e,#fcecae,#fcf6b8,#fcf9bb,#fcf6b8,#fcecae,#fddc9e,#fec88c,#feae77,#fd9266,#f7725c,#eb5760,#d5446d,#bf3a77,#ab337c,#9e2f7f,#982d80,#992d80,#a02f7f,#ad347c,#bc3978,#c83e73,#d0416f,#d3436e),
linear-gradient(90deg,#d0416f,#cd4071,#c53c74,#b83779,#ab337c,#a02f7f,#992d80,#992d80,#a02f7f,#ad347c,#bf3a77,#d6456c,#eb5760,#f8745c,#fd9266,#feb078,#feca8d,#fddea0,#fceeb0,#fcf7b9,#fcfbbd,#fcf7b9,#fceeb0,#fddea0,#feca8d,#feb078,#fd9266,#f8745c,#eb5760,#d6456c,#bf3a77,#ad347c,#a02f7f,#992d80,#992d80,#a02f7f,#ab337c,#b83779,#c53c74,#cd4071,#d0416f),
linear-gradient(90deg,#cd4071,#ca3e72,#c23b75,#b73779,#ab337c,#a02f7f,#9b2e7f,#992d80,#a02f7f,#ad347c,#c03a76,#d6456c,#eb5760,#f8745c,#fd9467,#feb27a,#fecc8f,#fde0a1,#fcf0b2,#fcf9bb,#fcfdbf,#fcf9bb,#fcf0b2,#fde0a1,#fecc8f,#feb27a,#fd9467,#f8745c,#eb5760,#d6456c,#c03a76,#ad347c,#a02f7f,#992d80,#9b2e7f,#a02f7f,#ab337c,#b73779,#c23b75,#ca3e72,#cd4071),
linear-gradient(90deg,#c83e73,#c73d73,#bf3a77,#b5367a,#aa337d,#a02f7f,#9b2e7f,#9b2e7f,#a1307e,#ae347b,#c23b75,#d8456c,#ec5860,#f8745c,#fd9467,#feb27a,#fecc8f,#fde0a1,#fcf0b2,#fcfbbd,#fcfdbf,#fcfbbd,#fcf0b2,#fde0a1,#fecc8f,#feb27a,#fd9467,#f8745c,#ec5860,#d8456c,#c23b75,#ae347b,#a1307e,#9b2e7f,#9b2e7f,#a02f7f,#aa337d,#b5367a,#bf3a77,#c73d73,#c83e73),
linear-gradient(90deg,#c53c74,#c23b75,#bc3978,#b3367a,#aa337d,#a1307e,#9c2e7f,#9c2e7f,#a3307e,#b0357b,#c43c75,#d8456c,#ec5860,#f8745c,#fd9467,#feb27a,#fecc8f,#fde0a1,#fcf0b2,#fcfbbd,#fcfdbf,#fcfbbd,#fcf0b2,#fde0a1,#fecc8f,#feb27a,#fd9467,#f8745c,#ec5860,#d8456c,#c43c75,#b0357b,#a3307e,#9c2e7f,#9c2e7f,#a1307e,#aa337d,#b3367a,#bc3978,#c23b75,#c53c74),
linear-gradient(90deg,#c03a76,#bf3a77,#ba3878,#b0357b,#a8327d,#a1307e,#9e2f7f,#9e2f7f,#a6317d,#b2357b,#c43c75,#d9466b,#ec5860,#f8765c,#fd9467,#feb078,#feca8d,#fde0a1,#fceeb0,#fcf9bb,#fcfdbf,#fcf9bb,#fceeb0,#fde0a1,#feca8d,#feb078,#fd9467,#f8765c,#ec5860,#d9466b,#c43c75,#b2357b,#a6317d,#9e2f7f,#9e2f7f,#a1307e,#a8327d,#b0357b,#ba3878,#bf3a77,#c03a76),
linear-gradient(90deg,#bd3977,#bc3978,#b73779,#ae347b,#a8327d,#a1307e,#9e2f7f,#a02f7f,#a8327d,#b5367a,#c53c74,#db476a,#ed5a5f,#f8745c,#fd9266,#feae77,#fec88c,#fddea0,#fcecae,#fcf7b9,#fcf9bb,#fcf7b9,#fcecae,#fddea0,#fec88c,#feae77,#fd9266,#f8745c,#ed5a5f,#db476a,#c53c74,#b5367a,#a8327d,#a02f7f,#9e2f7f,#a1307e,#a8327d,#ae347b,#b73779,#bc3978,#bd3977),
linear-gradient(90deg,#ba3878,#b83779,#b3367a,#ad347c,#a6317d,#a1307e,#a02f7f,#a3307e,#aa337d,#b73779,#c73d73,#db476a,#ed5a5f,#f8745c,#fd9266,#feae77,#fec68a,#fdda9c,#fde9aa,#fcf4b6,#fcf6b8,#fcf4b6,#fde9aa,#fdda9c,#fec68a,#feae77,#fd9266,#f8745c,#ed5a5f,#db476a,#c73d73,#b73779,#aa337d,#a3307e,#a02f7f,#a1307e,#a6317d,#ad347c,#b3367a,#b83779,#ba3878),
linear-gradient(90deg,#b73779,#b5367a,#b2357b,#ad347c,#a6317d,#a3307e,#a1307e,#a5317e,#ad347c,#b83779,#ca3e72,#dc4869,#ed5a5f,#f8745c,#fc9065,#feaa74,#fec287,#fed799,#fde5a7,#fceeb0,#fcf2b4,#fceeb0,#fde5a7,#fed799,#fec287,#feaa74,#fc9065,#f8745c,#ed5a5f,#dc4869,#ca3e72,#b83779,#ad347c,#a5317e,#a1307e,#a3307e,#a6317d,#ad347c,#b2357b,#b5367a,#b73779),
linear-gradient(90deg,#b3367a,#b3367a,#b0357b,#ab337c,#a6317d,#a5317e,#a3307e,#a8327d,#ae347b,#bc3978,#cc3f71,#de4968,#ed5a5f,#f8745c,#fc8e64,#fea973,#febf84,#fed395,#fde0a1,#fde9aa,#fcecae,#fde9aa,#fde0a1,#fed395,#febf84,#fea973,#fc8e64,#f8745c,#ed5a5f,#de4968,#cc3f71,#bc3978,#ae347b,#a8327d,#a3307e,#a5317e,#a6317d,#ab337c,#b0357b,#b3367a,#b3367a),
linear-gradient(90deg,#b2357b,#b0357b,#ae347b,#ab337c,#a8327d,#a5317e,#a6317d,#aa337d,#b2357b,#bd3977,#cd4071,#de4968,#ed5a5f,#f7725c,#fc8c63,#fea571,#febb81,#fecd90,#fdda9c,#fde3a5,#fde7a9,#fde3a5,#fdda9c,#fecd90,#febb81,#fea571,#fc8c63,#f7725c,#ed5a5f,#de4968,#cd4071,#bd3977,#b2357b,#aa337d,#a6317d,#a5317e,#a8327d,#ab337c,#ae347b,#b0357b,#b2357b),
linear-gradient(90deg,#b0357b,#ae347b,#ad347c,#aa337d,#a8327d,#a6317d,#a8327d,#ad347c,#b5367a,#c03a76,#cf4070,#df4a68,#ed5a5f,#f7705c,#fc8961,#fea16e,#feb67c,#fec68a,#fed597,#fddc9e,#fde0a1,#fddc9e,#fed597,#fec68a,#feb67c,#fea16e,#fc8961,#f7705c,#ed5a5f,#df4a68,#cf4070,#c03a76,#b5367a,#ad347c,#a8327d,#a6317d,#a8327d,#aa337d,#ad347c,#ae347b,#b0357b),
linear-gradient(90deg,#ae347b,#ae347b,#ad347c,#ab337c,#aa337d,#aa337d,#ab337c,#b0357b,#b83779,#c43c75,#d0416f,#e04c67,#ed5a5f,#f7705c,#fb8761,#fe9d6c,#feb078,#fec185,#fecd90,#fed597,#fed799,#fed597,#fecd90,#fec185,#feb078,#fe9d6c,#fb8761,#f7705c,#ed5a5f,#e04c67,#d0416f,#c43c75,#b83779,#b0357b,#ab337c,#aa337d,#aa337d,#ab337c,#ad347c,#ae347b,#ae347b),
linear-gradient(90deg,#ae347b,#ad347c,#ad347c,#ab337c,#ab337c,#ab337c,#ae347b,#b3367a,#bc3978,#c53c74,#d3436e,#e04c67,#ed5a5f,#f66e5c,#fb835f,#fd9869,#feaa74,#feb97f,#fec488,#fecc8f,#fecd90,#fecc8f,#fec488,#feb97f,#feaa74,#fd9869,#fb835f,#f66e5c,#ed5a5f,#e04c67,#d3436e,#c53c74,#bc3978,#b3367a,#ae347b,#ab337c,#ab337c,#ab337c,#ad347c,#ad347c,#ae347b),
linear-gradient(90deg,#ae347b,#ad347c,#ad347c,#ad347c,#ad347c,#ae347b,#b2357b,#b73779,#bf3a77,#c83e73,#d5446d,#e24d66,#ed5a5f,#f66c5c,#fa7f5e,#fd9266,#fea36f,#feb27a,#febb81,#fec287,#fec488,#fec287,#febb81,#feb27a,#fea36f,#fd9266,#fa7f5e,#f66c5c,#ed5a5f,#e24d66,#d5446d,#c83e73,#bf3a77,#b73779,#b2357b,#ae347b,#ad347c,#ad347c,#ad347c,#ad347c,#ae347b),
linear-gradient(90deg,#ae347b,#ae347b,#ae347b,#ae347b,#ae347b,#b0357b,#b5367a,#ba3878,#c23b75,#cc3f71,#d6456c,#e34e65,#ed5a5f,#f4695c,#f97b5d,#fc8c63,#fd9b6b,#fea973,#feb27a,#feb77e,#febb81,#feb77e,#feb27a,#fea973,#fd9b6b,#fc8c63,#f97b5d,#f4695c,#ed5a5f,#e34e65,#d6456c,#cc3f71,#c23b75,#ba3878,#b5367a,#b0357b,#ae347b,#ae347b,#ae347b,#ae347b,#ae347b),
linear-gradient(90deg,#b0357b,#b0357b,#b0357b,#b0357b,#b2357b,#b3367a,#b83779,#bd3977,#c53c74,#cd4071,#d8456c,#e34e65,#ec5860,#f4675c,#f9785d,#fb8761,#fd9467,#fe9f6d,#fea973,#feae77,#feb078,#feae77,#fea973,#fe9f6d,#fd9467,#fb8761,#f9785d,#f4675c,#ec5860,#e34e65,#d8456c,#cd4071,#c53c74,#bd3977,#b83779,#b3367a,#b2357b,#b0357b,#b0357b,#b0357b,#b0357b),
linear-gradient(90deg,#b2357b,#b2357b,#b2357b,#b3367a,#b5367a,#b83779,#bc3978,#c03a76,#c83e73,#d0416f,#d9466b,#e34e65,#ec5860,#f3655c,#f7725c,#fa815f,#fc8c63,#fd9668,#fe9d6c,#fea36f,#fea571,#fea36f,#fe9d6c,#fd9668,#fc8c63,#fa815f,#f7725c,#f3655c,#ec5860,#e34e65,#d9466b,#d0416f,#c83e73,#c03a76,#bc3978,#b83779,#b5367a,#b3367a,#b2357b,#b2357b,#b2357b),
linear-gradient(90deg,#b5367a,#b5367a,#b5367a,#b73779,#b83779,#bc3978,#c03a76,#c53c74,#cc3f71,#d3436e,#db476a,#e44f64,#eb5760,#f2625d,#f66e5c,#f9795d,#fb8560,#fc8c63,#fd9467,#fd9869,#fd9a6a,#fd9869,#fd9467,#fc8c63,#fb8560,#f9795d,#f66e5c,#f2625d,#eb5760,#e44f64,#db476a,#d3436e,#cc3f71,#c53c74,#c03a76,#bc3978,#b83779,#b73779,#b5367a,#b5367a,#b5367a),
linear-gradient(90deg,#b83779,#b83779,#ba3878,#bc3978,#bd3977,#c03a76,#c43c75,#c83e73,#cf4070,#d5446d,#dc4869,#e44f64,#eb5760,#f05f5e,#f4695c,#f7725c,#f97b5d,#fb835f,#fc8961,#fc8c63,#fc8c63,#fc8c63,#fc8961,#fb835f,#f97b5d,#f7725c,#f4695c,#f05f5e,#eb5760,#e44f64,#dc4869,#d5446d,#cf4070,#c83e73,#c43c75,#c03a76,#bd3977,#bc3978,#ba3878,#b83779,#b83779),
linear-gradient(90deg,#bd3977,#bd3977,#bf3a77,#c03a76,#c23b75,#c53c74,#c83e73,#cd4071,#d2426f,#d8456c,#de4968,#e44f64,#ea5661,#ee5b5e,#f2645c,#f66c5c,#f7725c,#f9795d,#fa7d5e,#fa815f,#fa815f,#fa815f,#fa7d5e,#f9795d,#f7725c,#f66c5c,#f2645c,#ee5b5e,#ea5661,#e44f64,#de4968,#d8456c,#d2426f,#cd4071,#c83e73,#c53c74,#c23b75,#c03a76,#bf3a77,#bd3977,#bd3977),
linear-gradient(90deg,#c23b75,#c43c75,#c43c75,#c53c74,#c73d73,#ca3e72,#cd4071,#d0416f,#d5446d,#d9466b,#df4a68,#e44f64,#e95462,#ed5a5f,#f05f5e,#f3655c,#f56b5c,#f66e5c,#f7725c,#f8745c,#f8765c,#f8745c,#f7725c,#f66e5c,#f56b5c,#f3655c,#f05f5e,#ed5a5f,#e95462,#e44f64,#df4a68,#d9466b,#d5446d,#d0416f,#cd4071,#ca3e72,#c73d73,#c53c74,#c43c75,#c43c75,#c23b75),
linear-gradient(90deg,#c83e73,#c83e73,#ca3e72,#ca3e72,#cd4071,#cf4070,#d2426f,#d5446d,#d8456c,#dc4869,#e04c67,#e34e65,#e75263,#ea5661,#ed5a5f,#f05f5e,#f2625d,#f3655c,#f4675c,#f4695c,#f56b5c,#f4695c,#f4675c,#f3655c,#f2625d,#f05f5e,#ed5a5f,#ea5661,#e75263,#e34e65,#e04c67,#dc4869,#d8456c,#d5446d,#d2426f,#cf4070,#cd4071,#ca3e72,#ca3e72,#c83e73,#c83e73),
linear-gradient(90deg,#cf4070,#cf4070,#d0416f,#d0416f,#d2426f,#d3436e,#d6456c,#d8456c,#db476a,#de4968,#e04c67,#e34e65,#e55064,#e85362,#ea5661,#ec5860,#ee5b5e,#ef5d5e,#f05f5e,#f05f5e,#f1605d,#f05f5e,#f05f5e,#ef5d5e,#ee5b5e,#ec5860,#ea5661,#e85362,#e55064,#e34e65,#e04c67,#de4968,#db476a,#d8456c,#d6456c,#d3436e,#d2426f,#d0416f,#d0416f,#cf4070,#cf4070),
linear-gradient(90deg,#d6456c,#d6456c,#d6456c,#d8456c,#d8456c,#d9466b,#db476a,#dc4869,#de4968,#df4a68,#e04c67,#e34e65,#e44f64,#e55064,#e75263,#e85362,#e95462,#ea5661,#ea5661,#eb5760,#eb5760,#eb5760,#ea5661,#ea5661,#e95462,#e85362,#e75263,#e55064,#e44f64,#e34e65,#e04c67,#df4a68,#de4968,#dc4869,#db476a,#d9466b,#d8456c,#d8456c,#d6456c,#d6456c,#d6456c),
linear-gradient(90deg,#de4968,#de4968,#de4968,#de4968,#de4968,#df4a68,#df4a68,#df4a68,#e04c67,#e04c67,#e04c67,#e24d66,#e24d66,#e34e65,#e34e65,#e34e65,#e44f64,#e44f64,#e44f64,#e44f64,#e44f64,#e44f64,#e44f64,#e44f64,#e44f64,#e34e65,#e34e65,#e34e65,#e24d66,#e24d66,#e04c67,#e04c67,#e04c67,#df4a68,#df4a68,#df4a68,#de4968,#de4968,#de4968,#de4968,#de4968);background-size:100% 3.48px;background-position:0 146.92px,0 145.43px,0 143.95px,0 142.46px,0 140.98px,0 139.50px,0 138.01px,0 136.53px,0 135.04px,0 133.56px,0 132.08px,0 130.59px,0 129.11px,0 127.62px,0 126.14px,0 124.66px,0 123.17px,0 121.69px,0 120.20px,0 118.72px,0 117.24px,0 115.75px,0 114.27px,0 112.78px,0 111.30px,0 109.82px,0 108.33px,0 106.85px,0 105.36px,0 103.88px,0 102.40px,0 100.91px,0 99.43px,0 97.94px,0 96.46px,0 94.98px,0 93.49px,0 92.01px,0 90.52px,0 89.04px,0 87.56px,0 86.07px,0 84.59px,0 83.10px,0 81.62px,0 80.14px,0 78.65px,0 77.17px,0 75.68px,0 74.20px,0 72.72px,0 71.23px,0 69.75px,0 68.26px,0 66.78px,0 65.30px,0 63.81px,0 62.33px,0 60.84px,0 59.36px,0 57.88px,0 56.39px,0 54.91px,0 53.42px,0 51.94px,0 50.46px,0 48.97px,0 47.49px,0 46.00px,0 44.52px,0 43.04px,0 41.55px,0 40.07px,0 38.58px,0 37.10px,0 35.62px,0 34.13px,0 32.65px,0 31.16px,0 29.68px,0 28.20px,0 26.71px,0 25.23px,0 23.74px,0 22.26px,0 20.78px,0 19.29px,0 17.81px,0 16.32px,0 14.84px,0 13.36px,0 11.87px,0 10.39px,0 8.90px,0 7.42px,0 5.94px,0 4.45px,0 2.97px,0 1.48px,0 0.00px}
</style></head><body><div id="fig">
<div class="m" id="m1"></div>
<div class="m" id="m2"></div>
<div class="m" id="m3"></div>
<div class="m" id="m4"></div>
<div class="m" id="m5"></div>
<div class="m" id="m6"></div>
<div id="cb"></div>
<svg width="1018" height="744" viewBox="0 0 1018 744">
<line x1="109.05" y1="151.45" x2="122.75" y2="151.45"/>
<text x="96.2" y="163.45" text-anchor="end">−45</text>
<line x1="109.05" y1="114.35" x2="122.75" y2="114.35"/>
<text x="96.2" y="126.35" text-anchor="end">0</text>
<line x1="109.05" y1="77.25" x2="122.75" y2="77.25"/>
<text x="96.2" y="89.25" text-anchor="end">45</text>
<line x1="197.01" y1="188.55" x2="197.01" y2="202.25"/>
<line x1="271.27" y1="188.55" x2="271.27" y2="202.25"/>
<line x1="345.54" y1="188.55" x2="345.54" y2="202.25"/>
<rect x="122.75" y="40.15" width="297.05" height="148.40" fill="none"/>
<text x="271.27" y="28.85" text-anchor="middle" style="font-size:37.50px">Eigenmap 1</text>
<line x1="465.27" y1="151.45" x2="478.97" y2="151.45"/>
<line x1="465.27" y1="114.35" x2="478.97" y2="114.35"/>
<line x1="465.27" y1="77.25" x2="478.97" y2="77.25"/>
<line x1="553.24" y1="188.55" x2="553.24" y2="202.25"/>
<line x1="627.50" y1="188.55" x2="627.50" y2="202.25"/>
<line x1="701.76" y1="188.55" x2="701.76" y2="202.25"/>
<rect x="478.97" y="40.15" width="297.06" height="148.40" fill="none"/>
<text x="627.50" y="28.85" text-anchor="middle" style="font-size:37.50px">Eigenmap 2</text>
<line x1="109.05" y1="380.65" x2="122.75" y2="380.65"/>
<text x="96.2" y="392.65" text-anchor="end">−45</text>
<line x1="109.05" y1="343.55" x2="122.75" y2="343.55"/>
<text x="96.2" y="355.55" text-anchor="end">0</text>
<line x1="109.05" y1="306.45" x2="122.75" y2="306.45"/>
<text x="96.2" y="318.45" text-anchor="end">45</text>
<line x1="197.01" y1="417.75" x2="197.01" y2="431.45"/>
<line x1="271.27" y1="417.75" x2="271.27" y2="431.45"/>
<line x1="345.54" y1="417.75" x2="345.54" y2="431.45"/>
<rect x="122.75" y="269.35" width="297.05" height="148.40" fill="none"/>
<text x="271.27" y="258.05" text-anchor="middle" style="font-size:37.50px">Eigenmap 3</text>
<line x1="465.27" y1="380.65" x2="478.97" y2="380.65"/>
<line x1="465.27" y1="343.55" x2="478.97" y2="343.55"/>
<line x1="465.27" y1="306.45" x2="478.97" y2="306.45"/>
<line x1="553.24" y1="417.75" x2="553.24" y2="431.45"/>
<line x1="627.50" y1="417.75" x2="627.50" y2="431.45"/>
<line x1="701.76" y1="417.75" x2="701.76" y2="431.45"/>
<rect x="478.97" y="269.35" width="297.06" height="148.40" fill="none"/>
<text x="627.50" y="258.05" text-anchor="middle" style="font-size:37.50px">Eigenmap 4</text>
<line x1="109.05" y1="609.85" x2="122.75" y2="609.85"/>
<text x="96.2" y="621.85" text-anchor="end">−45</text>
<line x1="109.05" y1="572.75" x2="122.75" y2="572.75"/>
<text x="96.2" y="584.75" text-anchor="end">0</text>
<line x1="109.05" y1="535.65" x2="122.75" y2="535.65"/>
<text x="96.2" y="547.65" text-anchor="end">45</text>
<line x1="197.01" y1="646.95" x2="197.01" y2="660.65"/>
<text x="197.01" y="697.6" text-anchor="middle">−90</text>
<line x1="271.27" y1="646.95" x2="271.27" y2="660.65"/>
<text x="271.27" y="697.6" text-anchor="middle">0</text>
<line x1="345.54" y1="646.95" x2="345.54" y2="660.65"/>
<text x="345.54" y="697.6" text-anchor="middle">90</text>
<rect x="122.75" y="498.55" width="297.05" height="148.40" fill="none"/>
<text x="271.27" y="487.25" text-anchor="middle" style="font-size:37.50px">Eigenmap 5</text>
<line x1="465.27" y1="609.85" x2="478.97" y2="609.85"/>
<line x1="465.27" y1="572.75" x2="478.97" y2="572.75"/>
<line x1="465.27" y1="535.65" x2="478.97" y2="535.65"/>
<line x1="553.24" y1="646.95" x2="553.24" y2="660.65"/>
<text x="553.24" y="697.6" text-anchor="middle">−90</text>
<line x1="627.50" y1="646.95" x2="627.50" y2="660.65"/>
<text x="627.50" y="697.6" text-anchor="middle">0</text>
<line x1="701.76" y1="646.95" x2="701.76" y2="660.65"/>
<text x="701.76" y="697.6" text-anchor="middle">90</text>
<rect x="478.97" y="498.55" width="297.06" height="148.40" fill="none"/>
<text x="627.50" y="487.25" text-anchor="middle" style="font-size:37.50px">Eigenmap 6</text>
<rect x="816.90" y="19.00" width="32.45" height="649.00" fill="none"/>
<line x1="849.35" y1="19.20" x2="863.05" y2="19.20"/>
<text x="876.0" y="31.20">1.00</text>
<line x1="849.35" y1="97.37" x2="863.05" y2="97.37"/>
<text x="876.0" y="109.37">0.75</text>
<line x1="849.35" y1="175.54" x2="863.05" y2="175.54"/>
<text x="876.0" y="187.54">0.50</text>
<line x1="849.35" y1="253.71" x2="863.05" y2="253.71"/>
<text x="876.0" y="265.71">0.25</text>
<line x1="849.35" y1="331.88" x2="863.05" y2="331.88"/>
<text x="876.0" y="343.88">0.00</text>
<line x1="849.35" y1="410.05" x2="863.05" y2="410.05"/>
<text x="876.0" y="422.05">−0.25</text>
<line x1="849.35" y1="488.22" x2="863.05" y2="488.22"/>
<text x="876.0" y="500.22">−0.50</text>
<line x1="849.35" y1="566.39" x2="863.05" y2="566.39"/>
<text x="876.0" y="578.39">−0.75</text>
<line x1="849.35" y1="644.56" x2="863.05" y2="644.56"/>
<text x="876.0" y="656.56">−1.00</text>
<text x="406.3" y="737.6" style="font-size:31.3px">Longitude (deg)</text>
<text transform="translate(23.8,343.4) rotate(-90)" text-anchor="middle" style="font-size:31.2px">Latitude (deg)</text>
<text transform="translate(1011.5,342.5) rotate(-90)" text-anchor="middle">Flux (arbitrary)</text>
</svg>
</div></body></html>
